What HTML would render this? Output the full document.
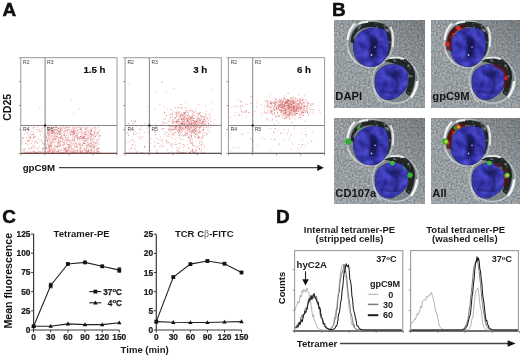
<!DOCTYPE html>
<html><head><meta charset="utf-8"><style>
html,body{margin:0;padding:0;background:#fff;width:520px;height:356px;overflow:hidden}
svg{display:block;will-change:transform;filter:blur(0.3px)}
text{font-family:"Liberation Sans", sans-serif}
</style></head><body>
<svg width="520" height="356" viewBox="0 0 520 356" font-family='"Liberation Sans", sans-serif'>
<defs>
<filter id="nzA" x="0" y="0" width="100%" height="100%" color-interpolation-filters="sRGB"><feTurbulence type="fractalNoise" baseFrequency="0.55" numOctaves="2" seed="4"/><feColorMatrix type="matrix" values="0.42 0 0 0 0.385  0.42 0 0 0 0.41  0.42 0 0 0 0.425  0 0 0 0 1"/></filter>
<filter id="patchy" x="-10%" y="-10%" width="120%" height="120%" color-interpolation-filters="sRGB"><feTurbulence type="fractalNoise" baseFrequency="0.22" numOctaves="2" seed="2" result="n"/><feColorMatrix in="n" type="matrix" values="0 0 0 0 0  0 0 0 0 0  0 0 0 0 0  4.0 0 0 0 -0.75" result="m"/><feComposite in="SourceGraphic" in2="m" operator="in"/></filter>
<filter id="nuc" x="0" y="0" width="100%" height="100%" color-interpolation-filters="sRGB"><feTurbulence type="fractalNoise" baseFrequency="0.13" numOctaves="2" seed="5"/><feColorMatrix type="matrix" values="0.24 0 0 0 0.11  0.24 0 0 0 0.11  0.42 0 0 0 0.49  0 0 0 0 1"/><feComposite in2="SourceAlpha" operator="in"/></filter>
<linearGradient id="shade" x1="0" y1="1" x2="1" y2="0"><stop offset="0" stop-color="#fff" stop-opacity="0.06"/><stop offset="0.45" stop-color="#000" stop-opacity="0"/><stop offset="1" stop-color="#000" stop-opacity="0.22"/></linearGradient>
<filter id="soft" x="-20%" y="-20%" width="140%" height="140%"><feGaussianBlur stdDeviation="0.9"/></filter>
<filter id="soft2" x="-5%" y="-5%" width="110%" height="110%"><feGaussianBlur stdDeviation="0.45"/></filter>
</defs>
<clipPath id="cp1"><rect x="0" y="0" width="91" height="88"/></clipPath>
<g transform="translate(334,20)" clip-path="url(#cp1)">
<rect width="91" height="88" fill="#8c9497"/>
<rect width="91" height="88" filter="url(#nzA)" />
<rect width="91" height="88" fill="url(#shade)" />
<g transform="translate(0,0)">
<g filter="url(#soft2)">
<ellipse cx="36" cy="24" rx="22" ry="22.8" fill="#6c7476" opacity="0.55"/>
<circle cx="61.3" cy="60.3" r="22.3" fill="#6c7476" opacity="0.55"/>
<ellipse cx="36" cy="24" rx="22.6" ry="23.3" fill="none" stroke="#e2e6e6" stroke-width="1.8" opacity="0.45"/>
<circle cx="61.3" cy="60.3" r="22.9" fill="none" stroke="#e2e6e6" stroke-width="1.8" opacity="0.45"/>
<path d="M16.5 22 Q17 9 28 3.5 Q40 0 50 4 Q57.5 9 57.5 20 Q57 29 54 36 L51 33 Q53.5 24 52 15 Q48 8.5 39 7 Q29 6.5 23 12 Q19.5 17 20 24Z" fill="#1c2121" opacity="0.95" filter="url(#patchy)"/>
<path d="M50 41 Q61 36 72 39.5 Q81.5 46 81 58 Q80 68 75.5 76 L71.5 73 Q75.5 63 74 53 Q69 45.5 58 43Z" fill="#1a201e" opacity="0.95" filter="url(#patchy)"/>
<path d="M13.6 20 Q14.5 9 21 3.5" fill="none" stroke="#f2f4f4" stroke-width="2.2" opacity="0.95"/>
<path d="M25 3.6 Q29 1.6 34 2" fill="none" stroke="#f2f4f4" stroke-width="2" opacity="0.9"/>
<path d="M56.5 7 Q60.5 15 58.6 27" fill="none" stroke="#eef0f0" stroke-width="1.9" opacity="0.9"/>
<path d="M83 61 Q82.5 70 77 77.5" fill="none" stroke="#f4f6f6" stroke-width="2.3"/>
<path d="M56 38 Q63 36.8 70 39" fill="none" stroke="#eef0f0" stroke-width="1.9" opacity="0.9"/>
<path d="M14.5 30 Q17 38 23 43" fill="none" stroke="#d8dcdc" stroke-width="1.6" opacity="0.6"/>
<path d="M40 68 Q41 78 48 82" fill="none" stroke="#d8dcdc" stroke-width="1.6" opacity="0.6"/>
</g>
<path d="M40.00 8.00C41.92 8.07 45.08 8.22 47.00 8.80C48.92 9.38 50.33 9.97 51.50 11.50C52.67 13.03 53.48 15.75 54.00 18.00C54.52 20.25 54.67 22.50 54.60 25.00C54.53 27.50 54.28 30.58 53.60 33.00C52.92 35.42 51.93 37.58 50.50 39.50C49.07 41.42 46.92 43.32 45.00 44.50C43.08 45.68 41.08 46.35 39.00 46.60C36.92 46.85 34.50 46.52 32.50 46.00C30.50 45.48 28.67 44.75 27.00 43.50C25.33 42.25 23.70 40.58 22.50 38.50C21.30 36.42 20.22 33.58 19.80 31.00C19.38 28.42 19.50 25.42 20.00 23.00C20.50 20.58 21.63 18.33 22.80 16.50C23.97 14.67 25.55 13.15 27.00 12.00C28.45 10.85 30.08 10.20 31.50 9.60C32.92 9.00 34.08 8.67 35.50 8.40C36.92 8.13 38.08 7.93 40.00 8.00Z" fill="#22226a" stroke="#22226a" stroke-width="0.8"/>
<path d="M58.40 44.70C60.07 44.70 62.23 44.62 64.00 45.00C65.77 45.38 67.58 46.00 69.00 47.00C70.42 48.00 71.67 49.33 72.50 51.00C73.33 52.67 73.83 54.83 74.00 57.00C74.17 59.17 74.00 61.83 73.50 64.00C73.00 66.17 72.25 68.17 71.00 70.00C69.75 71.83 67.83 73.58 66.00 75.00C64.17 76.42 61.77 77.72 60.00 78.50C58.23 79.28 57.23 79.70 55.40 79.70C53.57 79.70 50.73 79.28 49.00 78.50C47.27 77.72 46.17 76.58 45.00 75.00C43.83 73.42 42.63 71.17 42.00 69.00C41.37 66.83 41.20 64.33 41.20 62.00C41.20 59.67 41.37 57.00 42.00 55.00C42.63 53.00 43.67 51.42 45.00 50.00C46.33 48.58 48.50 47.33 50.00 46.50C51.50 45.67 52.60 45.30 54.00 45.00C55.40 44.70 56.73 44.70 58.40 44.70Z" fill="#22226a" stroke="#22226a" stroke-width="0.8"/>
<path d="M40.00 8.00C41.92 8.07 45.08 8.22 47.00 8.80C48.92 9.38 50.33 9.97 51.50 11.50C52.67 13.03 53.48 15.75 54.00 18.00C54.52 20.25 54.67 22.50 54.60 25.00C54.53 27.50 54.28 30.58 53.60 33.00C52.92 35.42 51.93 37.58 50.50 39.50C49.07 41.42 46.92 43.32 45.00 44.50C43.08 45.68 41.08 46.35 39.00 46.60C36.92 46.85 34.50 46.52 32.50 46.00C30.50 45.48 28.67 44.75 27.00 43.50C25.33 42.25 23.70 40.58 22.50 38.50C21.30 36.42 20.22 33.58 19.80 31.00C19.38 28.42 19.50 25.42 20.00 23.00C20.50 20.58 21.63 18.33 22.80 16.50C23.97 14.67 25.55 13.15 27.00 12.00C28.45 10.85 30.08 10.20 31.50 9.60C32.92 9.00 34.08 8.67 35.50 8.40C36.92 8.13 38.08 7.93 40.00 8.00Z" fill="#3a3ab4" filter="url(#nuc)"/>
<path d="M58.40 44.70C60.07 44.70 62.23 44.62 64.00 45.00C65.77 45.38 67.58 46.00 69.00 47.00C70.42 48.00 71.67 49.33 72.50 51.00C73.33 52.67 73.83 54.83 74.00 57.00C74.17 59.17 74.00 61.83 73.50 64.00C73.00 66.17 72.25 68.17 71.00 70.00C69.75 71.83 67.83 73.58 66.00 75.00C64.17 76.42 61.77 77.72 60.00 78.50C58.23 79.28 57.23 79.70 55.40 79.70C53.57 79.70 50.73 79.28 49.00 78.50C47.27 77.72 46.17 76.58 45.00 75.00C43.83 73.42 42.63 71.17 42.00 69.00C41.37 66.83 41.20 64.33 41.20 62.00C41.20 59.67 41.37 57.00 42.00 55.00C42.63 53.00 43.67 51.42 45.00 50.00C46.33 48.58 48.50 47.33 50.00 46.50C51.50 45.67 52.60 45.30 54.00 45.00C55.40 44.70 56.73 44.70 58.40 44.70Z" fill="#3a3ab4" filter="url(#nuc)"/>
<path d="M35 16 Q42 14 44.5 22 Q44.5 31 42 37 Q38.5 41 34.5 38 Q36.5 30 35.5 24Z" fill="#1c1c66" opacity="1" filter="url(#soft)"/>
<ellipse cx="40" cy="24" rx="2" ry="2.4" fill="#14143e" opacity="0.9" filter="url(#soft)"/>
<ellipse cx="39" cy="31" rx="2.4" ry="3.4" fill="#16164a" opacity="0.9" filter="url(#soft)"/>
<circle cx="41" cy="27" r="0.8" fill="#b8b8c8"/>
<circle cx="37.5" cy="35" r="0.9" fill="#c8c8d8"/>
<path d="M52 52.5 Q57 54 61 57 Q64.5 62 63.5 66 Q62.5 70 60.5 72.5" fill="none" stroke="#1a1a5e" stroke-width="2.4" opacity="0.8" filter="url(#soft)"/>
<path d="M44.5 70 Q52 73.5 60.5 72.5 Q64 73 67 71" fill="none" stroke="#1a1a5e" stroke-width="2" opacity="0.75" filter="url(#soft)"/>
<ellipse cx="62" cy="53.5" rx="4.5" ry="3.5" fill="#181848" opacity="0.7" filter="url(#soft)"/>

</g>
<text x="1.3" y="80" font-size="11.2" font-weight="bold" fill="#141414">DAPI</text>
</g>
<clipPath id="cp2"><rect x="0" y="0" width="89" height="88"/></clipPath>
<g transform="translate(431,20)" clip-path="url(#cp2)">
<rect width="89" height="88" fill="#8c9497"/>
<rect width="89" height="88" filter="url(#nzA)" />
<rect width="89" height="88" fill="url(#shade)" />
<g transform="translate(0,0)">
<g filter="url(#soft2)">
<ellipse cx="36" cy="24" rx="22" ry="22.8" fill="#6c7476" opacity="0.55"/>
<circle cx="61.3" cy="60.3" r="22.3" fill="#6c7476" opacity="0.55"/>
<ellipse cx="36" cy="24" rx="22.6" ry="23.3" fill="none" stroke="#e2e6e6" stroke-width="1.8" opacity="0.45"/>
<circle cx="61.3" cy="60.3" r="22.9" fill="none" stroke="#e2e6e6" stroke-width="1.8" opacity="0.45"/>
<path d="M16.5 22 Q17 9 28 3.5 Q40 0 50 4 Q57.5 9 57.5 20 Q57 29 54 36 L51 33 Q53.5 24 52 15 Q48 8.5 39 7 Q29 6.5 23 12 Q19.5 17 20 24Z" fill="#1c2121" opacity="0.95" filter="url(#patchy)"/>
<path d="M50 41 Q61 36 72 39.5 Q81.5 46 81 58 Q80 68 75.5 76 L71.5 73 Q75.5 63 74 53 Q69 45.5 58 43Z" fill="#1a201e" opacity="0.95" filter="url(#patchy)"/>
<path d="M13.6 20 Q14.5 9 21 3.5" fill="none" stroke="#f2f4f4" stroke-width="2.2" opacity="0.95"/>
<path d="M25 3.6 Q29 1.6 34 2" fill="none" stroke="#f2f4f4" stroke-width="2" opacity="0.9"/>
<path d="M56.5 7 Q60.5 15 58.6 27" fill="none" stroke="#eef0f0" stroke-width="1.9" opacity="0.9"/>
<path d="M83 61 Q82.5 70 77 77.5" fill="none" stroke="#f4f6f6" stroke-width="2.3"/>
<path d="M56 38 Q63 36.8 70 39" fill="none" stroke="#eef0f0" stroke-width="1.9" opacity="0.9"/>
<path d="M14.5 30 Q17 38 23 43" fill="none" stroke="#d8dcdc" stroke-width="1.6" opacity="0.6"/>
<path d="M40 68 Q41 78 48 82" fill="none" stroke="#d8dcdc" stroke-width="1.6" opacity="0.6"/>
</g>
<path d="M40.00 8.00C41.92 8.07 45.08 8.22 47.00 8.80C48.92 9.38 50.33 9.97 51.50 11.50C52.67 13.03 53.48 15.75 54.00 18.00C54.52 20.25 54.67 22.50 54.60 25.00C54.53 27.50 54.28 30.58 53.60 33.00C52.92 35.42 51.93 37.58 50.50 39.50C49.07 41.42 46.92 43.32 45.00 44.50C43.08 45.68 41.08 46.35 39.00 46.60C36.92 46.85 34.50 46.52 32.50 46.00C30.50 45.48 28.67 44.75 27.00 43.50C25.33 42.25 23.70 40.58 22.50 38.50C21.30 36.42 20.22 33.58 19.80 31.00C19.38 28.42 19.50 25.42 20.00 23.00C20.50 20.58 21.63 18.33 22.80 16.50C23.97 14.67 25.55 13.15 27.00 12.00C28.45 10.85 30.08 10.20 31.50 9.60C32.92 9.00 34.08 8.67 35.50 8.40C36.92 8.13 38.08 7.93 40.00 8.00Z" fill="#22226a" stroke="#22226a" stroke-width="0.8"/>
<path d="M58.40 44.70C60.07 44.70 62.23 44.62 64.00 45.00C65.77 45.38 67.58 46.00 69.00 47.00C70.42 48.00 71.67 49.33 72.50 51.00C73.33 52.67 73.83 54.83 74.00 57.00C74.17 59.17 74.00 61.83 73.50 64.00C73.00 66.17 72.25 68.17 71.00 70.00C69.75 71.83 67.83 73.58 66.00 75.00C64.17 76.42 61.77 77.72 60.00 78.50C58.23 79.28 57.23 79.70 55.40 79.70C53.57 79.70 50.73 79.28 49.00 78.50C47.27 77.72 46.17 76.58 45.00 75.00C43.83 73.42 42.63 71.17 42.00 69.00C41.37 66.83 41.20 64.33 41.20 62.00C41.20 59.67 41.37 57.00 42.00 55.00C42.63 53.00 43.67 51.42 45.00 50.00C46.33 48.58 48.50 47.33 50.00 46.50C51.50 45.67 52.60 45.30 54.00 45.00C55.40 44.70 56.73 44.70 58.40 44.70Z" fill="#22226a" stroke="#22226a" stroke-width="0.8"/>
<path d="M40.00 8.00C41.92 8.07 45.08 8.22 47.00 8.80C48.92 9.38 50.33 9.97 51.50 11.50C52.67 13.03 53.48 15.75 54.00 18.00C54.52 20.25 54.67 22.50 54.60 25.00C54.53 27.50 54.28 30.58 53.60 33.00C52.92 35.42 51.93 37.58 50.50 39.50C49.07 41.42 46.92 43.32 45.00 44.50C43.08 45.68 41.08 46.35 39.00 46.60C36.92 46.85 34.50 46.52 32.50 46.00C30.50 45.48 28.67 44.75 27.00 43.50C25.33 42.25 23.70 40.58 22.50 38.50C21.30 36.42 20.22 33.58 19.80 31.00C19.38 28.42 19.50 25.42 20.00 23.00C20.50 20.58 21.63 18.33 22.80 16.50C23.97 14.67 25.55 13.15 27.00 12.00C28.45 10.85 30.08 10.20 31.50 9.60C32.92 9.00 34.08 8.67 35.50 8.40C36.92 8.13 38.08 7.93 40.00 8.00Z" fill="#3a3ab4" filter="url(#nuc)"/>
<path d="M58.40 44.70C60.07 44.70 62.23 44.62 64.00 45.00C65.77 45.38 67.58 46.00 69.00 47.00C70.42 48.00 71.67 49.33 72.50 51.00C73.33 52.67 73.83 54.83 74.00 57.00C74.17 59.17 74.00 61.83 73.50 64.00C73.00 66.17 72.25 68.17 71.00 70.00C69.75 71.83 67.83 73.58 66.00 75.00C64.17 76.42 61.77 77.72 60.00 78.50C58.23 79.28 57.23 79.70 55.40 79.70C53.57 79.70 50.73 79.28 49.00 78.50C47.27 77.72 46.17 76.58 45.00 75.00C43.83 73.42 42.63 71.17 42.00 69.00C41.37 66.83 41.20 64.33 41.20 62.00C41.20 59.67 41.37 57.00 42.00 55.00C42.63 53.00 43.67 51.42 45.00 50.00C46.33 48.58 48.50 47.33 50.00 46.50C51.50 45.67 52.60 45.30 54.00 45.00C55.40 44.70 56.73 44.70 58.40 44.70Z" fill="#3a3ab4" filter="url(#nuc)"/>
<path d="M35 16 Q42 14 44.5 22 Q44.5 31 42 37 Q38.5 41 34.5 38 Q36.5 30 35.5 24Z" fill="#1c1c66" opacity="1" filter="url(#soft)"/>
<ellipse cx="40" cy="24" rx="2" ry="2.4" fill="#14143e" opacity="0.9" filter="url(#soft)"/>
<ellipse cx="39" cy="31" rx="2.4" ry="3.4" fill="#16164a" opacity="0.9" filter="url(#soft)"/>
<circle cx="41" cy="27" r="0.8" fill="#b8b8c8"/>
<circle cx="37.5" cy="35" r="0.9" fill="#c8c8d8"/>
<path d="M52 52.5 Q57 54 61 57 Q64.5 62 63.5 66 Q62.5 70 60.5 72.5" fill="none" stroke="#1a1a5e" stroke-width="2.4" opacity="0.8" filter="url(#soft)"/>
<path d="M44.5 70 Q52 73.5 60.5 72.5 Q64 73 67 71" fill="none" stroke="#1a1a5e" stroke-width="2" opacity="0.75" filter="url(#soft)"/>
<ellipse cx="62" cy="53.5" rx="4.5" ry="3.5" fill="#181848" opacity="0.7" filter="url(#soft)"/>
<path d="M15.5 30 Q14 18 20 10 Q26 5 35 5 L34 8.5 Q25 9.5 22 16 Q19.5 23 21 31Z" fill="#5a1010" opacity="0.8"/>
<path d="M63 44 Q72 45.5 76.5 53 Q78.5 61 75 69 L72 66 Q74.5 59 72.5 53 Q69 48 62.5 46.5Z" fill="#5a1010" opacity="0.8"/>
<circle cx="27.5" cy="8.3" r="2.3" fill="#dc2c2c"/>
<circle cx="16.4" cy="24" r="2.2" fill="#d02626"/>
<circle cx="75" cy="58" r="2.1" fill="#c82424"/>
<circle cx="22" cy="14" r="1.3" fill="#b81e1e"/>
</g>
<text x="1.3" y="80" font-size="11.2" font-weight="bold" fill="#141414">gpC9M</text>
</g>
<clipPath id="cp3"><rect x="0" y="0" width="91" height="86"/></clipPath>
<g transform="translate(334,118)" clip-path="url(#cp3)">
<rect width="91" height="86" fill="#8c9497"/>
<rect width="91" height="86" filter="url(#nzA)" />
<rect width="91" height="86" fill="url(#shade)" />
<g transform="translate(0,0.4)">
<g filter="url(#soft2)">
<ellipse cx="36" cy="24" rx="22" ry="22.8" fill="#6c7476" opacity="0.55"/>
<circle cx="61.3" cy="60.3" r="22.3" fill="#6c7476" opacity="0.55"/>
<ellipse cx="36" cy="24" rx="22.6" ry="23.3" fill="none" stroke="#e2e6e6" stroke-width="1.8" opacity="0.45"/>
<circle cx="61.3" cy="60.3" r="22.9" fill="none" stroke="#e2e6e6" stroke-width="1.8" opacity="0.45"/>
<path d="M16.5 22 Q17 9 28 3.5 Q40 0 50 4 Q57.5 9 57.5 20 Q57 29 54 36 L51 33 Q53.5 24 52 15 Q48 8.5 39 7 Q29 6.5 23 12 Q19.5 17 20 24Z" fill="#1c2121" opacity="0.95" filter="url(#patchy)"/>
<path d="M50 41 Q61 36 72 39.5 Q81.5 46 81 58 Q80 68 75.5 76 L71.5 73 Q75.5 63 74 53 Q69 45.5 58 43Z" fill="#1a201e" opacity="0.95" filter="url(#patchy)"/>
<path d="M13.6 20 Q14.5 9 21 3.5" fill="none" stroke="#f2f4f4" stroke-width="2.2" opacity="0.95"/>
<path d="M25 3.6 Q29 1.6 34 2" fill="none" stroke="#f2f4f4" stroke-width="2" opacity="0.9"/>
<path d="M56.5 7 Q60.5 15 58.6 27" fill="none" stroke="#eef0f0" stroke-width="1.9" opacity="0.9"/>
<path d="M83 61 Q82.5 70 77 77.5" fill="none" stroke="#f4f6f6" stroke-width="2.3"/>
<path d="M56 38 Q63 36.8 70 39" fill="none" stroke="#eef0f0" stroke-width="1.9" opacity="0.9"/>
<path d="M14.5 30 Q17 38 23 43" fill="none" stroke="#d8dcdc" stroke-width="1.6" opacity="0.6"/>
<path d="M40 68 Q41 78 48 82" fill="none" stroke="#d8dcdc" stroke-width="1.6" opacity="0.6"/>
</g>
<path d="M40.00 8.00C41.92 8.07 45.08 8.22 47.00 8.80C48.92 9.38 50.33 9.97 51.50 11.50C52.67 13.03 53.48 15.75 54.00 18.00C54.52 20.25 54.67 22.50 54.60 25.00C54.53 27.50 54.28 30.58 53.60 33.00C52.92 35.42 51.93 37.58 50.50 39.50C49.07 41.42 46.92 43.32 45.00 44.50C43.08 45.68 41.08 46.35 39.00 46.60C36.92 46.85 34.50 46.52 32.50 46.00C30.50 45.48 28.67 44.75 27.00 43.50C25.33 42.25 23.70 40.58 22.50 38.50C21.30 36.42 20.22 33.58 19.80 31.00C19.38 28.42 19.50 25.42 20.00 23.00C20.50 20.58 21.63 18.33 22.80 16.50C23.97 14.67 25.55 13.15 27.00 12.00C28.45 10.85 30.08 10.20 31.50 9.60C32.92 9.00 34.08 8.67 35.50 8.40C36.92 8.13 38.08 7.93 40.00 8.00Z" fill="#22226a" stroke="#22226a" stroke-width="0.8"/>
<path d="M58.40 44.70C60.07 44.70 62.23 44.62 64.00 45.00C65.77 45.38 67.58 46.00 69.00 47.00C70.42 48.00 71.67 49.33 72.50 51.00C73.33 52.67 73.83 54.83 74.00 57.00C74.17 59.17 74.00 61.83 73.50 64.00C73.00 66.17 72.25 68.17 71.00 70.00C69.75 71.83 67.83 73.58 66.00 75.00C64.17 76.42 61.77 77.72 60.00 78.50C58.23 79.28 57.23 79.70 55.40 79.70C53.57 79.70 50.73 79.28 49.00 78.50C47.27 77.72 46.17 76.58 45.00 75.00C43.83 73.42 42.63 71.17 42.00 69.00C41.37 66.83 41.20 64.33 41.20 62.00C41.20 59.67 41.37 57.00 42.00 55.00C42.63 53.00 43.67 51.42 45.00 50.00C46.33 48.58 48.50 47.33 50.00 46.50C51.50 45.67 52.60 45.30 54.00 45.00C55.40 44.70 56.73 44.70 58.40 44.70Z" fill="#22226a" stroke="#22226a" stroke-width="0.8"/>
<path d="M40.00 8.00C41.92 8.07 45.08 8.22 47.00 8.80C48.92 9.38 50.33 9.97 51.50 11.50C52.67 13.03 53.48 15.75 54.00 18.00C54.52 20.25 54.67 22.50 54.60 25.00C54.53 27.50 54.28 30.58 53.60 33.00C52.92 35.42 51.93 37.58 50.50 39.50C49.07 41.42 46.92 43.32 45.00 44.50C43.08 45.68 41.08 46.35 39.00 46.60C36.92 46.85 34.50 46.52 32.50 46.00C30.50 45.48 28.67 44.75 27.00 43.50C25.33 42.25 23.70 40.58 22.50 38.50C21.30 36.42 20.22 33.58 19.80 31.00C19.38 28.42 19.50 25.42 20.00 23.00C20.50 20.58 21.63 18.33 22.80 16.50C23.97 14.67 25.55 13.15 27.00 12.00C28.45 10.85 30.08 10.20 31.50 9.60C32.92 9.00 34.08 8.67 35.50 8.40C36.92 8.13 38.08 7.93 40.00 8.00Z" fill="#3a3ab4" filter="url(#nuc)"/>
<path d="M58.40 44.70C60.07 44.70 62.23 44.62 64.00 45.00C65.77 45.38 67.58 46.00 69.00 47.00C70.42 48.00 71.67 49.33 72.50 51.00C73.33 52.67 73.83 54.83 74.00 57.00C74.17 59.17 74.00 61.83 73.50 64.00C73.00 66.17 72.25 68.17 71.00 70.00C69.75 71.83 67.83 73.58 66.00 75.00C64.17 76.42 61.77 77.72 60.00 78.50C58.23 79.28 57.23 79.70 55.40 79.70C53.57 79.70 50.73 79.28 49.00 78.50C47.27 77.72 46.17 76.58 45.00 75.00C43.83 73.42 42.63 71.17 42.00 69.00C41.37 66.83 41.20 64.33 41.20 62.00C41.20 59.67 41.37 57.00 42.00 55.00C42.63 53.00 43.67 51.42 45.00 50.00C46.33 48.58 48.50 47.33 50.00 46.50C51.50 45.67 52.60 45.30 54.00 45.00C55.40 44.70 56.73 44.70 58.40 44.70Z" fill="#3a3ab4" filter="url(#nuc)"/>
<path d="M35 16 Q42 14 44.5 22 Q44.5 31 42 37 Q38.5 41 34.5 38 Q36.5 30 35.5 24Z" fill="#1c1c66" opacity="1" filter="url(#soft)"/>
<ellipse cx="40" cy="24" rx="2" ry="2.4" fill="#14143e" opacity="0.9" filter="url(#soft)"/>
<ellipse cx="39" cy="31" rx="2.4" ry="3.4" fill="#16164a" opacity="0.9" filter="url(#soft)"/>
<circle cx="41" cy="27" r="0.8" fill="#b8b8c8"/>
<circle cx="37.5" cy="35" r="0.9" fill="#c8c8d8"/>
<path d="M52 52.5 Q57 54 61 57 Q64.5 62 63.5 66 Q62.5 70 60.5 72.5" fill="none" stroke="#1a1a5e" stroke-width="2.4" opacity="0.8" filter="url(#soft)"/>
<path d="M44.5 70 Q52 73.5 60.5 72.5 Q64 73 67 71" fill="none" stroke="#1a1a5e" stroke-width="2" opacity="0.75" filter="url(#soft)"/>
<ellipse cx="62" cy="53.5" rx="4.5" ry="3.5" fill="#181848" opacity="0.7" filter="url(#soft)"/>
<circle cx="14.3" cy="23.2" r="3.1" fill="#30b030"/>
<circle cx="24.5" cy="9.5" r="1.9" fill="#2a9c2a"/>
<circle cx="58.5" cy="44.7" r="2.4" fill="#3cc03c"/>
<circle cx="76" cy="56.8" r="2.6" fill="#36b236"/>
<circle cx="70" cy="49.5" r="1.2" fill="#2a9a2a"/>
</g>
<text x="1.3" y="79" font-size="11.2" font-weight="bold" fill="#141414">CD107a</text>
</g>
<clipPath id="cp4"><rect x="0" y="0" width="89" height="86"/></clipPath>
<g transform="translate(431,118)" clip-path="url(#cp4)">
<rect width="89" height="86" fill="#8c9497"/>
<rect width="89" height="86" filter="url(#nzA)" />
<rect width="89" height="86" fill="url(#shade)" />
<g transform="translate(0,0.4)">
<g filter="url(#soft2)">
<ellipse cx="36" cy="24" rx="22" ry="22.8" fill="#6c7476" opacity="0.55"/>
<circle cx="61.3" cy="60.3" r="22.3" fill="#6c7476" opacity="0.55"/>
<ellipse cx="36" cy="24" rx="22.6" ry="23.3" fill="none" stroke="#e2e6e6" stroke-width="1.8" opacity="0.45"/>
<circle cx="61.3" cy="60.3" r="22.9" fill="none" stroke="#e2e6e6" stroke-width="1.8" opacity="0.45"/>
<path d="M16.5 22 Q17 9 28 3.5 Q40 0 50 4 Q57.5 9 57.5 20 Q57 29 54 36 L51 33 Q53.5 24 52 15 Q48 8.5 39 7 Q29 6.5 23 12 Q19.5 17 20 24Z" fill="#1c2121" opacity="0.95" filter="url(#patchy)"/>
<path d="M50 41 Q61 36 72 39.5 Q81.5 46 81 58 Q80 68 75.5 76 L71.5 73 Q75.5 63 74 53 Q69 45.5 58 43Z" fill="#1a201e" opacity="0.95" filter="url(#patchy)"/>
<path d="M13.6 20 Q14.5 9 21 3.5" fill="none" stroke="#f2f4f4" stroke-width="2.2" opacity="0.95"/>
<path d="M25 3.6 Q29 1.6 34 2" fill="none" stroke="#f2f4f4" stroke-width="2" opacity="0.9"/>
<path d="M56.5 7 Q60.5 15 58.6 27" fill="none" stroke="#eef0f0" stroke-width="1.9" opacity="0.9"/>
<path d="M83 61 Q82.5 70 77 77.5" fill="none" stroke="#f4f6f6" stroke-width="2.3"/>
<path d="M56 38 Q63 36.8 70 39" fill="none" stroke="#eef0f0" stroke-width="1.9" opacity="0.9"/>
<path d="M14.5 30 Q17 38 23 43" fill="none" stroke="#d8dcdc" stroke-width="1.6" opacity="0.6"/>
<path d="M40 68 Q41 78 48 82" fill="none" stroke="#d8dcdc" stroke-width="1.6" opacity="0.6"/>
</g>
<path d="M40.00 8.00C41.92 8.07 45.08 8.22 47.00 8.80C48.92 9.38 50.33 9.97 51.50 11.50C52.67 13.03 53.48 15.75 54.00 18.00C54.52 20.25 54.67 22.50 54.60 25.00C54.53 27.50 54.28 30.58 53.60 33.00C52.92 35.42 51.93 37.58 50.50 39.50C49.07 41.42 46.92 43.32 45.00 44.50C43.08 45.68 41.08 46.35 39.00 46.60C36.92 46.85 34.50 46.52 32.50 46.00C30.50 45.48 28.67 44.75 27.00 43.50C25.33 42.25 23.70 40.58 22.50 38.50C21.30 36.42 20.22 33.58 19.80 31.00C19.38 28.42 19.50 25.42 20.00 23.00C20.50 20.58 21.63 18.33 22.80 16.50C23.97 14.67 25.55 13.15 27.00 12.00C28.45 10.85 30.08 10.20 31.50 9.60C32.92 9.00 34.08 8.67 35.50 8.40C36.92 8.13 38.08 7.93 40.00 8.00Z" fill="#22226a" stroke="#22226a" stroke-width="0.8"/>
<path d="M58.40 44.70C60.07 44.70 62.23 44.62 64.00 45.00C65.77 45.38 67.58 46.00 69.00 47.00C70.42 48.00 71.67 49.33 72.50 51.00C73.33 52.67 73.83 54.83 74.00 57.00C74.17 59.17 74.00 61.83 73.50 64.00C73.00 66.17 72.25 68.17 71.00 70.00C69.75 71.83 67.83 73.58 66.00 75.00C64.17 76.42 61.77 77.72 60.00 78.50C58.23 79.28 57.23 79.70 55.40 79.70C53.57 79.70 50.73 79.28 49.00 78.50C47.27 77.72 46.17 76.58 45.00 75.00C43.83 73.42 42.63 71.17 42.00 69.00C41.37 66.83 41.20 64.33 41.20 62.00C41.20 59.67 41.37 57.00 42.00 55.00C42.63 53.00 43.67 51.42 45.00 50.00C46.33 48.58 48.50 47.33 50.00 46.50C51.50 45.67 52.60 45.30 54.00 45.00C55.40 44.70 56.73 44.70 58.40 44.70Z" fill="#22226a" stroke="#22226a" stroke-width="0.8"/>
<path d="M40.00 8.00C41.92 8.07 45.08 8.22 47.00 8.80C48.92 9.38 50.33 9.97 51.50 11.50C52.67 13.03 53.48 15.75 54.00 18.00C54.52 20.25 54.67 22.50 54.60 25.00C54.53 27.50 54.28 30.58 53.60 33.00C52.92 35.42 51.93 37.58 50.50 39.50C49.07 41.42 46.92 43.32 45.00 44.50C43.08 45.68 41.08 46.35 39.00 46.60C36.92 46.85 34.50 46.52 32.50 46.00C30.50 45.48 28.67 44.75 27.00 43.50C25.33 42.25 23.70 40.58 22.50 38.50C21.30 36.42 20.22 33.58 19.80 31.00C19.38 28.42 19.50 25.42 20.00 23.00C20.50 20.58 21.63 18.33 22.80 16.50C23.97 14.67 25.55 13.15 27.00 12.00C28.45 10.85 30.08 10.20 31.50 9.60C32.92 9.00 34.08 8.67 35.50 8.40C36.92 8.13 38.08 7.93 40.00 8.00Z" fill="#3a3ab4" filter="url(#nuc)"/>
<path d="M58.40 44.70C60.07 44.70 62.23 44.62 64.00 45.00C65.77 45.38 67.58 46.00 69.00 47.00C70.42 48.00 71.67 49.33 72.50 51.00C73.33 52.67 73.83 54.83 74.00 57.00C74.17 59.17 74.00 61.83 73.50 64.00C73.00 66.17 72.25 68.17 71.00 70.00C69.75 71.83 67.83 73.58 66.00 75.00C64.17 76.42 61.77 77.72 60.00 78.50C58.23 79.28 57.23 79.70 55.40 79.70C53.57 79.70 50.73 79.28 49.00 78.50C47.27 77.72 46.17 76.58 45.00 75.00C43.83 73.42 42.63 71.17 42.00 69.00C41.37 66.83 41.20 64.33 41.20 62.00C41.20 59.67 41.37 57.00 42.00 55.00C42.63 53.00 43.67 51.42 45.00 50.00C46.33 48.58 48.50 47.33 50.00 46.50C51.50 45.67 52.60 45.30 54.00 45.00C55.40 44.70 56.73 44.70 58.40 44.70Z" fill="#3a3ab4" filter="url(#nuc)"/>
<path d="M35 16 Q42 14 44.5 22 Q44.5 31 42 37 Q38.5 41 34.5 38 Q36.5 30 35.5 24Z" fill="#1c1c66" opacity="1" filter="url(#soft)"/>
<ellipse cx="40" cy="24" rx="2" ry="2.4" fill="#14143e" opacity="0.9" filter="url(#soft)"/>
<ellipse cx="39" cy="31" rx="2.4" ry="3.4" fill="#16164a" opacity="0.9" filter="url(#soft)"/>
<circle cx="41" cy="27" r="0.8" fill="#b8b8c8"/>
<circle cx="37.5" cy="35" r="0.9" fill="#c8c8d8"/>
<path d="M52 52.5 Q57 54 61 57 Q64.5 62 63.5 66 Q62.5 70 60.5 72.5" fill="none" stroke="#1a1a5e" stroke-width="2.4" opacity="0.8" filter="url(#soft)"/>
<path d="M44.5 70 Q52 73.5 60.5 72.5 Q64 73 67 71" fill="none" stroke="#1a1a5e" stroke-width="2" opacity="0.75" filter="url(#soft)"/>
<ellipse cx="62" cy="53.5" rx="4.5" ry="3.5" fill="#181848" opacity="0.7" filter="url(#soft)"/>
<path d="M15.5 30 Q14 18 20 10 Q26 5 35 5 L34 8.5 Q25 9.5 22 16 Q19.5 23 21 31Z" fill="#5a1010" opacity="0.8"/>
<path d="M63 44 Q72 45.5 76.5 53 Q78.5 61 75 69 L72 66 Q74.5 59 72.5 53 Q69 48 62.5 46.5Z" fill="#5a1010" opacity="0.8"/>
<circle cx="27.5" cy="8.3" r="2.3" fill="#dc2c2c"/>
<circle cx="16.4" cy="24" r="2.2" fill="#d02626"/>
<circle cx="75" cy="58" r="2.1" fill="#c82424"/>
<circle cx="22" cy="14" r="1.3" fill="#b81e1e"/>
<circle cx="14.3" cy="23.2" r="3.1" fill="#30b030"/>
<circle cx="24.5" cy="9.5" r="1.9" fill="#2a9c2a"/>
<circle cx="58.5" cy="44.7" r="2.4" fill="#3cc03c"/>
<circle cx="76" cy="56.8" r="2.6" fill="#36b236"/>
<circle cx="70" cy="49.5" r="1.2" fill="#2a9a2a"/>
<circle cx="15" cy="23.4" r="1.7" fill="#d8d030"/>
<circle cx="27.5" cy="8.5" r="1.6" fill="#e0a030"/>
<circle cx="76.4" cy="56.8" r="1.5" fill="#d8d030"/>
</g>
<text x="1.3" y="79" font-size="11.2" font-weight="bold" fill="#141414">All</text>
</g>
<text x="2.6" y="15.7" font-size="18.9" font-weight="bold" text-anchor="start" fill="#111" stroke="#000" stroke-width="0.5">A</text>
<text x="332.1" y="15.7" font-size="18.9" font-weight="bold" text-anchor="start" fill="#111" stroke="#000" stroke-width="0.5">B</text>
<text x="2.3" y="223.2" font-size="18.9" font-weight="bold" text-anchor="start" fill="#111" stroke="#000" stroke-width="0.5">C</text>
<text x="276.1" y="223.4" font-size="18.9" font-weight="bold" text-anchor="start" fill="#111" stroke="#000" stroke-width="0.5">D</text>
<path d="M38.7 130.5h1v1h-1zM92.2 126.7h1v1h-1zM75.1 151.8h1v1h-1zM67.7 149.5h1v1h-1zM30.3 137.9h1v1h-1zM66.8 139.2h1v1h-1zM60.2 132.6h1v1h-1zM70.6 147.8h1v1h-1zM62.0 141.7h1v1h-1zM96.7 130.9h1v1h-1zM57.3 142.7h1v1h-1zM50.3 138.2h1v1h-1zM59.0 130.4h1v1h-1zM81.3 130.2h1v1h-1zM68.4 146.2h1v1h-1zM68.5 150.4h1v1h-1zM80.0 146.9h1v1h-1zM82.4 137.6h1v1h-1zM57.1 133.3h1v1h-1zM73.1 132.5h1v1h-1zM32.9 150.4h1v1h-1zM80.9 147.3h1v1h-1zM84.0 149.8h1v1h-1zM40.9 151.7h1v1h-1zM82.3 151.7h1v1h-1zM89.7 138.7h1v1h-1zM42.8 151.4h1v1h-1zM53.6 140.1h1v1h-1zM65.4 147.8h1v1h-1zM96.1 152.0h1v1h-1zM65.5 151.8h1v1h-1zM73.6 138.6h1v1h-1zM72.0 127.1h1v1h-1zM92.7 151.3h1v1h-1zM63.5 140.1h1v1h-1zM55.3 134.5h1v1h-1zM50.7 149.1h1v1h-1zM37.6 126.6h1v1h-1zM51.7 150.7h1v1h-1zM79.6 151.1h1v1h-1zM60.0 136.0h1v1h-1zM53.1 132.4h1v1h-1zM89.7 127.3h1v1h-1zM96.8 152.0h1v1h-1zM55.8 147.4h1v1h-1zM89.1 151.6h1v1h-1zM46.2 147.3h1v1h-1zM66.6 143.9h1v1h-1zM64.2 130.1h1v1h-1zM62.2 137.5h1v1h-1zM61.7 138.4h1v1h-1zM53.5 151.5h1v1h-1zM76.4 151.9h1v1h-1zM69.3 147.0h1v1h-1zM98.4 152.2h1v1h-1zM96.8 151.9h1v1h-1zM51.7 142.0h1v1h-1zM75.7 146.9h1v1h-1zM74.0 136.3h1v1h-1zM44.7 134.2h1v1h-1zM74.1 141.7h1v1h-1zM50.9 147.8h1v1h-1zM41.7 130.3h1v1h-1zM97.7 132.3h1v1h-1zM31.0 146.9h1v1h-1zM26.4 151.4h1v1h-1zM86.1 137.5h1v1h-1zM52.7 139.6h1v1h-1zM51.1 143.1h1v1h-1zM67.8 145.3h1v1h-1zM87.8 151.0h1v1h-1zM74.0 144.8h1v1h-1zM78.7 142.5h1v1h-1zM66.5 129.7h1v1h-1zM57.6 148.9h1v1h-1zM62.6 145.5h1v1h-1zM72.9 150.4h1v1h-1zM34.7 145.9h1v1h-1zM90.3 137.0h1v1h-1zM59.9 143.6h1v1h-1zM59.2 132.9h1v1h-1zM22.1 141.2h1v1h-1zM89.1 151.7h1v1h-1zM87.6 151.1h1v1h-1zM53.5 135.4h1v1h-1zM34.5 152.0h1v1h-1zM83.1 140.3h1v1h-1zM64.1 128.1h1v1h-1zM61.5 152.1h1v1h-1zM46.3 131.4h1v1h-1zM76.3 135.8h1v1h-1zM83.7 134.5h1v1h-1zM60.2 132.3h1v1h-1zM87.0 127.6h1v1h-1zM70.3 135.3h1v1h-1zM49.2 131.9h1v1h-1zM73.0 126.6h1v1h-1zM68.4 151.5h1v1h-1zM54.9 146.6h1v1h-1zM90.2 132.0h1v1h-1zM49.6 148.9h1v1h-1zM43.2 142.7h1v1h-1zM89.8 133.2h1v1h-1zM74.5 146.8h1v1h-1zM49.9 150.9h1v1h-1zM69.5 131.3h1v1h-1zM56.4 152.0h1v1h-1zM51.7 129.8h1v1h-1zM26.8 151.9h1v1h-1zM90.9 151.4h1v1h-1zM50.6 129.2h1v1h-1zM55.0 146.9h1v1h-1zM48.8 151.9h1v1h-1zM67.4 151.8h1v1h-1zM83.7 140.5h1v1h-1zM60.7 148.6h1v1h-1zM76.5 134.5h1v1h-1zM57.9 137.0h1v1h-1zM30.3 135.8h1v1h-1zM64.3 151.5h1v1h-1zM72.8 136.4h1v1h-1zM38.0 138.5h1v1h-1zM49.2 133.5h1v1h-1zM97.0 139.9h1v1h-1zM79.6 130.2h1v1h-1zM53.7 127.2h1v1h-1zM58.5 137.3h1v1h-1zM21.8 143.2h1v1h-1zM65.4 151.8h1v1h-1zM95.9 149.2h1v1h-1zM76.7 140.6h1v1h-1zM83.5 148.7h1v1h-1zM32.0 151.4h1v1h-1zM65.0 127.3h1v1h-1zM59.8 141.3h1v1h-1zM62.4 137.4h1v1h-1zM95.2 134.4h1v1h-1zM65.7 130.2h1v1h-1zM35.6 141.3h1v1h-1zM86.8 129.7h1v1h-1zM86.0 148.5h1v1h-1zM92.8 142.5h1v1h-1zM79.6 142.8h1v1h-1zM50.0 143.1h1v1h-1zM82.3 126.8h1v1h-1zM74.1 146.5h1v1h-1zM48.9 139.6h1v1h-1zM49.5 145.7h1v1h-1zM93.0 136.6h1v1h-1zM92.4 141.4h1v1h-1zM80.0 144.7h1v1h-1zM70.6 150.7h1v1h-1zM63.9 151.7h1v1h-1zM84.0 136.4h1v1h-1zM47.0 140.9h1v1h-1zM46.6 143.3h1v1h-1zM55.0 139.3h1v1h-1zM50.2 150.2h1v1h-1zM44.8 149.6h1v1h-1zM90.1 152.0h1v1h-1zM29.7 140.3h1v1h-1zM59.7 133.8h1v1h-1zM54.3 132.9h1v1h-1zM84.7 151.5h1v1h-1zM65.8 139.6h1v1h-1zM95.3 143.6h1v1h-1zM65.6 138.8h1v1h-1zM24.2 151.9h1v1h-1zM53.3 141.9h1v1h-1zM37.3 151.5h1v1h-1zM86.6 134.0h1v1h-1zM86.9 138.0h1v1h-1zM51.1 151.4h1v1h-1zM92.4 149.6h1v1h-1zM89.9 139.7h1v1h-1zM53.8 136.7h1v1h-1zM91.0 138.7h1v1h-1zM92.6 143.9h1v1h-1zM81.0 146.7h1v1h-1zM82.0 151.9h1v1h-1zM46.8 151.7h1v1h-1zM61.6 128.1h1v1h-1zM79.1 127.3h1v1h-1zM48.1 135.2h1v1h-1zM89.4 143.0h1v1h-1zM54.6 150.8h1v1h-1zM64.4 134.2h1v1h-1zM86.6 152.2h1v1h-1zM55.6 138.8h1v1h-1zM87.3 139.7h1v1h-1zM73.0 133.6h1v1h-1zM56.8 151.5h1v1h-1zM60.2 131.3h1v1h-1zM70.8 130.2h1v1h-1zM57.7 141.4h1v1h-1zM74.4 137.1h1v1h-1zM70.0 151.7h1v1h-1zM29.4 151.5h1v1h-1zM66.2 151.5h1v1h-1zM80.3 150.8h1v1h-1zM44.0 152.1h1v1h-1zM98.0 132.9h1v1h-1zM83.9 147.6h1v1h-1zM59.4 137.5h1v1h-1zM75.9 151.0h1v1h-1zM60.2 139.8h1v1h-1zM54.3 145.1h1v1h-1zM86.2 128.1h1v1h-1zM88.5 151.8h1v1h-1zM49.1 139.7h1v1h-1zM80.3 147.6h1v1h-1zM88.2 135.1h1v1h-1zM23.7 149.8h1v1h-1zM79.9 147.3h1v1h-1zM89.2 144.3h1v1h-1zM63.9 148.4h1v1h-1zM81.0 147.1h1v1h-1zM30.1 138.3h1v1h-1zM47.2 151.2h1v1h-1zM40.3 151.6h1v1h-1zM89.5 130.1h1v1h-1zM79.2 144.0h1v1h-1zM94.0 127.3h1v1h-1zM69.3 131.6h1v1h-1zM98.1 150.7h1v1h-1zM79.6 144.9h1v1h-1zM51.9 130.7h1v1h-1zM34.3 136.5h1v1h-1zM79.9 138.7h1v1h-1zM56.6 145.4h1v1h-1zM48.0 131.7h1v1h-1zM64.8 151.7h1v1h-1zM60.5 151.8h1v1h-1zM61.2 126.5h1v1h-1zM73.9 150.6h1v1h-1zM79.4 138.8h1v1h-1zM69.5 127.1h1v1h-1zM79.0 144.1h1v1h-1zM33.1 131.4h1v1h-1zM60.8 151.7h1v1h-1zM52.9 132.9h1v1h-1zM53.0 150.2h1v1h-1zM31.1 130.6h1v1h-1zM48.8 126.5h1v1h-1zM53.7 149.1h1v1h-1zM72.8 142.9h1v1h-1zM66.4 138.8h1v1h-1zM71.4 147.8h1v1h-1zM60.3 129.9h1v1h-1zM94.5 138.2h1v1h-1zM69.6 127.0h1v1h-1zM86.7 151.7h1v1h-1zM51.4 130.2h1v1h-1zM41.3 127.9h1v1h-1zM62.1 127.8h1v1h-1zM70.0 130.7h1v1h-1zM70.2 132.4h1v1h-1zM54.6 135.0h1v1h-1zM72.7 140.5h1v1h-1zM63.0 137.7h1v1h-1zM70.7 130.7h1v1h-1zM79.7 136.8h1v1h-1zM77.5 135.9h1v1h-1zM41.4 147.9h1v1h-1zM64.5 151.8h1v1h-1zM87.8 143.9h1v1h-1zM86.0 139.6h1v1h-1zM53.7 139.3h1v1h-1zM68.7 127.0h1v1h-1zM33.3 136.5h1v1h-1zM79.1 139.2h1v1h-1zM34.2 142.4h1v1h-1zM42.1 151.5h1v1h-1zM64.1 133.6h1v1h-1zM59.2 145.3h1v1h-1zM73.6 113.4h1v1h-1zM84.2 142.9h1v1h-1zM95.6 148.7h1v1h-1zM88.7 136.7h1v1h-1zM90.5 136.0h1v1h-1zM29.1 135.7h1v1h-1zM84.3 136.1h1v1h-1zM72.5 135.5h1v1h-1zM46.2 139.3h1v1h-1zM79.6 145.6h1v1h-1zM79.8 150.2h1v1h-1zM78.0 136.8h1v1h-1zM41.1 151.4h1v1h-1zM88.6 131.3h1v1h-1zM94.4 130.9h1v1h-1zM66.9 149.2h1v1h-1zM47.2 138.5h1v1h-1zM64.5 130.5h1v1h-1zM25.9 137.6h1v1h-1zM81.2 135.6h1v1h-1zM94.1 145.6h1v1h-1zM53.5 138.1h1v1h-1zM47.8 130.4h1v1h-1zM93.1 135.0h1v1h-1zM91.4 152.1h1v1h-1zM48.5 151.6h1v1h-1zM88.8 151.8h1v1h-1zM73.4 149.8h1v1h-1zM42.9 126.8h1v1h-1zM59.3 136.9h1v1h-1zM84.5 132.8h1v1h-1zM65.1 126.5h1v1h-1zM84.8 141.0h1v1h-1zM89.8 137.7h1v1h-1zM83.1 138.3h1v1h-1zM62.1 144.8h1v1h-1zM32.0 145.3h1v1h-1zM98.3 142.1h1v1h-1zM88.9 136.7h1v1h-1zM82.6 142.1h1v1h-1zM34.8 141.6h1v1h-1zM65.4 143.3h1v1h-1zM47.3 132.6h1v1h-1zM46.8 143.4h1v1h-1zM48.9 129.9h1v1h-1zM33.4 151.4h1v1h-1zM90.0 138.9h1v1h-1zM72.4 150.6h1v1h-1zM74.1 149.3h1v1h-1zM31.7 131.3h1v1h-1zM52.3 151.5h1v1h-1zM70.0 133.3h1v1h-1zM47.9 150.6h1v1h-1zM63.0 145.3h1v1h-1zM80.1 128.6h1v1h-1zM46.3 151.8h1v1h-1zM90.2 141.7h1v1h-1zM88.1 142.8h1v1h-1zM90.2 152.0h1v1h-1zM65.2 149.5h1v1h-1zM55.8 132.2h1v1h-1zM58.4 149.8h1v1h-1zM77.2 131.8h1v1h-1zM79.7 137.4h1v1h-1zM74.4 140.5h1v1h-1zM46.2 147.2h1v1h-1zM53.8 133.9h1v1h-1zM88.1 144.9h1v1h-1zM59.0 152.2h1v1h-1zM61.5 136.2h1v1h-1zM40.7 151.5h1v1h-1zM79.7 144.5h1v1h-1zM52.0 128.3h1v1h-1zM67.0 139.7h1v1h-1zM54.7 135.3h1v1h-1zM76.2 137.0h1v1h-1zM80.6 135.6h1v1h-1zM34.1 148.3h1v1h-1zM62.8 141.7h1v1h-1zM94.4 127.7h1v1h-1zM89.8 149.7h1v1h-1zM41.1 151.9h1v1h-1zM74.0 151.7h1v1h-1zM93.8 131.7h1v1h-1zM77.5 131.8h1v1h-1zM49.5 127.4h1v1h-1zM96.4 149.3h1v1h-1zM68.7 148.0h1v1h-1zM98.7 151.8h1v1h-1zM40.1 152.0h1v1h-1zM51.2 144.7h1v1h-1zM91.1 142.8h1v1h-1zM87.6 139.8h1v1h-1zM73.1 151.8h1v1h-1zM40.8 139.8h1v1h-1zM69.9 151.3h1v1h-1zM28.6 151.9h1v1h-1zM54.6 131.9h1v1h-1zM48.9 141.3h1v1h-1zM43.2 151.6h1v1h-1zM68.6 140.9h1v1h-1zM57.6 149.4h1v1h-1zM86.4 150.9h1v1h-1zM44.1 141.4h1v1h-1zM24.2 151.6h1v1h-1zM75.4 129.9h1v1h-1zM79.6 151.8h1v1h-1zM84.2 140.9h1v1h-1zM57.0 142.4h1v1h-1zM30.8 134.0h1v1h-1zM76.3 133.3h1v1h-1zM71.7 137.6h1v1h-1zM82.2 134.3h1v1h-1zM76.9 135.0h1v1h-1zM40.6 130.9h1v1h-1zM82.6 136.7h1v1h-1zM83.4 135.7h1v1h-1zM51.2 150.6h1v1h-1zM60.5 129.9h1v1h-1zM64.6 127.0h1v1h-1zM34.0 151.8h1v1h-1zM56.3 131.2h1v1h-1zM62.7 134.4h1v1h-1zM81.6 152.0h1v1h-1zM54.4 142.0h1v1h-1zM83.6 151.7h1v1h-1zM65.4 146.8h1v1h-1zM78.1 141.5h1v1h-1zM62.5 137.6h1v1h-1zM99.0 130.7h1v1h-1zM90.9 151.6h1v1h-1zM96.2 138.9h1v1h-1zM46.8 133.3h1v1h-1zM47.9 128.1h1v1h-1zM86.4 146.1h1v1h-1zM84.4 126.8h1v1h-1zM48.6 145.5h1v1h-1zM59.5 128.4h1v1h-1zM47.1 127.4h1v1h-1zM75.1 127.2h1v1h-1zM26.8 128.8h1v1h-1zM70.1 146.1h1v1h-1zM92.3 139.3h1v1h-1zM79.2 132.2h1v1h-1zM64.6 136.0h1v1h-1zM79.9 151.0h1v1h-1zM85.5 131.7h1v1h-1zM53.5 139.3h1v1h-1zM54.2 149.5h1v1h-1zM39.5 130.6h1v1h-1zM40.9 152.0h1v1h-1zM91.2 145.9h1v1h-1zM92.7 140.9h1v1h-1zM88.7 133.4h1v1h-1zM63.3 130.4h1v1h-1zM60.1 149.9h1v1h-1zM72.3 151.4h1v1h-1zM82.1 137.4h1v1h-1zM39.6 150.9h1v1h-1zM87.7 138.4h1v1h-1zM86.7 134.2h1v1h-1zM48.1 133.2h1v1h-1zM84.4 127.7h1v1h-1zM83.5 151.7h1v1h-1zM90.0 133.9h1v1h-1zM98.9 136.0h1v1h-1zM74.0 127.0h1v1h-1zM47.2 134.4h1v1h-1zM55.7 152.2h1v1h-1zM76.3 136.2h1v1h-1zM95.6 149.9h1v1h-1zM74.7 152.2h1v1h-1zM98.3 127.0h1v1h-1zM43.4 133.0h1v1h-1zM69.3 150.2h1v1h-1zM66.9 151.9h1v1h-1zM91.0 150.3h1v1h-1zM52.4 131.4h1v1h-1zM24.1 149.1h1v1h-1zM28.5 152.0h1v1h-1zM51.8 139.3h1v1h-1zM83.3 145.7h1v1h-1zM47.8 135.3h1v1h-1zM44.4 151.6h1v1h-1zM45.0 152.1h1v1h-1zM49.0 133.6h1v1h-1zM94.2 147.8h1v1h-1zM60.3 137.2h1v1h-1zM90.1 142.9h1v1h-1zM93.5 146.0h1v1h-1zM94.9 129.3h1v1h-1zM49.1 145.4h1v1h-1zM76.8 151.5h1v1h-1zM85.2 131.4h1v1h-1zM91.9 134.0h1v1h-1zM72.9 152.1h1v1h-1zM59.8 141.2h1v1h-1zM72.9 148.6h1v1h-1zM68.3 149.0h1v1h-1zM96.9 133.0h1v1h-1zM93.6 146.9h1v1h-1zM56.0 152.1h1v1h-1zM60.9 137.3h1v1h-1zM90.3 130.7h1v1h-1zM52.8 138.8h1v1h-1zM96.3 145.2h1v1h-1zM85.7 137.9h1v1h-1zM94.0 149.5h1v1h-1zM62.1 141.0h1v1h-1zM74.3 151.9h1v1h-1zM55.9 126.6h1v1h-1zM65.3 129.2h1v1h-1zM22.0 137.2h1v1h-1zM63.6 132.3h1v1h-1zM76.1 135.6h1v1h-1zM31.4 151.2h1v1h-1zM36.2 147.5h1v1h-1zM77.2 150.0h1v1h-1zM84.7 151.7h1v1h-1zM26.2 151.5h1v1h-1zM68.4 137.4h1v1h-1zM48.8 151.8h1v1h-1zM49.5 141.9h1v1h-1zM54.9 148.9h1v1h-1zM28.0 136.7h1v1h-1zM74.7 136.0h1v1h-1zM38.0 150.3h1v1h-1zM58.8 150.1h1v1h-1zM35.4 151.5h1v1h-1zM58.0 141.7h1v1h-1zM99.8 152.1h1v1h-1zM59.9 137.4h1v1h-1zM52.6 148.6h1v1h-1zM73.7 152.1h1v1h-1zM27.4 144.1h1v1h-1zM32.3 134.6h1v1h-1zM80.8 140.2h1v1h-1zM67.4 140.0h1v1h-1zM54.3 133.5h1v1h-1zM76.4 126.8h1v1h-1zM56.1 151.9h1v1h-1zM78.5 139.7h1v1h-1zM35.5 135.7h1v1h-1zM49.2 146.5h1v1h-1zM48.7 141.0h1v1h-1zM72.0 128.1h1v1h-1zM81.2 145.1h1v1h-1zM82.2 134.1h1v1h-1zM85.7 130.9h1v1h-1zM49.2 144.7h1v1h-1zM85.9 127.3h1v1h-1zM78.6 144.2h1v1h-1zM93.7 142.3h1v1h-1zM44.5 147.4h1v1h-1zM45.6 151.9h1v1h-1zM58.0 131.2h1v1h-1zM55.7 128.7h1v1h-1zM56.9 126.8h1v1h-1zM70.2 135.3h1v1h-1zM48.0 131.2h1v1h-1zM34.5 141.4h1v1h-1zM67.2 136.9h1v1h-1zM84.3 134.7h1v1h-1zM75.5 151.0h1v1h-1zM52.4 151.4h1v1h-1zM32.7 137.9h1v1h-1zM52.5 138.0h1v1h-1zM64.8 150.0h1v1h-1zM77.6 151.7h1v1h-1zM64.9 138.4h1v1h-1zM54.1 139.2h1v1h-1zM40.3 151.5h1v1h-1zM51.8 130.5h1v1h-1zM57.7 151.3h1v1h-1zM52.3 142.1h1v1h-1zM73.7 130.4h1v1h-1zM81.2 138.1h1v1h-1zM58.5 139.1h1v1h-1zM85.5 147.9h1v1h-1zM74.0 139.6h1v1h-1zM48.9 149.9h1v1h-1zM49.3 151.9h1v1h-1zM93.5 127.6h1v1h-1zM53.3 148.8h1v1h-1zM66.6 152.1h1v1h-1zM51.5 149.1h1v1h-1zM49.0 151.6h1v1h-1zM56.6 147.2h1v1h-1zM35.1 139.4h1v1h-1zM70.1 134.4h1v1h-1zM52.6 139.3h1v1h-1zM48.0 137.8h1v1h-1zM49.2 136.7h1v1h-1zM56.5 131.8h1v1h-1zM39.3 107.4h1v1h-1zM36.9 151.8h1v1h-1zM31.1 142.9h1v1h-1zM80.5 133.9h1v1h-1zM48.6 147.8h1v1h-1zM50.7 142.3h1v1h-1zM72.7 129.4h1v1h-1zM90.7 141.0h1v1h-1zM88.7 131.7h1v1h-1zM73.9 144.2h1v1h-1zM50.9 135.4h1v1h-1zM80.2 147.8h1v1h-1zM79.2 147.9h1v1h-1zM96.9 131.4h1v1h-1zM63.4 152.1h1v1h-1zM86.4 150.3h1v1h-1zM85.8 134.4h1v1h-1zM89.0 151.6h1v1h-1zM48.0 148.3h1v1h-1zM82.3 138.6h1v1h-1zM73.4 151.5h1v1h-1zM59.1 141.4h1v1h-1zM62.9 148.3h1v1h-1zM27.7 151.8h1v1h-1zM60.2 145.5h1v1h-1zM80.2 148.1h1v1h-1zM90.3 150.1h1v1h-1zM81.5 129.7h1v1h-1zM56.9 126.7h1v1h-1zM91.0 134.1h1v1h-1zM46.8 150.2h1v1h-1zM47.1 151.7h1v1h-1zM99.0 139.1h1v1h-1zM29.2 140.3h1v1h-1zM78.9 108.6h1v1h-1zM51.4 136.8h1v1h-1zM61.7 140.8h1v1h-1zM33.6 129.1h1v1h-1zM31.6 128.1h1v1h-1zM48.7 146.6h1v1h-1zM46.8 126.8h1v1h-1zM59.5 134.1h1v1h-1zM28.0 139.8h1v1h-1zM58.3 132.3h1v1h-1zM43.5 136.6h1v1h-1zM89.6 130.2h1v1h-1zM65.9 149.0h1v1h-1zM59.8 131.7h1v1h-1zM85.7 150.9h1v1h-1zM83.1 132.5h1v1h-1zM96.1 133.0h1v1h-1zM58.6 146.4h1v1h-1zM57.3 141.6h1v1h-1zM33.9 151.9h1v1h-1zM97.2 133.3h1v1h-1zM83.2 142.0h1v1h-1zM71.1 148.3h1v1h-1zM50.5 148.8h1v1h-1zM77.5 131.4h1v1h-1zM72.5 148.2h1v1h-1zM36.6 151.8h1v1h-1zM59.6 151.6h1v1h-1zM86.3 132.9h1v1h-1zM78.3 137.0h1v1h-1zM90.7 133.9h1v1h-1zM67.7 135.5h1v1h-1zM73.9 138.9h1v1h-1zM52.1 151.9h1v1h-1zM27.3 151.9h1v1h-1zM33.4 145.7h1v1h-1zM49.5 149.1h1v1h-1zM54.1 129.1h1v1h-1zM51.7 141.1h1v1h-1zM49.9 132.8h1v1h-1zM73.8 129.1h1v1h-1zM31.1 148.3h1v1h-1zM46.9 147.5h1v1h-1zM93.5 136.3h1v1h-1zM75.3 128.1h1v1h-1zM87.0 142.5h1v1h-1zM39.0 151.9h1v1h-1zM39.9 134.5h1v1h-1zM63.5 134.8h1v1h-1zM70.6 128.8h1v1h-1zM91.7 128.0h1v1h-1zM94.4 130.3h1v1h-1zM51.5 151.5h1v1h-1zM68.1 137.8h1v1h-1zM76.9 136.8h1v1h-1zM45.0 140.0h1v1h-1zM90.9 130.1h1v1h-1zM62.9 152.1h1v1h-1zM74.2 131.3h1v1h-1zM58.6 145.8h1v1h-1zM61.5 149.8h1v1h-1zM38.5 151.8h1v1h-1zM87.4 135.5h1v1h-1zM37.6 147.8h1v1h-1zM71.9 152.2h1v1h-1zM61.4 129.1h1v1h-1zM86.2 147.1h1v1h-1zM59.1 134.3h1v1h-1zM78.2 126.8h1v1h-1zM65.0 148.6h1v1h-1zM92.3 134.8h1v1h-1zM71.4 143.8h1v1h-1zM90.6 147.6h1v1h-1zM59.6 143.1h1v1h-1zM59.6 151.9h1v1h-1zM51.6 134.9h1v1h-1zM48.6 129.1h1v1h-1zM70.4 142.7h1v1h-1zM89.7 128.6h1v1h-1zM53.9 133.1h1v1h-1zM53.6 127.8h1v1h-1zM67.1 149.7h1v1h-1zM47.8 136.9h1v1h-1zM87.9 130.2h1v1h-1zM68.6 150.2h1v1h-1zM63.2 151.6h1v1h-1zM70.7 149.5h1v1h-1zM91.0 136.2h1v1h-1zM83.1 143.0h1v1h-1zM56.3 136.0h1v1h-1zM48.9 150.6h1v1h-1zM87.3 142.3h1v1h-1zM59.8 129.7h1v1h-1zM59.4 137.7h1v1h-1zM43.4 151.7h1v1h-1zM99.4 129.0h1v1h-1zM50.6 140.9h1v1h-1zM83.3 148.8h1v1h-1zM69.1 139.9h1v1h-1zM90.7 147.4h1v1h-1zM54.0 150.4h1v1h-1zM70.2 134.3h1v1h-1zM94.7 146.0h1v1h-1zM76.5 144.7h1v1h-1zM57.4 151.8h1v1h-1zM63.0 150.0h1v1h-1zM68.1 129.2h1v1h-1zM51.4 131.2h1v1h-1zM70.3 134.6h1v1h-1zM50.8 142.7h1v1h-1zM79.9 128.1h1v1h-1zM59.2 151.5h1v1h-1zM80.1 143.6h1v1h-1zM56.8 146.3h1v1h-1zM48.8 152.2h1v1h-1zM48.1 143.9h1v1h-1zM55.7 141.6h1v1h-1zM73.1 134.8h1v1h-1zM22.6 149.2h1v1h-1zM42.1 151.6h1v1h-1zM88.5 145.6h1v1h-1zM67.5 133.4h1v1h-1zM40.5 152.1h1v1h-1zM55.9 150.8h1v1h-1zM82.4 143.2h1v1h-1zM29.5 148.9h1v1h-1zM88.2 151.8h1v1h-1zM55.4 132.5h1v1h-1zM96.7 128.2h1v1h-1zM80.3 150.2h1v1h-1zM24.6 129.7h1v1h-1zM27.0 140.0h1v1h-1zM85.2 140.8h1v1h-1zM66.0 135.1h1v1h-1zM80.3 151.4h1v1h-1zM76.1 143.8h1v1h-1zM58.2 145.3h1v1h-1zM61.2 134.5h1v1h-1zM46.1 135.7h1v1h-1zM59.6 137.6h1v1h-1zM86.9 141.4h1v1h-1zM66.6 146.9h1v1h-1zM77.8 126.6h1v1h-1zM57.9 137.3h1v1h-1zM57.0 151.7h1v1h-1zM93.8 144.3h1v1h-1zM86.5 151.7h1v1h-1zM62.7 147.8h1v1h-1zM87.5 147.5h1v1h-1zM75.3 128.1h1v1h-1zM24.3 151.7h1v1h-1zM76.1 132.4h1v1h-1zM64.5 130.2h1v1h-1zM54.3 151.8h1v1h-1zM61.1 132.8h1v1h-1zM49.7 128.9h1v1h-1zM87.9 149.8h1v1h-1zM48.1 129.6h1v1h-1zM90.0 137.7h1v1h-1zM50.6 149.6h1v1h-1zM72.5 139.8h1v1h-1zM58.8 130.2h1v1h-1zM56.3 151.5h1v1h-1zM78.1 151.9h1v1h-1zM28.7 147.0h1v1h-1zM46.2 137.4h1v1h-1zM57.0 136.6h1v1h-1zM74.5 138.9h1v1h-1zM49.6 131.9h1v1h-1zM60.5 151.6h1v1h-1zM57.2 151.1h1v1h-1zM60.1 128.8h1v1h-1zM52.8 130.4h1v1h-1zM60.3 136.3h1v1h-1zM87.7 126.8h1v1h-1zM71.5 149.2h1v1h-1zM48.6 151.9h1v1h-1zM88.3 144.5h1v1h-1zM43.9 151.8h1v1h-1zM74.3 146.0h1v1h-1zM48.2 143.0h1v1h-1zM56.9 147.2h1v1h-1zM77.5 133.3h1v1h-1zM82.4 139.2h1v1h-1zM88.5 144.7h1v1h-1zM88.2 150.2h1v1h-1zM70.9 129.6h1v1h-1zM48.6 150.6h1v1h-1zM84.4 139.8h1v1h-1zM75.6 150.6h1v1h-1zM93.9 147.5h1v1h-1zM24.3 152.1h1v1h-1zM30.1 152.0h1v1h-1zM68.9 133.7h1v1h-1zM29.1 132.7h1v1h-1zM94.5 132.2h1v1h-1zM54.6 151.7h1v1h-1zM29.0 137.8h1v1h-1zM68.5 144.2h1v1h-1zM29.9 151.8h1v1h-1zM71.5 133.9h1v1h-1zM96.0 151.7h1v1h-1zM32.2 140.4h1v1h-1zM73.8 138.1h1v1h-1zM95.1 126.9h1v1h-1zM91.3 148.1h1v1h-1zM57.3 137.8h1v1h-1zM89.2 146.6h1v1h-1zM71.4 151.4h1v1h-1zM52.2 140.3h1v1h-1zM60.7 126.6h1v1h-1zM70.7 140.3h1v1h-1zM52.8 133.0h1v1h-1zM82.8 152.0h1v1h-1zM91.1 143.7h1v1h-1zM91.6 147.5h1v1h-1zM24.2 134.1h1v1h-1zM63.5 130.5h1v1h-1zM54.4 138.1h1v1h-1zM33.3 133.5h1v1h-1zM92.2 144.6h1v1h-1zM65.1 147.9h1v1h-1zM28.3 130.3h1v1h-1zM30.7 152.0h1v1h-1zM26.2 151.8h1v1h-1zM57.0 134.8h1v1h-1zM88.2 144.6h1v1h-1zM46.3 144.3h1v1h-1zM46.1 146.0h1v1h-1zM66.8 132.3h1v1h-1zM89.4 141.5h1v1h-1zM75.5 127.5h1v1h-1zM92.4 152.1h1v1h-1zM99.1 139.1h1v1h-1zM69.5 146.6h1v1h-1zM48.7 131.7h1v1h-1zM36.6 131.7h1v1h-1zM69.0 151.5h1v1h-1zM57.1 133.1h1v1h-1zM57.5 144.7h1v1h-1zM78.1 143.4h1v1h-1zM69.0 128.9h1v1h-1zM83.2 137.2h1v1h-1zM31.1 151.9h1v1h-1zM96.7 151.6h1v1h-1zM84.2 147.7h1v1h-1zM52.5 137.0h1v1h-1zM52.6 132.3h1v1h-1zM80.4 127.6h1v1h-1zM49.9 143.9h1v1h-1zM51.6 133.4h1v1h-1zM86.0 149.9h1v1h-1zM44.8 143.0h1v1h-1zM80.0 135.9h1v1h-1zM51.7 135.8h1v1h-1zM85.0 128.7h1v1h-1zM41.4 139.5h1v1h-1zM52.7 148.2h1v1h-1zM49.1 138.6h1v1h-1zM63.4 140.0h1v1h-1zM90.9 131.6h1v1h-1zM77.6 146.2h1v1h-1zM93.4 140.7h1v1h-1zM53.2 150.9h1v1h-1zM80.5 132.0h1v1h-1zM95.6 152.0h1v1h-1zM69.0 141.4h1v1h-1zM64.1 131.6h1v1h-1zM68.1 137.3h1v1h-1zM55.5 145.8h1v1h-1zM55.1 126.5h1v1h-1zM54.1 126.9h1v1h-1zM67.4 127.6h1v1h-1zM73.3 152.0h1v1h-1zM55.9 134.6h1v1h-1zM60.1 151.5h1v1h-1zM58.0 151.8h1v1h-1zM53.5 131.5h1v1h-1zM90.0 147.0h1v1h-1zM96.5 135.0h1v1h-1zM28.3 148.4h1v1h-1zM73.0 139.8h1v1h-1zM47.8 148.5h1v1h-1zM86.1 150.7h1v1h-1zM57.0 129.4h1v1h-1zM79.7 148.9h1v1h-1zM91.4 149.2h1v1h-1zM91.0 139.0h1v1h-1zM27.9 134.4h1v1h-1zM80.5 138.0h1v1h-1zM85.4 152.1h1v1h-1zM99.3 147.7h1v1h-1zM93.8 147.0h1v1h-1zM23.1 150.4h1v1h-1zM93.2 140.9h1v1h-1zM62.5 147.7h1v1h-1zM73.9 137.2h1v1h-1zM77.9 144.2h1v1h-1zM58.5 141.6h1v1h-1zM26.7 141.0h1v1h-1zM58.5 146.7h1v1h-1zM35.1 126.8h1v1h-1zM38.9 151.6h1v1h-1zM61.0 135.6h1v1h-1zM96.5 139.1h1v1h-1zM94.9 152.2h1v1h-1zM97.2 147.6h1v1h-1zM75.1 130.7h1v1h-1zM76.1 146.2h1v1h-1zM90.5 143.0h1v1h-1zM66.7 141.9h1v1h-1zM48.1 146.8h1v1h-1zM23.8 152.2h1v1h-1zM86.5 130.6h1v1h-1zM64.5 140.0h1v1h-1zM43.6 146.7h1v1h-1zM59.8 143.9h1v1h-1zM32.4 146.9h1v1h-1zM79.9 147.0h1v1h-1zM50.2 131.6h1v1h-1zM73.4 128.2h1v1h-1zM74.3 130.3h1v1h-1zM53.9 133.1h1v1h-1zM28.8 148.4h1v1h-1zM70.7 99.3h1v1h-1zM39.6 140.5h1v1h-1zM87.9 132.5h1v1h-1zM98.5 139.1h1v1h-1zM65.8 141.2h1v1h-1zM92.8 134.7h1v1h-1zM72.8 133.8h1v1h-1zM47.5 127.6h1v1h-1zM76.2 151.9h1v1h-1zM58.7 128.0h1v1h-1zM57.6 133.5h1v1h-1zM77.4 147.7h1v1h-1zM93.3 132.6h1v1h-1zM86.9 138.4h1v1h-1zM51.2 139.5h1v1h-1zM60.2 140.9h1v1h-1zM63.7 142.7h1v1h-1zM74.6 143.6h1v1h-1zM33.4 144.3h1v1h-1zM75.4 149.5h1v1h-1zM71.6 144.3h1v1h-1zM51.5 133.0h1v1h-1zM89.8 149.0h1v1h-1zM24.9 148.0h1v1h-1zM48.2 134.1h1v1h-1zM57.4 143.8h1v1h-1zM84.3 126.7h1v1h-1zM80.9 127.1h1v1h-1zM64.3 133.4h1v1h-1zM98.2 136.4h1v1h-1zM65.4 150.6h1v1h-1zM80.3 151.5h1v1h-1zM48.0 146.6h1v1h-1zM58.5 141.7h1v1h-1zM79.5 144.6h1v1h-1zM57.8 132.4h1v1h-1zM35.3 135.6h1v1h-1zM76.1 133.2h1v1h-1zM27.8 151.6h1v1h-1zM34.7 151.8h1v1h-1zM69.5 144.1h1v1h-1zM98.6 143.8h1v1h-1zM93.4 144.8h1v1h-1zM70.9 145.8h1v1h-1zM85.0 134.0h1v1h-1zM80.0 127.2h1v1h-1zM84.2 148.7h1v1h-1zM81.5 136.3h1v1h-1zM70.5 146.3h1v1h-1zM89.2 152.1h1v1h-1zM75.4 143.1h1v1h-1zM56.1 138.8h1v1h-1zM56.5 128.6h1v1h-1zM85.5 151.9h1v1h-1zM97.8 133.5h1v1h-1zM80.1 129.3h1v1h-1zM36.5 129.6h1v1h-1zM54.6 146.9h1v1h-1zM90.9 151.1h1v1h-1zM47.5 133.8h1v1h-1zM65.7 141.4h1v1h-1zM71.6 131.1h1v1h-1zM99.0 135.9h1v1h-1zM49.0 130.3h1v1h-1zM72.8 140.3h1v1h-1zM53.8 147.2h1v1h-1zM67.1 130.9h1v1h-1zM50.5 148.4h1v1h-1zM38.8 146.3h1v1h-1zM69.1 151.8h1v1h-1zM89.3 143.5h1v1h-1zM48.6 138.8h1v1h-1zM81.1 151.6h1v1h-1zM66.0 129.3h1v1h-1zM35.3 151.4h1v1h-1zM54.0 145.3h1v1h-1zM86.2 151.8h1v1h-1zM80.4 128.5h1v1h-1z" fill="rgba(212,50,50,0.36)"/>
<path d="M73.2 151.8h1v1h-1zM50.5 143.7h1v1h-1zM93.1 146.6h1v1h-1zM68.4 146.8h1v1h-1zM98.1 148.0h1v1h-1zM55.2 138.8h1v1h-1zM49.5 135.6h1v1h-1zM73.6 129.6h1v1h-1zM64.3 148.1h1v1h-1zM48.7 134.3h1v1h-1zM38.6 129.3h1v1h-1zM84.6 133.8h1v1h-1zM37.2 142.5h1v1h-1zM71.4 152.1h1v1h-1zM62.1 138.5h1v1h-1zM79.0 137.7h1v1h-1zM90.9 135.2h1v1h-1zM67.4 126.8h1v1h-1zM86.0 152.1h1v1h-1zM67.9 144.1h1v1h-1zM49.0 147.6h1v1h-1zM52.5 151.6h1v1h-1zM44.7 152.1h1v1h-1zM47.2 139.5h1v1h-1zM48.1 145.3h1v1h-1zM42.9 147.7h1v1h-1zM68.0 147.6h1v1h-1zM53.6 131.7h1v1h-1zM26.8 132.3h1v1h-1zM94.9 136.1h1v1h-1zM76.1 146.3h1v1h-1zM85.5 139.6h1v1h-1zM50.9 132.7h1v1h-1zM56.6 129.8h1v1h-1zM79.4 149.9h1v1h-1zM92.6 138.4h1v1h-1zM64.1 148.9h1v1h-1zM81.6 151.2h1v1h-1zM77.3 151.4h1v1h-1zM85.6 150.1h1v1h-1zM67.3 129.2h1v1h-1zM25.4 142.9h1v1h-1zM96.4 143.3h1v1h-1zM89.8 145.7h1v1h-1zM58.7 131.5h1v1h-1zM82.0 144.5h1v1h-1zM69.4 145.3h1v1h-1zM59.9 144.5h1v1h-1zM84.4 131.6h1v1h-1zM83.5 135.9h1v1h-1zM65.0 136.9h1v1h-1zM22.7 137.8h1v1h-1zM79.6 129.0h1v1h-1zM57.9 128.0h1v1h-1zM42.2 149.5h1v1h-1zM60.2 128.7h1v1h-1zM89.4 152.1h1v1h-1zM72.8 131.1h1v1h-1zM58.5 142.3h1v1h-1zM74.2 132.2h1v1h-1zM36.0 152.1h1v1h-1zM41.9 142.3h1v1h-1zM32.8 133.9h1v1h-1zM50.9 130.8h1v1h-1zM63.8 142.3h1v1h-1zM53.4 131.2h1v1h-1zM71.4 132.6h1v1h-1zM34.3 151.5h1v1h-1zM67.3 139.2h1v1h-1zM48.0 151.6h1v1h-1zM69.6 139.8h1v1h-1zM65.5 151.5h1v1h-1zM50.4 145.6h1v1h-1zM33.6 151.8h1v1h-1zM59.3 133.7h1v1h-1zM51.2 146.2h1v1h-1zM59.4 126.9h1v1h-1zM94.2 151.6h1v1h-1zM72.3 139.3h1v1h-1zM27.6 140.6h1v1h-1zM77.2 137.6h1v1h-1zM51.5 151.9h1v1h-1zM97.2 150.9h1v1h-1zM72.5 133.6h1v1h-1zM99.4 135.1h1v1h-1zM46.0 136.7h1v1h-1zM33.1 127.0h1v1h-1zM83.8 143.0h1v1h-1zM88.2 150.7h1v1h-1zM62.7 126.5h1v1h-1zM47.7 130.0h1v1h-1zM97.6 151.5h1v1h-1zM65.9 150.4h1v1h-1zM90.2 134.1h1v1h-1zM57.8 150.8h1v1h-1zM46.8 140.8h1v1h-1zM55.0 129.5h1v1h-1zM80.2 136.2h1v1h-1zM77.0 149.4h1v1h-1zM90.9 129.6h1v1h-1zM92.6 146.8h1v1h-1zM87.7 149.2h1v1h-1zM75.6 135.0h1v1h-1zM56.2 136.2h1v1h-1zM82.8 137.6h1v1h-1zM47.3 131.9h1v1h-1zM44.6 151.8h1v1h-1zM53.7 129.6h1v1h-1zM84.0 138.1h1v1h-1zM50.8 128.0h1v1h-1zM77.0 129.8h1v1h-1zM56.4 127.0h1v1h-1zM90.5 133.3h1v1h-1zM80.6 152.1h1v1h-1zM57.0 145.7h1v1h-1zM47.2 127.3h1v1h-1zM93.2 151.7h1v1h-1zM74.0 133.4h1v1h-1zM75.4 142.8h1v1h-1zM57.3 129.9h1v1h-1zM90.7 149.7h1v1h-1zM66.2 151.2h1v1h-1zM63.7 134.7h1v1h-1zM45.6 152.2h1v1h-1zM49.5 145.6h1v1h-1zM58.9 141.7h1v1h-1zM91.2 145.0h1v1h-1zM74.2 132.7h1v1h-1zM96.6 147.8h1v1h-1zM56.9 133.1h1v1h-1zM71.3 141.8h1v1h-1zM61.7 151.9h1v1h-1zM91.1 130.5h1v1h-1zM49.8 145.8h1v1h-1zM81.8 136.7h1v1h-1zM94.8 142.4h1v1h-1zM84.4 142.8h1v1h-1zM49.0 149.8h1v1h-1zM65.5 127.2h1v1h-1zM33.6 136.8h1v1h-1zM58.1 140.0h1v1h-1zM77.0 138.4h1v1h-1zM46.1 148.1h1v1h-1zM87.7 137.6h1v1h-1zM30.0 136.9h1v1h-1zM55.1 126.6h1v1h-1zM63.5 144.1h1v1h-1zM85.0 129.1h1v1h-1zM96.6 141.2h1v1h-1zM60.1 137.5h1v1h-1zM82.4 149.8h1v1h-1zM94.0 133.6h1v1h-1zM72.9 131.7h1v1h-1zM52.9 127.0h1v1h-1zM54.7 136.2h1v1h-1zM80.8 128.4h1v1h-1zM59.7 130.7h1v1h-1zM71.8 130.9h1v1h-1zM86.7 151.5h1v1h-1zM97.3 149.5h1v1h-1zM80.3 151.6h1v1h-1zM86.1 144.6h1v1h-1zM87.2 145.0h1v1h-1zM51.6 132.5h1v1h-1zM43.7 144.1h1v1h-1zM81.8 132.0h1v1h-1zM66.8 150.0h1v1h-1z" fill="rgba(170,40,40,0.6)"/>
<rect x="20.8" y="57.7" width="96.2" height="95.7" fill="none" stroke="#9a9a9a" stroke-width="1.0"/>
<line x1="20.8" y1="153.4" x2="117.0" y2="153.4" stroke="#6e4646" stroke-width="1.3"/>
<line x1="45.1" y1="57.7" x2="45.1" y2="153.4" stroke="#8c8c8c" stroke-width="1.1"/>
<line x1="20.8" y1="125.5" x2="117.0" y2="125.5" stroke="#858585" stroke-width="1.1"/>
<rect x="44.1" y="124.5" width="2" height="2" fill="#111"/>
<line x1="18.8" y1="57.7" x2="20.8" y2="57.7" stroke="#888" stroke-width="0.8"/>
<line x1="20.8" y1="153.4" x2="20.8" y2="155.4" stroke="#777" stroke-width="0.8"/>
<line x1="18.8" y1="81.625" x2="20.8" y2="81.625" stroke="#888" stroke-width="0.8"/>
<line x1="44.85" y1="153.4" x2="44.85" y2="155.4" stroke="#777" stroke-width="0.8"/>
<line x1="18.8" y1="105.55000000000001" x2="20.8" y2="105.55000000000001" stroke="#888" stroke-width="0.8"/>
<line x1="68.9" y1="153.4" x2="68.9" y2="155.4" stroke="#777" stroke-width="0.8"/>
<line x1="18.8" y1="129.47500000000002" x2="20.8" y2="129.47500000000002" stroke="#888" stroke-width="0.8"/>
<line x1="92.95" y1="153.4" x2="92.95" y2="155.4" stroke="#777" stroke-width="0.8"/>
<line x1="18.8" y1="153.4" x2="20.8" y2="153.4" stroke="#888" stroke-width="0.8"/>
<line x1="117.0" y1="153.4" x2="117.0" y2="155.4" stroke="#777" stroke-width="0.8"/>
<text x="23.1" y="63.5" font-size="5" font-weight="normal" text-anchor="start" fill="#3a3a3a" >R2</text>
<text x="47.1" y="63.5" font-size="5" font-weight="normal" text-anchor="start" fill="#3a3a3a" >R3</text>
<text x="23.1" y="131" font-size="5" font-weight="normal" text-anchor="start" fill="#3a3a3a" >R4</text>
<text x="47.1" y="131" font-size="5" font-weight="normal" text-anchor="start" fill="#3a3a3a" >R5</text>
<text x="105.5" y="72.8" font-size="9.7" font-weight="bold" text-anchor="end" fill="#111" stroke="#111" stroke-width="0.2">1.5 h</text>
<path d="M183.3 126.5h1v1h-1zM186.0 133.4h1v1h-1zM197.2 135.8h1v1h-1zM185.1 130.4h1v1h-1zM170.3 132.6h1v1h-1zM183.6 112.9h1v1h-1zM203.6 118.6h1v1h-1zM171.2 124.7h1v1h-1zM189.6 128.1h1v1h-1zM183.1 121.0h1v1h-1zM188.1 123.8h1v1h-1zM198.2 136.1h1v1h-1zM165.5 135.5h1v1h-1zM191.4 126.3h1v1h-1zM179.9 106.7h1v1h-1zM193.7 112.0h1v1h-1zM196.6 123.4h1v1h-1zM182.8 128.4h1v1h-1zM168.7 135.5h1v1h-1zM195.9 124.9h1v1h-1zM190.7 116.9h1v1h-1zM193.6 121.7h1v1h-1zM184.0 124.3h1v1h-1zM186.4 122.2h1v1h-1zM180.0 126.5h1v1h-1zM174.1 126.4h1v1h-1zM185.4 127.5h1v1h-1zM178.7 128.3h1v1h-1zM194.9 150.1h1v1h-1zM189.5 127.1h1v1h-1zM197.1 112.9h1v1h-1zM190.9 109.4h1v1h-1zM192.0 119.9h1v1h-1zM190.2 121.1h1v1h-1zM181.8 127.8h1v1h-1zM180.6 126.7h1v1h-1zM191.4 130.2h1v1h-1zM189.6 125.1h1v1h-1zM190.9 125.3h1v1h-1zM202.6 115.7h1v1h-1zM198.0 116.7h1v1h-1zM177.9 125.0h1v1h-1zM193.4 124.6h1v1h-1zM184.5 115.8h1v1h-1zM184.9 151.8h1v1h-1zM203.6 128.2h1v1h-1zM192.3 124.9h1v1h-1zM193.9 126.8h1v1h-1zM175.9 125.5h1v1h-1zM186.5 123.1h1v1h-1zM180.2 133.5h1v1h-1zM208.7 118.6h1v1h-1zM193.4 123.6h1v1h-1zM192.1 113.4h1v1h-1zM169.8 125.7h1v1h-1zM189.7 151.9h1v1h-1zM190.7 119.2h1v1h-1zM189.5 124.6h1v1h-1zM189.9 124.9h1v1h-1zM190.7 120.1h1v1h-1zM193.7 114.8h1v1h-1zM191.7 143.7h1v1h-1zM191.8 131.4h1v1h-1zM172.2 118.7h1v1h-1zM182.5 128.8h1v1h-1zM192.9 130.1h1v1h-1zM181.0 122.1h1v1h-1zM183.8 125.2h1v1h-1zM192.8 113.6h1v1h-1zM183.8 116.7h1v1h-1zM195.7 124.1h1v1h-1zM188.0 125.3h1v1h-1zM191.0 118.8h1v1h-1zM173.3 88.1h1v1h-1zM177.5 129.6h1v1h-1zM167.0 132.1h1v1h-1zM209.5 116.0h1v1h-1zM200.9 150.4h1v1h-1zM192.0 123.2h1v1h-1zM205.5 113.5h1v1h-1zM184.1 124.9h1v1h-1zM203.0 129.7h1v1h-1zM190.6 121.6h1v1h-1zM204.0 124.5h1v1h-1zM182.5 129.0h1v1h-1zM190.4 124.1h1v1h-1zM200.9 115.6h1v1h-1zM171.9 121.1h1v1h-1zM205.2 126.7h1v1h-1zM172.8 143.5h1v1h-1zM190.9 127.1h1v1h-1zM189.1 122.9h1v1h-1zM198.2 104.3h1v1h-1zM190.6 118.1h1v1h-1zM180.3 116.3h1v1h-1zM175.8 144.2h1v1h-1zM170.5 128.2h1v1h-1zM178.4 126.2h1v1h-1zM187.7 119.6h1v1h-1zM176.4 147.0h1v1h-1zM178.9 124.8h1v1h-1zM161.6 125.2h1v1h-1zM188.3 119.6h1v1h-1zM206.2 126.7h1v1h-1zM195.7 116.7h1v1h-1zM192.6 120.4h1v1h-1zM199.2 123.6h1v1h-1zM186.1 125.6h1v1h-1zM192.1 111.1h1v1h-1zM190.5 132.8h1v1h-1zM187.5 126.3h1v1h-1zM198.7 127.6h1v1h-1zM180.5 125.4h1v1h-1zM177.7 131.8h1v1h-1zM181.5 122.2h1v1h-1zM172.9 119.1h1v1h-1zM134.7 121.2h1v1h-1zM146.8 151.8h1v1h-1zM179.1 121.0h1v1h-1zM190.4 124.7h1v1h-1zM149.8 150.1h1v1h-1zM179.4 124.7h1v1h-1zM177.2 115.1h1v1h-1zM171.9 115.4h1v1h-1zM189.9 116.8h1v1h-1zM182.2 119.5h1v1h-1zM187.7 137.0h1v1h-1zM205.2 113.9h1v1h-1zM206.9 133.5h1v1h-1zM199.8 114.9h1v1h-1zM198.2 127.2h1v1h-1zM191.4 116.0h1v1h-1zM175.6 114.2h1v1h-1zM192.6 122.8h1v1h-1zM186.2 117.5h1v1h-1zM193.8 117.8h1v1h-1zM188.8 109.8h1v1h-1zM199.4 131.0h1v1h-1zM185.5 111.3h1v1h-1zM193.4 131.7h1v1h-1zM134.4 148.9h1v1h-1zM181.5 126.5h1v1h-1zM183.3 123.7h1v1h-1zM184.1 116.0h1v1h-1zM203.2 120.7h1v1h-1zM191.9 125.6h1v1h-1zM188.7 129.1h1v1h-1zM159.9 145.1h1v1h-1zM187.1 112.0h1v1h-1zM199.5 125.3h1v1h-1zM168.2 124.2h1v1h-1zM187.2 122.5h1v1h-1zM190.2 127.2h1v1h-1zM179.4 125.9h1v1h-1zM194.6 125.0h1v1h-1zM164.9 131.2h1v1h-1zM180.4 127.0h1v1h-1zM203.2 120.0h1v1h-1zM140.1 151.9h1v1h-1zM175.4 127.3h1v1h-1zM137.7 129.3h1v1h-1zM144.4 123.3h1v1h-1zM197.8 121.8h1v1h-1zM194.9 133.0h1v1h-1zM190.4 151.0h1v1h-1zM184.6 112.6h1v1h-1zM182.5 114.5h1v1h-1zM188.2 118.0h1v1h-1zM180.5 138.3h1v1h-1zM128.6 141.0h1v1h-1zM209.9 131.5h1v1h-1zM188.1 124.2h1v1h-1zM172.9 122.4h1v1h-1zM189.3 126.7h1v1h-1zM187.1 118.3h1v1h-1zM185.8 131.9h1v1h-1zM198.8 113.0h1v1h-1zM191.6 123.4h1v1h-1zM177.0 120.7h1v1h-1zM189.0 115.8h1v1h-1zM162.7 122.1h1v1h-1zM181.3 113.6h1v1h-1zM203.7 118.1h1v1h-1zM199.7 116.7h1v1h-1zM199.4 122.9h1v1h-1zM192.3 151.8h1v1h-1zM171.9 122.5h1v1h-1zM206.0 132.2h1v1h-1zM179.8 113.7h1v1h-1zM164.0 105.7h1v1h-1zM185.9 150.6h1v1h-1zM195.9 107.7h1v1h-1zM134.6 144.4h1v1h-1zM128.7 151.6h1v1h-1zM156.0 151.9h1v1h-1zM174.5 107.8h1v1h-1zM193.3 125.6h1v1h-1zM194.2 151.6h1v1h-1zM149.3 142.7h1v1h-1zM169.2 125.7h1v1h-1zM195.6 127.6h1v1h-1zM184.4 131.6h1v1h-1zM174.6 114.2h1v1h-1zM198.6 113.2h1v1h-1zM183.4 114.2h1v1h-1zM130.8 148.1h1v1h-1zM193.0 123.3h1v1h-1zM195.2 124.2h1v1h-1zM189.6 110.6h1v1h-1zM192.0 123.0h1v1h-1zM180.0 129.7h1v1h-1zM201.9 122.5h1v1h-1zM194.0 131.9h1v1h-1zM176.6 128.1h1v1h-1zM187.2 144.3h1v1h-1zM188.6 123.5h1v1h-1zM187.4 127.8h1v1h-1zM187.7 124.0h1v1h-1zM196.0 146.9h1v1h-1zM210.3 124.3h1v1h-1zM180.3 138.6h1v1h-1zM186.9 129.4h1v1h-1zM182.3 119.0h1v1h-1zM177.0 124.1h1v1h-1zM193.8 125.6h1v1h-1zM170.3 145.1h1v1h-1zM194.7 120.1h1v1h-1zM191.0 123.5h1v1h-1zM196.6 127.6h1v1h-1zM192.7 121.9h1v1h-1zM207.8 126.3h1v1h-1zM203.1 128.2h1v1h-1zM172.3 126.6h1v1h-1zM200.6 121.3h1v1h-1zM162.4 140.7h1v1h-1zM171.9 121.2h1v1h-1zM181.2 131.6h1v1h-1zM178.6 112.5h1v1h-1zM180.8 131.7h1v1h-1zM132.0 144.1h1v1h-1zM196.5 125.7h1v1h-1zM169.2 129.4h1v1h-1zM147.6 131.7h1v1h-1zM177.3 119.3h1v1h-1zM165.7 91.2h1v1h-1zM191.8 142.2h1v1h-1zM187.0 127.6h1v1h-1zM189.6 122.4h1v1h-1zM160.7 124.5h1v1h-1zM182.1 127.0h1v1h-1zM162.3 123.8h1v1h-1zM179.3 130.5h1v1h-1zM196.6 130.1h1v1h-1zM126.5 141.6h1v1h-1zM185.5 122.6h1v1h-1zM180.3 116.3h1v1h-1zM175.5 116.9h1v1h-1zM175.4 129.8h1v1h-1zM193.3 125.4h1v1h-1zM186.4 126.2h1v1h-1zM171.2 128.5h1v1h-1zM190.0 126.7h1v1h-1zM203.7 119.0h1v1h-1zM167.8 133.5h1v1h-1zM193.8 123.6h1v1h-1zM200.4 123.2h1v1h-1zM209.6 127.0h1v1h-1zM192.1 123.9h1v1h-1zM185.8 112.5h1v1h-1zM173.6 129.4h1v1h-1zM172.9 151.8h1v1h-1zM133.5 140.6h1v1h-1zM195.7 132.0h1v1h-1zM178.3 131.7h1v1h-1zM196.8 119.4h1v1h-1zM200.9 137.3h1v1h-1zM205.4 124.6h1v1h-1zM199.8 119.4h1v1h-1zM167.4 141.8h1v1h-1zM159.4 104.3h1v1h-1zM191.2 133.5h1v1h-1zM191.0 124.7h1v1h-1zM189.9 142.4h1v1h-1zM188.2 117.3h1v1h-1zM195.0 123.1h1v1h-1zM146.9 127.5h1v1h-1zM186.0 127.1h1v1h-1zM194.3 122.2h1v1h-1zM188.2 148.3h1v1h-1zM188.7 129.9h1v1h-1zM184.9 133.2h1v1h-1zM193.4 132.2h1v1h-1zM192.1 152.1h1v1h-1zM200.6 144.8h1v1h-1zM187.1 132.3h1v1h-1zM188.2 127.3h1v1h-1zM176.0 119.6h1v1h-1zM171.0 120.4h1v1h-1zM197.9 119.3h1v1h-1zM194.2 121.5h1v1h-1zM195.0 151.8h1v1h-1zM181.9 106.9h1v1h-1zM213.0 123.7h1v1h-1zM195.5 140.6h1v1h-1zM128.8 126.8h1v1h-1zM181.9 118.9h1v1h-1zM193.0 111.7h1v1h-1zM195.1 111.3h1v1h-1zM176.0 115.1h1v1h-1zM179.5 123.0h1v1h-1zM192.5 128.6h1v1h-1zM187.6 117.4h1v1h-1zM156.7 150.3h1v1h-1zM131.6 138.8h1v1h-1zM195.2 126.5h1v1h-1zM140.1 138.0h1v1h-1zM202.6 125.7h1v1h-1zM156.1 91.7h1v1h-1zM192.9 127.0h1v1h-1zM179.3 121.3h1v1h-1zM194.3 122.8h1v1h-1zM162.0 121.4h1v1h-1zM177.2 112.2h1v1h-1zM183.8 126.3h1v1h-1zM192.9 125.3h1v1h-1zM200.1 112.1h1v1h-1zM159.9 136.5h1v1h-1zM187.0 118.7h1v1h-1zM193.4 132.6h1v1h-1zM180.7 122.7h1v1h-1zM175.3 123.4h1v1h-1zM174.6 126.0h1v1h-1zM192.4 125.5h1v1h-1zM187.5 128.4h1v1h-1zM171.6 147.0h1v1h-1zM183.0 123.0h1v1h-1zM172.1 133.4h1v1h-1zM206.6 125.4h1v1h-1zM184.9 125.5h1v1h-1zM197.7 124.7h1v1h-1zM178.7 124.1h1v1h-1zM191.1 118.5h1v1h-1zM189.6 129.2h1v1h-1zM188.8 129.6h1v1h-1zM188.0 118.9h1v1h-1zM168.2 142.4h1v1h-1zM161.7 128.7h1v1h-1zM179.0 125.1h1v1h-1zM192.9 126.4h1v1h-1zM201.0 149.9h1v1h-1zM206.2 120.8h1v1h-1zM196.2 126.7h1v1h-1zM191.6 150.1h1v1h-1zM183.4 144.2h1v1h-1zM179.2 106.8h1v1h-1zM174.4 143.9h1v1h-1zM171.8 137.7h1v1h-1zM198.8 112.3h1v1h-1zM137.7 135.8h1v1h-1zM200.2 130.7h1v1h-1zM186.5 123.0h1v1h-1zM199.7 122.7h1v1h-1zM187.6 121.8h1v1h-1zM155.7 138.0h1v1h-1zM161.5 139.1h1v1h-1zM162.6 146.2h1v1h-1zM181.1 118.9h1v1h-1zM194.6 151.7h1v1h-1zM140.1 129.4h1v1h-1zM182.2 135.8h1v1h-1zM193.8 115.3h1v1h-1zM130.9 120.1h1v1h-1zM196.3 120.1h1v1h-1zM187.9 126.3h1v1h-1zM136.1 151.8h1v1h-1zM170.5 142.8h1v1h-1zM184.9 113.8h1v1h-1zM196.1 130.6h1v1h-1zM187.9 136.3h1v1h-1zM196.9 125.2h1v1h-1zM202.0 129.3h1v1h-1zM139.7 128.2h1v1h-1zM172.9 132.6h1v1h-1zM131.5 147.4h1v1h-1zM196.4 112.8h1v1h-1zM143.9 146.9h1v1h-1zM192.4 129.1h1v1h-1zM148.8 141.0h1v1h-1zM187.0 120.0h1v1h-1zM195.2 123.9h1v1h-1zM189.1 127.6h1v1h-1zM195.6 122.9h1v1h-1zM199.1 122.5h1v1h-1zM191.2 142.5h1v1h-1zM188.0 115.4h1v1h-1zM190.2 127.6h1v1h-1zM155.7 150.2h1v1h-1zM159.4 146.8h1v1h-1zM187.7 126.7h1v1h-1zM188.2 123.3h1v1h-1zM189.3 127.1h1v1h-1zM172.3 125.2h1v1h-1zM190.1 125.8h1v1h-1zM176.7 115.0h1v1h-1zM179.1 117.5h1v1h-1zM195.6 131.7h1v1h-1zM183.5 119.3h1v1h-1zM194.4 121.4h1v1h-1zM184.0 128.6h1v1h-1zM177.6 119.0h1v1h-1zM184.4 121.2h1v1h-1zM183.7 113.9h1v1h-1zM181.5 120.8h1v1h-1zM175.4 138.8h1v1h-1zM177.1 123.7h1v1h-1zM162.0 143.5h1v1h-1zM178.2 115.5h1v1h-1zM188.3 136.6h1v1h-1zM189.9 149.5h1v1h-1zM180.9 152.1h1v1h-1zM201.2 144.1h1v1h-1zM199.0 148.2h1v1h-1zM175.0 121.0h1v1h-1zM188.6 123.3h1v1h-1zM190.0 127.7h1v1h-1zM180.3 113.6h1v1h-1zM183.3 115.8h1v1h-1zM154.9 133.7h1v1h-1zM191.5 138.4h1v1h-1zM190.6 130.6h1v1h-1zM166.7 108.3h1v1h-1zM175.9 151.6h1v1h-1zM177.4 112.8h1v1h-1zM175.5 121.7h1v1h-1zM188.0 147.1h1v1h-1zM189.7 118.2h1v1h-1zM173.5 121.9h1v1h-1zM189.0 137.0h1v1h-1zM191.1 115.0h1v1h-1zM190.1 110.8h1v1h-1zM160.6 140.4h1v1h-1zM178.8 125.2h1v1h-1zM203.4 124.2h1v1h-1zM193.4 122.3h1v1h-1zM200.4 119.6h1v1h-1zM196.9 126.3h1v1h-1zM188.1 126.3h1v1h-1zM185.2 128.5h1v1h-1zM199.1 113.5h1v1h-1zM189.6 125.3h1v1h-1zM182.1 152.0h1v1h-1zM171.5 125.0h1v1h-1zM201.5 132.1h1v1h-1zM175.2 141.8h1v1h-1zM190.3 120.1h1v1h-1zM186.7 114.7h1v1h-1zM188.1 119.1h1v1h-1zM183.8 125.9h1v1h-1zM185.0 101.6h1v1h-1zM199.5 125.9h1v1h-1zM143.8 132.0h1v1h-1zM183.4 122.3h1v1h-1zM177.6 143.3h1v1h-1zM140.4 126.0h1v1h-1zM205.9 110.7h1v1h-1zM208.7 113.3h1v1h-1zM186.9 129.1h1v1h-1zM148.0 131.8h1v1h-1zM170.4 114.0h1v1h-1zM195.4 148.9h1v1h-1zM198.4 147.4h1v1h-1zM174.1 124.8h1v1h-1zM201.2 136.6h1v1h-1zM135.0 151.7h1v1h-1zM135.8 126.2h1v1h-1zM182.1 121.2h1v1h-1zM184.1 128.3h1v1h-1zM178.1 125.0h1v1h-1zM184.5 128.4h1v1h-1zM188.4 122.8h1v1h-1zM186.9 133.3h1v1h-1zM186.9 124.8h1v1h-1zM170.0 117.1h1v1h-1zM132.0 151.9h1v1h-1zM187.4 128.5h1v1h-1zM189.3 127.3h1v1h-1zM191.8 110.0h1v1h-1zM176.5 110.6h1v1h-1zM127.3 132.2h1v1h-1zM196.1 129.1h1v1h-1zM183.1 139.1h1v1h-1zM187.0 121.0h1v1h-1zM180.7 152.1h1v1h-1zM187.6 117.5h1v1h-1zM177.3 130.8h1v1h-1zM181.2 124.2h1v1h-1zM188.8 121.1h1v1h-1zM206.5 122.2h1v1h-1zM195.6 121.4h1v1h-1zM196.5 116.3h1v1h-1zM190.9 123.7h1v1h-1zM202.0 133.2h1v1h-1zM196.8 118.1h1v1h-1zM176.8 115.3h1v1h-1zM207.7 130.2h1v1h-1zM196.7 112.4h1v1h-1zM192.1 131.3h1v1h-1zM209.9 118.0h1v1h-1zM168.2 152.1h1v1h-1zM199.1 129.1h1v1h-1zM194.4 126.0h1v1h-1zM180.7 123.5h1v1h-1zM180.9 129.6h1v1h-1zM197.6 123.4h1v1h-1zM169.0 129.6h1v1h-1zM197.1 120.9h1v1h-1zM171.3 151.7h1v1h-1zM208.0 123.6h1v1h-1zM193.7 119.8h1v1h-1zM174.7 112.1h1v1h-1zM195.0 137.3h1v1h-1zM186.2 124.4h1v1h-1zM175.0 128.3h1v1h-1zM207.0 118.2h1v1h-1zM176.5 130.1h1v1h-1zM193.3 123.7h1v1h-1zM182.5 129.3h1v1h-1zM200.5 126.5h1v1h-1zM187.9 120.7h1v1h-1zM184.7 119.2h1v1h-1zM194.5 134.3h1v1h-1zM181.0 127.1h1v1h-1zM199.3 145.2h1v1h-1zM173.6 111.2h1v1h-1zM187.6 127.4h1v1h-1zM195.3 136.9h1v1h-1zM157.3 152.0h1v1h-1zM198.7 121.7h1v1h-1zM203.9 146.5h1v1h-1zM198.2 120.2h1v1h-1zM194.1 124.1h1v1h-1zM182.8 128.3h1v1h-1zM211.2 89.4h1v1h-1zM193.2 128.0h1v1h-1zM207.4 128.7h1v1h-1zM139.8 136.3h1v1h-1zM202.6 143.8h1v1h-1zM190.7 123.0h1v1h-1zM172.6 120.7h1v1h-1zM199.1 127.2h1v1h-1zM195.8 126.3h1v1h-1zM170.9 125.9h1v1h-1zM180.2 143.2h1v1h-1zM198.6 129.7h1v1h-1zM186.2 124.7h1v1h-1zM183.0 121.2h1v1h-1zM205.3 123.2h1v1h-1zM166.9 135.5h1v1h-1zM197.5 120.2h1v1h-1zM134.5 133.8h1v1h-1zM189.0 122.1h1v1h-1zM179.9 127.9h1v1h-1zM196.0 150.2h1v1h-1zM189.1 123.2h1v1h-1zM192.2 148.7h1v1h-1zM191.5 137.6h1v1h-1zM205.5 114.5h1v1h-1zM176.2 126.2h1v1h-1zM182.4 152.1h1v1h-1zM187.0 124.2h1v1h-1zM198.7 126.2h1v1h-1zM191.6 126.3h1v1h-1zM186.5 128.5h1v1h-1zM186.2 120.2h1v1h-1zM169.6 118.6h1v1h-1zM181.5 124.0h1v1h-1zM193.1 125.8h1v1h-1zM177.4 120.5h1v1h-1zM203.0 127.1h1v1h-1zM161.3 128.8h1v1h-1zM197.4 117.5h1v1h-1zM183.2 149.7h1v1h-1zM180.5 139.2h1v1h-1zM190.5 119.2h1v1h-1zM179.6 115.8h1v1h-1zM163.6 123.0h1v1h-1zM179.9 128.8h1v1h-1zM189.1 116.3h1v1h-1zM174.7 107.2h1v1h-1zM197.8 131.5h1v1h-1zM203.8 146.3h1v1h-1zM187.5 125.4h1v1h-1zM154.5 141.6h1v1h-1zM180.0 115.4h1v1h-1zM200.6 116.1h1v1h-1zM183.3 116.2h1v1h-1zM172.2 133.2h1v1h-1zM168.8 135.9h1v1h-1zM184.6 121.6h1v1h-1zM192.6 134.2h1v1h-1zM182.6 128.6h1v1h-1zM199.5 121.8h1v1h-1zM164.7 111.7h1v1h-1zM169.4 114.3h1v1h-1zM169.9 114.1h1v1h-1zM187.0 114.4h1v1h-1zM187.6 125.6h1v1h-1zM186.2 116.8h1v1h-1zM208.3 119.9h1v1h-1zM177.8 127.1h1v1h-1zM184.0 119.1h1v1h-1zM194.7 151.8h1v1h-1zM183.8 124.0h1v1h-1zM209.0 114.3h1v1h-1zM188.3 128.5h1v1h-1zM192.4 143.2h1v1h-1zM183.8 125.9h1v1h-1zM190.5 131.7h1v1h-1zM201.3 148.0h1v1h-1zM155.2 108.8h1v1h-1zM201.0 137.1h1v1h-1zM188.9 134.8h1v1h-1zM192.9 125.1h1v1h-1zM199.7 123.8h1v1h-1zM190.3 123.6h1v1h-1zM196.5 145.9h1v1h-1zM193.7 151.7h1v1h-1zM193.6 127.3h1v1h-1zM210.4 120.9h1v1h-1zM178.5 129.5h1v1h-1zM181.8 130.6h1v1h-1zM194.6 125.1h1v1h-1zM178.3 118.2h1v1h-1zM185.9 132.4h1v1h-1zM192.6 126.1h1v1h-1zM191.1 143.1h1v1h-1zM179.0 121.5h1v1h-1zM192.4 117.8h1v1h-1zM186.9 119.2h1v1h-1zM170.7 116.3h1v1h-1zM172.1 126.0h1v1h-1zM179.4 131.5h1v1h-1zM202.2 137.5h1v1h-1zM169.2 118.5h1v1h-1zM183.9 118.8h1v1h-1zM173.9 129.0h1v1h-1zM187.2 110.0h1v1h-1zM194.1 128.9h1v1h-1zM192.7 125.7h1v1h-1zM178.2 113.3h1v1h-1zM184.5 122.9h1v1h-1zM189.6 127.2h1v1h-1zM184.8 114.9h1v1h-1zM199.0 137.3h1v1h-1zM185.1 112.0h1v1h-1zM196.2 151.7h1v1h-1zM165.0 122.3h1v1h-1zM197.4 151.9h1v1h-1zM186.3 121.0h1v1h-1zM186.0 133.6h1v1h-1zM199.0 142.9h1v1h-1zM187.1 129.6h1v1h-1zM182.6 120.6h1v1h-1zM168.5 126.2h1v1h-1zM169.1 134.3h1v1h-1zM180.0 117.0h1v1h-1zM183.3 119.0h1v1h-1zM184.6 118.0h1v1h-1zM190.5 119.6h1v1h-1zM194.3 123.1h1v1h-1zM136.1 132.7h1v1h-1zM167.3 148.5h1v1h-1zM199.6 139.8h1v1h-1zM189.8 121.0h1v1h-1zM180.6 118.0h1v1h-1zM193.8 132.3h1v1h-1zM176.0 151.8h1v1h-1zM182.9 123.8h1v1h-1zM199.5 120.4h1v1h-1zM157.7 139.3h1v1h-1zM203.4 126.9h1v1h-1zM149.8 143.0h1v1h-1zM180.5 115.5h1v1h-1zM186.6 110.8h1v1h-1zM184.1 134.4h1v1h-1zM192.3 119.2h1v1h-1zM188.3 125.3h1v1h-1zM191.7 116.4h1v1h-1zM199.1 141.1h1v1h-1zM182.4 126.9h1v1h-1zM186.5 126.8h1v1h-1zM177.4 130.2h1v1h-1zM150.5 138.5h1v1h-1zM168.7 151.9h1v1h-1zM168.0 127.9h1v1h-1zM166.1 141.4h1v1h-1zM182.3 123.3h1v1h-1zM170.5 113.5h1v1h-1zM188.1 124.8h1v1h-1zM191.8 113.3h1v1h-1zM205.0 105.2h1v1h-1zM172.6 123.4h1v1h-1zM181.0 118.9h1v1h-1zM163.5 119.0h1v1h-1zM187.9 113.0h1v1h-1zM183.0 151.8h1v1h-1zM179.0 132.0h1v1h-1zM186.7 127.2h1v1h-1zM201.1 118.7h1v1h-1zM128.6 83.8h1v1h-1zM165.4 151.8h1v1h-1zM182.1 118.5h1v1h-1zM203.9 123.3h1v1h-1zM186.9 127.9h1v1h-1zM195.6 128.3h1v1h-1zM126.5 132.5h1v1h-1zM190.0 138.6h1v1h-1zM198.2 126.2h1v1h-1zM146.7 106.6h1v1h-1zM177.2 124.0h1v1h-1zM187.5 129.0h1v1h-1zM179.0 151.7h1v1h-1zM187.7 133.7h1v1h-1zM190.1 151.3h1v1h-1zM196.5 122.2h1v1h-1zM201.0 118.6h1v1h-1zM213.8 119.2h1v1h-1zM142.1 136.5h1v1h-1zM183.9 118.6h1v1h-1zM192.3 110.8h1v1h-1zM173.8 121.3h1v1h-1zM176.8 151.7h1v1h-1zM172.4 133.1h1v1h-1zM128.7 148.9h1v1h-1zM181.5 108.4h1v1h-1zM185.0 110.3h1v1h-1zM183.9 112.3h1v1h-1zM203.0 136.6h1v1h-1zM172.9 119.4h1v1h-1zM182.4 122.1h1v1h-1zM182.4 147.1h1v1h-1zM182.7 144.1h1v1h-1zM182.0 151.9h1v1h-1zM133.4 121.2h1v1h-1zM179.3 142.6h1v1h-1zM176.2 127.2h1v1h-1zM189.9 118.3h1v1h-1zM192.0 145.0h1v1h-1zM192.0 140.4h1v1h-1zM197.8 118.4h1v1h-1zM199.6 119.0h1v1h-1zM176.0 114.8h1v1h-1zM186.3 134.8h1v1h-1zM206.4 125.5h1v1h-1zM197.4 125.1h1v1h-1zM201.8 138.6h1v1h-1zM173.1 125.0h1v1h-1zM186.5 132.8h1v1h-1zM189.3 117.7h1v1h-1zM176.0 115.7h1v1h-1zM188.5 131.6h1v1h-1zM191.7 120.1h1v1h-1zM163.2 121.5h1v1h-1zM177.6 121.7h1v1h-1zM191.5 124.3h1v1h-1zM186.9 120.4h1v1h-1zM178.5 137.1h1v1h-1zM203.9 134.9h1v1h-1zM211.5 102.3h1v1h-1zM189.7 127.0h1v1h-1zM167.0 122.3h1v1h-1zM167.1 149.2h1v1h-1zM174.3 116.9h1v1h-1zM194.6 109.7h1v1h-1zM193.4 121.8h1v1h-1zM197.8 137.8h1v1h-1zM178.2 123.3h1v1h-1zM187.4 121.1h1v1h-1zM191.9 124.3h1v1h-1zM172.3 118.9h1v1h-1zM132.2 144.8h1v1h-1zM196.7 137.4h1v1h-1zM186.4 116.3h1v1h-1zM199.8 126.4h1v1h-1zM186.6 128.4h1v1h-1zM180.7 115.3h1v1h-1zM170.8 125.4h1v1h-1zM183.9 123.4h1v1h-1zM130.6 147.4h1v1h-1zM175.6 128.5h1v1h-1zM185.7 118.7h1v1h-1zM190.4 143.0h1v1h-1zM148.6 125.4h1v1h-1zM190.0 117.3h1v1h-1zM189.6 131.4h1v1h-1zM181.0 129.1h1v1h-1zM170.2 126.6h1v1h-1zM178.3 151.7h1v1h-1zM195.9 134.2h1v1h-1zM162.1 146.0h1v1h-1zM187.3 127.1h1v1h-1zM183.5 118.0h1v1h-1zM181.2 107.8h1v1h-1zM202.5 135.0h1v1h-1zM186.9 130.4h1v1h-1zM180.9 118.3h1v1h-1zM176.2 149.3h1v1h-1zM197.4 114.3h1v1h-1zM204.0 132.4h1v1h-1zM184.7 134.4h1v1h-1zM138.6 132.4h1v1h-1zM182.0 130.8h1v1h-1zM196.6 121.1h1v1h-1zM196.9 134.2h1v1h-1zM179.3 126.9h1v1h-1zM205.4 113.2h1v1h-1zM206.0 134.3h1v1h-1zM182.5 146.4h1v1h-1zM178.8 127.7h1v1h-1zM205.8 118.3h1v1h-1zM191.0 132.2h1v1h-1zM179.5 123.1h1v1h-1zM182.7 123.7h1v1h-1zM171.9 116.2h1v1h-1zM170.2 130.9h1v1h-1zM201.0 122.5h1v1h-1zM197.1 122.7h1v1h-1zM176.5 111.9h1v1h-1zM196.8 127.3h1v1h-1zM183.3 112.0h1v1h-1zM198.1 125.0h1v1h-1zM173.9 135.3h1v1h-1zM191.0 121.0h1v1h-1zM202.2 120.5h1v1h-1zM168.1 130.2h1v1h-1zM190.8 117.0h1v1h-1zM198.2 126.8h1v1h-1zM198.3 124.1h1v1h-1zM211.9 109.3h1v1h-1zM174.6 128.0h1v1h-1zM202.7 121.4h1v1h-1zM178.0 123.6h1v1h-1zM192.1 126.1h1v1h-1zM188.9 128.7h1v1h-1zM134.6 147.6h1v1h-1zM155.0 134.4h1v1h-1zM204.2 152.0h1v1h-1zM180.6 119.3h1v1h-1zM168.2 151.9h1v1h-1zM207.1 117.1h1v1h-1zM196.1 119.0h1v1h-1zM139.5 138.4h1v1h-1zM181.6 120.3h1v1h-1zM208.4 123.5h1v1h-1zM191.9 151.0h1v1h-1zM183.8 124.6h1v1h-1zM195.2 130.1h1v1h-1zM186.6 116.6h1v1h-1zM131.2 140.0h1v1h-1zM165.0 118.0h1v1h-1zM133.7 141.7h1v1h-1zM192.6 150.4h1v1h-1zM190.7 124.0h1v1h-1zM189.6 130.9h1v1h-1zM173.7 133.1h1v1h-1zM203.8 120.8h1v1h-1zM205.3 119.6h1v1h-1zM155.0 123.5h1v1h-1zM172.3 125.1h1v1h-1zM172.1 137.8h1v1h-1zM199.1 126.6h1v1h-1zM174.3 129.1h1v1h-1zM166.2 142.4h1v1h-1zM184.1 145.2h1v1h-1zM199.6 132.8h1v1h-1zM198.9 136.0h1v1h-1z" fill="rgba(212,50,50,0.36)"/>
<path d="M173.1 128.8h1v1h-1zM195.3 133.2h1v1h-1zM195.0 125.5h1v1h-1zM201.0 125.5h1v1h-1zM163.9 112.6h1v1h-1zM201.6 152.0h1v1h-1zM178.4 128.8h1v1h-1zM181.8 117.4h1v1h-1zM184.1 123.5h1v1h-1zM164.3 133.2h1v1h-1zM172.4 134.4h1v1h-1zM194.0 121.1h1v1h-1zM194.1 135.7h1v1h-1zM178.5 147.5h1v1h-1zM171.1 144.5h1v1h-1zM182.1 115.1h1v1h-1zM182.6 135.0h1v1h-1zM187.5 120.8h1v1h-1zM128.2 122.9h1v1h-1zM203.4 116.6h1v1h-1zM176.1 122.1h1v1h-1zM198.7 118.2h1v1h-1zM157.7 142.9h1v1h-1zM186.9 119.7h1v1h-1zM199.1 131.5h1v1h-1zM174.6 117.5h1v1h-1zM191.0 127.5h1v1h-1zM184.7 124.7h1v1h-1zM185.0 127.1h1v1h-1zM198.1 137.3h1v1h-1zM181.9 123.0h1v1h-1zM199.5 119.8h1v1h-1zM159.5 124.7h1v1h-1zM187.8 115.1h1v1h-1zM144.3 145.9h1v1h-1zM201.3 116.5h1v1h-1zM192.0 149.5h1v1h-1zM133.2 133.3h1v1h-1zM196.4 120.8h1v1h-1zM189.4 139.4h1v1h-1zM176.0 121.6h1v1h-1zM176.4 120.4h1v1h-1zM188.9 129.2h1v1h-1zM190.1 116.9h1v1h-1zM174.9 127.3h1v1h-1zM180.6 123.2h1v1h-1zM197.8 132.6h1v1h-1zM189.4 118.7h1v1h-1zM202.6 129.7h1v1h-1zM187.1 125.9h1v1h-1zM190.8 136.2h1v1h-1zM172.0 113.3h1v1h-1zM178.4 119.3h1v1h-1zM170.5 129.0h1v1h-1zM190.6 123.5h1v1h-1zM203.6 118.7h1v1h-1zM191.6 130.5h1v1h-1zM137.0 151.6h1v1h-1zM204.7 120.7h1v1h-1zM194.2 129.2h1v1h-1zM202.0 122.3h1v1h-1zM154.6 131.5h1v1h-1zM198.6 113.5h1v1h-1zM162.7 128.0h1v1h-1zM176.0 112.7h1v1h-1zM142.0 151.9h1v1h-1zM154.2 145.5h1v1h-1zM195.0 131.1h1v1h-1zM184.5 134.5h1v1h-1zM171.8 129.6h1v1h-1zM192.2 115.2h1v1h-1zM170.6 109.5h1v1h-1zM185.1 125.8h1v1h-1zM134.7 120.4h1v1h-1zM181.6 152.1h1v1h-1zM208.0 122.7h1v1h-1zM202.3 122.7h1v1h-1zM195.5 121.2h1v1h-1zM161.8 81.5h1v1h-1zM189.0 152.1h1v1h-1zM194.8 127.9h1v1h-1zM192.9 120.2h1v1h-1zM189.1 123.4h1v1h-1zM128.1 134.8h1v1h-1zM178.9 130.3h1v1h-1zM179.4 126.3h1v1h-1zM199.1 148.6h1v1h-1zM183.7 116.6h1v1h-1zM174.8 126.4h1v1h-1zM182.0 127.9h1v1h-1zM193.6 130.3h1v1h-1zM193.5 145.1h1v1h-1zM194.2 124.4h1v1h-1zM177.4 107.2h1v1h-1zM180.7 103.9h1v1h-1zM191.6 117.3h1v1h-1zM191.1 135.6h1v1h-1zM185.1 107.2h1v1h-1zM193.4 151.8h1v1h-1zM178.5 135.2h1v1h-1zM178.3 121.1h1v1h-1zM182.1 123.8h1v1h-1zM192.6 129.8h1v1h-1zM168.8 129.0h1v1h-1zM176.3 121.8h1v1h-1zM193.6 124.8h1v1h-1zM202.5 121.3h1v1h-1zM179.6 127.4h1v1h-1zM195.1 122.6h1v1h-1zM201.3 141.8h1v1h-1zM183.5 113.2h1v1h-1zM184.6 151.9h1v1h-1zM175.2 132.2h1v1h-1zM185.9 118.0h1v1h-1zM186.4 123.8h1v1h-1zM180.9 118.9h1v1h-1zM190.6 135.0h1v1h-1zM191.5 122.3h1v1h-1zM201.2 124.3h1v1h-1zM166.0 115.0h1v1h-1zM188.4 137.3h1v1h-1zM183.9 120.5h1v1h-1zM184.3 112.2h1v1h-1zM180.7 114.3h1v1h-1zM166.0 139.9h1v1h-1zM193.1 118.1h1v1h-1zM189.7 141.0h1v1h-1zM178.9 111.4h1v1h-1zM168.3 120.8h1v1h-1zM156.0 126.0h1v1h-1zM179.9 115.5h1v1h-1zM199.6 127.3h1v1h-1zM177.7 150.3h1v1h-1zM179.4 134.4h1v1h-1zM192.8 131.8h1v1h-1zM174.2 117.4h1v1h-1zM134.2 130.7h1v1h-1zM132.5 122.7h1v1h-1zM177.9 132.7h1v1h-1zM178.5 151.5h1v1h-1zM183.2 118.3h1v1h-1zM176.4 126.1h1v1h-1zM204.6 116.3h1v1h-1zM191.0 123.0h1v1h-1zM203.5 123.8h1v1h-1zM181.1 123.0h1v1h-1z" fill="rgba(170,40,40,0.6)"/>
<rect x="125.1" y="57.7" width="96.2" height="95.7" fill="none" stroke="#9a9a9a" stroke-width="1.0"/>
<line x1="125.1" y1="153.4" x2="221.3" y2="153.4" stroke="#5e5050" stroke-width="1.3"/>
<line x1="149.4" y1="57.7" x2="149.4" y2="153.4" stroke="#8c8c8c" stroke-width="1.1"/>
<line x1="125.1" y1="125.5" x2="221.3" y2="125.5" stroke="#858585" stroke-width="1.1"/>
<rect x="148.4" y="124.5" width="2" height="2" fill="#111"/>
<line x1="123.1" y1="57.7" x2="125.1" y2="57.7" stroke="#888" stroke-width="0.8"/>
<line x1="125.1" y1="153.4" x2="125.1" y2="155.4" stroke="#777" stroke-width="0.8"/>
<line x1="123.1" y1="81.625" x2="125.1" y2="81.625" stroke="#888" stroke-width="0.8"/>
<line x1="149.15" y1="153.4" x2="149.15" y2="155.4" stroke="#777" stroke-width="0.8"/>
<line x1="123.1" y1="105.55000000000001" x2="125.1" y2="105.55000000000001" stroke="#888" stroke-width="0.8"/>
<line x1="173.2" y1="153.4" x2="173.2" y2="155.4" stroke="#777" stroke-width="0.8"/>
<line x1="123.1" y1="129.47500000000002" x2="125.1" y2="129.47500000000002" stroke="#888" stroke-width="0.8"/>
<line x1="197.25" y1="153.4" x2="197.25" y2="155.4" stroke="#777" stroke-width="0.8"/>
<line x1="123.1" y1="153.4" x2="125.1" y2="153.4" stroke="#888" stroke-width="0.8"/>
<line x1="221.3" y1="153.4" x2="221.3" y2="155.4" stroke="#777" stroke-width="0.8"/>
<text x="127.39999999999999" y="63.5" font-size="5" font-weight="normal" text-anchor="start" fill="#3a3a3a" >R2</text>
<text x="151.4" y="63.5" font-size="5" font-weight="normal" text-anchor="start" fill="#3a3a3a" >R3</text>
<text x="127.39999999999999" y="131" font-size="5" font-weight="normal" text-anchor="start" fill="#3a3a3a" >R4</text>
<text x="151.4" y="131" font-size="5" font-weight="normal" text-anchor="start" fill="#3a3a3a" >R5</text>
<text x="207.2" y="72.8" font-size="9.7" font-weight="bold" text-anchor="end" fill="#111" stroke="#111" stroke-width="0.2">3 h</text>
<path d="M284.5 107.9h1v1h-1zM295.9 105.2h1v1h-1zM285.4 117.8h1v1h-1zM273.7 97.5h1v1h-1zM269.7 106.9h1v1h-1zM292.7 112.0h1v1h-1zM297.7 106.9h1v1h-1zM288.9 106.4h1v1h-1zM285.2 105.5h1v1h-1zM234.4 114.7h1v1h-1zM288.0 107.7h1v1h-1zM305.7 105.5h1v1h-1zM273.1 102.5h1v1h-1zM285.9 111.9h1v1h-1zM267.0 109.6h1v1h-1zM294.1 112.4h1v1h-1zM283.2 112.4h1v1h-1zM293.2 106.1h1v1h-1zM280.4 112.7h1v1h-1zM284.1 101.4h1v1h-1zM290.5 99.6h1v1h-1zM307.3 103.5h1v1h-1zM277.8 107.5h1v1h-1zM288.9 113.9h1v1h-1zM285.1 104.6h1v1h-1zM293.7 127.9h1v1h-1zM258.9 129.3h1v1h-1zM293.3 110.8h1v1h-1zM276.5 110.5h1v1h-1zM307.2 109.3h1v1h-1zM301.6 99.4h1v1h-1zM286.4 107.9h1v1h-1zM303.8 104.5h1v1h-1zM285.6 110.4h1v1h-1zM269.4 112.3h1v1h-1zM277.0 113.5h1v1h-1zM287.0 106.5h1v1h-1zM312.3 113.2h1v1h-1zM284.3 103.8h1v1h-1zM269.7 128.0h1v1h-1zM286.9 102.7h1v1h-1zM298.8 104.0h1v1h-1zM257.6 145.2h1v1h-1zM291.0 101.1h1v1h-1zM288.1 111.7h1v1h-1zM293.5 114.3h1v1h-1zM283.1 99.1h1v1h-1zM279.3 109.1h1v1h-1zM306.1 135.5h1v1h-1zM273.1 106.8h1v1h-1zM304.0 105.8h1v1h-1zM284.1 103.6h1v1h-1zM299.8 101.7h1v1h-1zM311.5 140.9h1v1h-1zM284.3 105.2h1v1h-1zM301.9 106.3h1v1h-1zM288.0 102.8h1v1h-1zM287.4 105.0h1v1h-1zM288.8 109.8h1v1h-1zM297.3 111.3h1v1h-1zM293.2 111.6h1v1h-1zM289.1 111.9h1v1h-1zM285.8 111.8h1v1h-1zM285.2 110.7h1v1h-1zM285.3 108.5h1v1h-1zM266.5 104.4h1v1h-1zM240.5 109.3h1v1h-1zM295.5 109.4h1v1h-1zM281.1 99.9h1v1h-1zM290.5 102.6h1v1h-1zM292.7 108.0h1v1h-1zM288.0 104.5h1v1h-1zM298.2 104.2h1v1h-1zM266.2 112.3h1v1h-1zM286.7 106.8h1v1h-1zM231.3 106.6h1v1h-1zM271.3 105.7h1v1h-1zM287.9 128.9h1v1h-1zM293.6 101.8h1v1h-1zM291.9 105.9h1v1h-1zM291.7 103.1h1v1h-1zM289.9 107.5h1v1h-1zM301.4 99.8h1v1h-1zM292.5 143.4h1v1h-1zM282.8 106.2h1v1h-1zM300.9 111.5h1v1h-1zM296.5 105.1h1v1h-1zM235.1 106.7h1v1h-1zM277.6 105.2h1v1h-1zM279.6 102.6h1v1h-1zM310.8 140.2h1v1h-1zM307.4 107.9h1v1h-1zM276.6 100.2h1v1h-1zM276.1 115.9h1v1h-1zM298.5 103.3h1v1h-1zM283.9 106.0h1v1h-1zM288.5 100.6h1v1h-1zM311.4 103.0h1v1h-1zM301.2 109.3h1v1h-1zM241.2 106.1h1v1h-1zM266.0 118.3h1v1h-1zM290.6 108.7h1v1h-1zM277.3 115.8h1v1h-1zM285.4 106.0h1v1h-1zM292.5 96.9h1v1h-1zM286.0 105.2h1v1h-1zM266.8 102.2h1v1h-1zM269.5 107.6h1v1h-1zM276.6 100.0h1v1h-1zM287.3 105.3h1v1h-1zM302.0 139.2h1v1h-1zM297.9 105.4h1v1h-1zM287.1 107.9h1v1h-1zM312.0 109.0h1v1h-1zM289.8 109.0h1v1h-1zM292.8 106.9h1v1h-1zM299.0 106.0h1v1h-1zM298.2 94.8h1v1h-1zM294.8 101.1h1v1h-1zM294.6 104.5h1v1h-1zM269.4 94.0h1v1h-1zM290.5 104.0h1v1h-1zM319.0 110.1h1v1h-1zM242.8 111.7h1v1h-1zM294.7 108.8h1v1h-1zM275.2 116.6h1v1h-1zM280.0 103.5h1v1h-1zM286.1 114.5h1v1h-1zM290.8 106.4h1v1h-1zM281.3 110.9h1v1h-1zM276.4 110.3h1v1h-1zM298.3 111.0h1v1h-1zM272.0 119.0h1v1h-1zM290.0 101.4h1v1h-1zM261.6 137.7h1v1h-1zM293.6 106.0h1v1h-1zM290.4 102.4h1v1h-1zM281.8 107.8h1v1h-1zM274.0 105.0h1v1h-1zM282.1 102.7h1v1h-1zM289.0 108.0h1v1h-1zM278.1 114.9h1v1h-1zM287.1 115.8h1v1h-1zM287.5 105.0h1v1h-1zM303.5 103.1h1v1h-1zM263.5 111.7h1v1h-1zM306.9 105.8h1v1h-1zM267.6 110.7h1v1h-1zM283.7 132.2h1v1h-1zM298.7 106.5h1v1h-1zM299.8 99.9h1v1h-1zM295.4 104.1h1v1h-1zM282.7 101.5h1v1h-1zM291.8 99.1h1v1h-1zM296.2 110.8h1v1h-1zM291.1 104.5h1v1h-1zM240.0 107.4h1v1h-1zM303.5 108.0h1v1h-1zM284.3 103.9h1v1h-1zM280.8 101.2h1v1h-1zM276.0 107.2h1v1h-1zM305.0 127.8h1v1h-1zM297.2 103.3h1v1h-1zM296.5 108.9h1v1h-1zM286.4 108.2h1v1h-1zM285.1 113.3h1v1h-1zM240.9 114.7h1v1h-1zM273.4 132.7h1v1h-1zM307.5 101.6h1v1h-1zM283.4 97.6h1v1h-1zM294.4 106.6h1v1h-1zM282.8 110.0h1v1h-1zM293.6 106.5h1v1h-1zM291.4 114.3h1v1h-1zM312.7 111.6h1v1h-1zM278.1 104.0h1v1h-1zM269.6 149.4h1v1h-1zM276.1 100.6h1v1h-1zM295.9 101.3h1v1h-1zM288.2 108.3h1v1h-1zM286.3 106.4h1v1h-1zM236.2 147.3h1v1h-1zM277.4 105.2h1v1h-1zM277.7 106.5h1v1h-1zM282.5 104.5h1v1h-1zM287.2 111.4h1v1h-1zM298.3 151.9h1v1h-1zM284.2 98.9h1v1h-1zM292.1 115.8h1v1h-1zM278.5 106.1h1v1h-1zM291.7 99.4h1v1h-1zM290.5 101.4h1v1h-1zM286.3 105.2h1v1h-1zM295.4 99.1h1v1h-1zM287.7 108.6h1v1h-1zM290.7 113.5h1v1h-1zM281.7 105.3h1v1h-1zM281.3 114.9h1v1h-1zM288.7 106.2h1v1h-1zM293.4 108.2h1v1h-1zM301.3 104.8h1v1h-1zM273.8 123.8h1v1h-1zM301.9 103.6h1v1h-1zM294.7 102.6h1v1h-1zM293.7 114.1h1v1h-1zM275.5 104.1h1v1h-1zM281.5 106.8h1v1h-1zM290.1 101.9h1v1h-1zM283.2 110.8h1v1h-1zM265.5 100.3h1v1h-1zM283.3 107.9h1v1h-1zM295.1 115.0h1v1h-1zM292.7 106.4h1v1h-1zM282.5 111.2h1v1h-1zM297.5 109.5h1v1h-1zM294.2 104.2h1v1h-1zM291.9 110.7h1v1h-1zM286.9 109.2h1v1h-1zM268.7 103.7h1v1h-1zM292.9 109.6h1v1h-1zM292.6 109.5h1v1h-1zM281.6 109.5h1v1h-1zM290.7 107.1h1v1h-1zM270.5 138.4h1v1h-1zM293.2 107.1h1v1h-1zM291.2 114.5h1v1h-1zM286.1 105.3h1v1h-1zM301.2 106.3h1v1h-1zM289.4 114.1h1v1h-1zM293.5 113.4h1v1h-1zM280.4 107.2h1v1h-1zM302.1 104.5h1v1h-1zM275.0 102.0h1v1h-1zM289.2 136.6h1v1h-1zM285.1 107.4h1v1h-1zM252.9 140.4h1v1h-1zM303.5 110.0h1v1h-1zM251.9 150.2h1v1h-1zM293.5 108.0h1v1h-1zM290.2 112.5h1v1h-1zM287.4 108.8h1v1h-1zM297.8 148.6h1v1h-1zM289.6 107.3h1v1h-1zM304.3 101.8h1v1h-1zM290.8 109.0h1v1h-1zM293.2 106.0h1v1h-1zM235.2 112.0h1v1h-1zM289.1 107.6h1v1h-1zM300.8 146.5h1v1h-1zM282.5 115.4h1v1h-1zM290.8 106.5h1v1h-1zM300.8 111.2h1v1h-1zM302.0 96.9h1v1h-1zM285.7 111.7h1v1h-1zM281.4 104.9h1v1h-1zM283.2 114.4h1v1h-1zM266.7 101.0h1v1h-1zM288.7 103.5h1v1h-1zM283.7 140.2h1v1h-1zM283.1 104.3h1v1h-1zM271.0 107.3h1v1h-1zM308.3 113.5h1v1h-1zM292.5 109.6h1v1h-1zM299.1 107.5h1v1h-1zM299.1 106.6h1v1h-1zM284.3 102.8h1v1h-1zM285.7 109.9h1v1h-1zM281.1 102.7h1v1h-1zM242.5 111.9h1v1h-1zM289.4 118.9h1v1h-1zM300.8 107.4h1v1h-1zM296.8 98.8h1v1h-1zM288.0 111.1h1v1h-1zM280.3 101.7h1v1h-1zM293.5 106.7h1v1h-1zM285.3 111.2h1v1h-1zM271.9 113.0h1v1h-1zM286.4 105.1h1v1h-1zM280.0 105.8h1v1h-1zM289.1 109.9h1v1h-1zM302.2 113.5h1v1h-1zM280.8 110.3h1v1h-1zM295.0 108.6h1v1h-1zM306.1 99.9h1v1h-1zM279.2 115.7h1v1h-1zM286.6 106.5h1v1h-1zM285.0 98.8h1v1h-1zM291.8 107.9h1v1h-1zM280.4 111.9h1v1h-1zM288.2 107.3h1v1h-1zM280.6 107.3h1v1h-1zM290.3 97.9h1v1h-1zM266.4 106.4h1v1h-1zM280.8 103.0h1v1h-1zM292.6 108.1h1v1h-1zM287.3 116.6h1v1h-1zM277.7 105.1h1v1h-1zM278.7 108.9h1v1h-1zM284.9 110.0h1v1h-1zM291.4 101.7h1v1h-1zM299.1 106.6h1v1h-1zM269.1 106.0h1v1h-1zM269.6 110.3h1v1h-1zM291.2 102.1h1v1h-1zM290.8 134.6h1v1h-1zM273.5 109.7h1v1h-1zM289.5 107.5h1v1h-1zM280.2 112.1h1v1h-1zM306.0 110.6h1v1h-1zM291.1 107.4h1v1h-1zM254.5 110.9h1v1h-1zM293.4 102.9h1v1h-1zM301.7 108.2h1v1h-1zM245.8 110.9h1v1h-1zM295.3 111.9h1v1h-1zM295.3 101.6h1v1h-1zM292.0 102.9h1v1h-1zM298.1 106.6h1v1h-1zM292.5 99.5h1v1h-1zM288.9 107.2h1v1h-1zM292.1 105.6h1v1h-1zM294.4 108.3h1v1h-1zM289.1 109.7h1v1h-1zM287.9 110.6h1v1h-1zM299.0 99.4h1v1h-1zM279.1 106.2h1v1h-1zM302.4 107.8h1v1h-1zM303.2 101.2h1v1h-1zM286.4 109.3h1v1h-1zM268.5 103.5h1v1h-1zM266.9 103.0h1v1h-1zM311.5 104.7h1v1h-1zM301.7 104.7h1v1h-1zM286.2 118.4h1v1h-1zM275.4 116.2h1v1h-1zM300.7 102.9h1v1h-1zM298.1 106.7h1v1h-1zM290.7 104.7h1v1h-1zM291.6 104.0h1v1h-1zM273.2 131.6h1v1h-1zM280.6 105.0h1v1h-1zM274.4 113.4h1v1h-1zM290.7 100.1h1v1h-1zM271.2 112.5h1v1h-1zM251.1 102.7h1v1h-1zM276.3 98.7h1v1h-1zM288.3 107.2h1v1h-1zM285.8 104.3h1v1h-1zM294.2 110.8h1v1h-1zM240.7 111.2h1v1h-1zM267.5 99.9h1v1h-1zM294.5 106.0h1v1h-1zM293.8 100.8h1v1h-1zM291.8 109.1h1v1h-1zM279.3 106.2h1v1h-1zM264.0 139.0h1v1h-1zM290.3 101.4h1v1h-1zM271.6 120.4h1v1h-1zM279.5 109.7h1v1h-1zM280.7 105.2h1v1h-1zM276.4 105.9h1v1h-1zM275.6 102.5h1v1h-1zM274.1 103.4h1v1h-1zM287.7 131.0h1v1h-1zM293.9 101.9h1v1h-1zM301.1 132.5h1v1h-1zM299.3 104.5h1v1h-1zM256.3 102.0h1v1h-1zM276.6 105.2h1v1h-1zM300.4 102.5h1v1h-1zM293.5 105.7h1v1h-1zM309.1 106.9h1v1h-1zM303.4 109.2h1v1h-1zM284.3 105.5h1v1h-1zM241.6 110.9h1v1h-1zM292.1 104.7h1v1h-1zM283.7 106.3h1v1h-1zM292.5 109.0h1v1h-1zM297.7 106.8h1v1h-1zM281.7 101.8h1v1h-1zM304.2 108.1h1v1h-1zM236.0 105.1h1v1h-1zM295.9 103.7h1v1h-1zM283.6 128.9h1v1h-1zM299.9 110.3h1v1h-1zM291.3 141.2h1v1h-1zM279.0 105.4h1v1h-1zM293.0 106.5h1v1h-1zM271.0 113.3h1v1h-1zM295.3 110.8h1v1h-1zM290.2 102.2h1v1h-1zM284.9 105.4h1v1h-1zM280.5 105.7h1v1h-1zM288.2 99.5h1v1h-1zM285.0 107.9h1v1h-1zM283.0 114.6h1v1h-1zM300.4 100.7h1v1h-1zM290.5 104.2h1v1h-1zM270.6 101.6h1v1h-1zM284.8 117.1h1v1h-1zM245.3 103.4h1v1h-1zM298.3 104.3h1v1h-1zM291.2 111.3h1v1h-1zM291.1 113.5h1v1h-1zM306.6 102.3h1v1h-1zM282.2 109.1h1v1h-1zM282.7 114.5h1v1h-1zM288.0 100.6h1v1h-1zM263.7 105.0h1v1h-1zM300.5 113.7h1v1h-1zM297.6 108.6h1v1h-1zM288.7 113.2h1v1h-1zM290.9 106.4h1v1h-1zM285.1 112.4h1v1h-1zM294.1 107.0h1v1h-1zM288.2 106.0h1v1h-1zM281.2 101.6h1v1h-1zM295.3 105.1h1v1h-1zM286.0 108.8h1v1h-1zM297.1 108.4h1v1h-1zM291.2 104.9h1v1h-1zM299.7 102.2h1v1h-1zM301.9 102.1h1v1h-1zM239.7 101.1h1v1h-1zM278.8 116.0h1v1h-1zM247.5 132.0h1v1h-1zM294.3 107.1h1v1h-1zM291.6 115.1h1v1h-1zM283.3 111.8h1v1h-1zM261.7 115.1h1v1h-1zM275.9 106.6h1v1h-1zM280.4 113.0h1v1h-1zM288.2 114.3h1v1h-1zM294.1 107.1h1v1h-1zM289.6 116.8h1v1h-1zM287.8 110.6h1v1h-1zM286.7 93.6h1v1h-1zM276.4 102.1h1v1h-1zM265.4 106.0h1v1h-1zM289.6 110.2h1v1h-1zM296.8 105.8h1v1h-1zM230.6 137.5h1v1h-1zM284.1 108.9h1v1h-1zM295.0 108.2h1v1h-1zM293.9 106.3h1v1h-1zM323.4 105.4h1v1h-1zM304.6 106.3h1v1h-1zM275.0 109.2h1v1h-1zM290.3 112.1h1v1h-1zM296.6 107.4h1v1h-1zM289.1 100.2h1v1h-1zM240.3 105.0h1v1h-1zM289.8 101.7h1v1h-1zM298.2 105.0h1v1h-1zM287.2 107.9h1v1h-1zM283.2 107.6h1v1h-1zM289.5 99.6h1v1h-1zM295.8 111.1h1v1h-1zM297.1 104.8h1v1h-1zM311.2 104.9h1v1h-1zM289.0 105.3h1v1h-1zM289.3 106.6h1v1h-1zM287.9 104.5h1v1h-1zM285.3 104.8h1v1h-1zM293.5 112.4h1v1h-1zM278.6 109.9h1v1h-1zM272.0 102.5h1v1h-1zM293.7 105.1h1v1h-1zM285.2 116.3h1v1h-1zM296.2 103.8h1v1h-1zM274.0 100.8h1v1h-1zM277.9 129.5h1v1h-1zM281.1 111.4h1v1h-1zM297.6 103.3h1v1h-1zM303.4 109.5h1v1h-1zM286.0 106.7h1v1h-1zM287.9 104.3h1v1h-1zM273.1 107.2h1v1h-1zM282.9 114.7h1v1h-1zM290.6 110.6h1v1h-1zM280.2 111.1h1v1h-1zM298.4 106.1h1v1h-1zM245.6 116.3h1v1h-1zM278.9 114.9h1v1h-1zM294.3 104.6h1v1h-1zM306.9 107.5h1v1h-1zM292.4 109.9h1v1h-1zM289.9 109.9h1v1h-1zM270.9 101.3h1v1h-1zM251.7 147.4h1v1h-1zM283.3 102.2h1v1h-1zM296.0 108.0h1v1h-1zM292.8 101.1h1v1h-1zM290.6 104.6h1v1h-1zM276.5 109.0h1v1h-1zM273.6 113.7h1v1h-1zM294.8 107.2h1v1h-1zM265.8 100.0h1v1h-1zM298.1 110.6h1v1h-1zM281.9 112.6h1v1h-1zM264.8 101.1h1v1h-1zM274.3 102.8h1v1h-1zM297.6 106.2h1v1h-1zM282.1 107.3h1v1h-1zM275.9 120.1h1v1h-1zM298.6 104.7h1v1h-1zM284.3 109.6h1v1h-1zM284.3 101.9h1v1h-1zM288.0 92.7h1v1h-1zM291.1 105.7h1v1h-1zM291.8 113.0h1v1h-1zM298.2 143.9h1v1h-1zM273.5 102.1h1v1h-1zM285.9 111.3h1v1h-1zM296.3 103.2h1v1h-1zM294.4 109.2h1v1h-1zM299.0 107.0h1v1h-1zM268.5 101.2h1v1h-1zM304.8 98.9h1v1h-1zM285.8 103.9h1v1h-1zM292.4 104.7h1v1h-1zM307.0 110.9h1v1h-1zM294.4 108.6h1v1h-1zM292.1 117.2h1v1h-1zM293.6 112.5h1v1h-1zM307.3 142.2h1v1h-1zM293.5 109.4h1v1h-1zM291.9 100.1h1v1h-1zM313.1 103.5h1v1h-1zM293.4 106.2h1v1h-1zM285.1 103.2h1v1h-1zM276.5 110.3h1v1h-1zM286.9 101.7h1v1h-1zM290.4 103.4h1v1h-1zM238.6 113.5h1v1h-1zM272.0 114.7h1v1h-1zM296.0 104.8h1v1h-1zM278.6 107.8h1v1h-1zM274.3 105.9h1v1h-1zM295.2 115.0h1v1h-1zM270.9 110.2h1v1h-1zM287.0 107.7h1v1h-1zM289.2 116.8h1v1h-1zM278.4 107.5h1v1h-1zM283.8 112.7h1v1h-1zM300.3 108.7h1v1h-1zM250.1 102.8h1v1h-1zM256.2 106.3h1v1h-1zM260.8 113.2h1v1h-1zM285.5 99.5h1v1h-1zM242.0 105.5h1v1h-1zM292.6 99.4h1v1h-1zM292.3 99.8h1v1h-1zM282.1 117.2h1v1h-1zM281.3 103.9h1v1h-1zM276.4 100.3h1v1h-1zM290.4 134.3h1v1h-1zM270.1 106.4h1v1h-1zM290.7 110.2h1v1h-1zM277.9 115.7h1v1h-1zM274.0 106.8h1v1h-1zM294.7 108.0h1v1h-1zM294.0 108.8h1v1h-1zM287.0 106.6h1v1h-1zM284.5 107.1h1v1h-1zM297.3 105.3h1v1h-1zM294.5 108.6h1v1h-1zM280.7 111.8h1v1h-1zM269.8 103.2h1v1h-1zM289.2 106.5h1v1h-1zM286.2 105.2h1v1h-1zM289.6 109.2h1v1h-1zM287.0 133.5h1v1h-1zM281.3 104.0h1v1h-1zM281.6 108.4h1v1h-1zM304.8 105.6h1v1h-1zM293.8 102.9h1v1h-1zM274.8 115.6h1v1h-1zM275.4 100.8h1v1h-1zM278.1 105.9h1v1h-1zM297.0 99.2h1v1h-1zM296.6 105.9h1v1h-1zM285.3 104.3h1v1h-1zM286.7 115.8h1v1h-1zM277.9 122.2h1v1h-1zM292.0 108.1h1v1h-1zM296.5 106.1h1v1h-1zM298.8 104.7h1v1h-1zM303.1 105.4h1v1h-1zM292.0 105.3h1v1h-1zM294.7 104.4h1v1h-1zM287.7 108.5h1v1h-1zM275.7 107.7h1v1h-1zM286.9 108.7h1v1h-1zM246.9 104.3h1v1h-1zM303.1 98.9h1v1h-1zM294.4 100.0h1v1h-1zM290.0 105.1h1v1h-1zM264.0 111.9h1v1h-1zM299.4 106.9h1v1h-1zM273.2 108.5h1v1h-1zM295.8 105.7h1v1h-1zM286.0 116.8h1v1h-1zM296.9 112.6h1v1h-1zM286.0 107.1h1v1h-1zM279.1 106.1h1v1h-1zM288.9 112.0h1v1h-1zM267.1 112.5h1v1h-1zM290.5 101.2h1v1h-1zM276.7 102.1h1v1h-1zM287.8 114.2h1v1h-1zM233.3 105.6h1v1h-1zM298.9 117.1h1v1h-1zM295.4 100.9h1v1h-1zM294.2 110.1h1v1h-1zM284.2 102.1h1v1h-1zM283.8 106.7h1v1h-1zM308.1 115.4h1v1h-1zM293.8 108.8h1v1h-1zM283.0 105.2h1v1h-1zM277.2 102.8h1v1h-1zM287.5 99.0h1v1h-1zM273.7 108.5h1v1h-1zM304.7 109.9h1v1h-1zM236.9 99.3h1v1h-1zM288.6 106.9h1v1h-1zM283.9 95.2h1v1h-1zM278.9 99.1h1v1h-1zM299.4 113.9h1v1h-1zM284.2 101.4h1v1h-1zM296.1 105.3h1v1h-1zM300.1 108.7h1v1h-1zM296.2 100.6h1v1h-1zM291.9 110.5h1v1h-1zM308.8 102.7h1v1h-1zM288.0 100.3h1v1h-1zM293.7 110.1h1v1h-1zM292.6 105.0h1v1h-1zM245.5 111.9h1v1h-1zM269.2 96.8h1v1h-1zM289.6 103.4h1v1h-1zM272.8 103.3h1v1h-1zM312.4 131.3h1v1h-1zM294.2 108.6h1v1h-1zM293.9 126.4h1v1h-1zM304.1 107.3h1v1h-1zM286.4 109.6h1v1h-1zM297.7 103.6h1v1h-1zM302.5 102.2h1v1h-1zM238.5 106.3h1v1h-1zM282.3 105.8h1v1h-1zM292.6 104.4h1v1h-1zM289.2 111.1h1v1h-1zM292.6 104.9h1v1h-1zM300.3 106.4h1v1h-1zM292.2 105.9h1v1h-1zM290.8 107.2h1v1h-1zM287.1 101.9h1v1h-1zM267.0 104.0h1v1h-1zM292.0 106.2h1v1h-1zM302.8 106.3h1v1h-1zM279.2 101.1h1v1h-1zM278.7 143.3h1v1h-1zM285.2 106.3h1v1h-1zM290.5 148.4h1v1h-1zM296.5 106.6h1v1h-1zM285.7 100.7h1v1h-1zM286.5 103.8h1v1h-1zM297.5 118.3h1v1h-1zM300.2 108.8h1v1h-1zM267.3 118.3h1v1h-1zM292.8 103.0h1v1h-1zM270.1 107.6h1v1h-1zM279.3 100.0h1v1h-1zM302.7 99.2h1v1h-1zM285.7 110.2h1v1h-1zM282.4 112.0h1v1h-1zM290.7 104.3h1v1h-1zM288.0 103.3h1v1h-1zM289.2 109.1h1v1h-1zM287.9 103.8h1v1h-1zM244.0 111.3h1v1h-1zM293.5 106.8h1v1h-1zM302.1 113.5h1v1h-1zM277.7 105.9h1v1h-1zM283.7 106.1h1v1h-1zM285.9 102.8h1v1h-1zM271.7 105.1h1v1h-1zM290.4 108.2h1v1h-1zM282.5 100.5h1v1h-1zM292.7 96.3h1v1h-1zM282.3 112.3h1v1h-1zM288.0 105.4h1v1h-1zM286.4 103.6h1v1h-1zM288.1 109.7h1v1h-1zM285.2 109.8h1v1h-1zM290.6 101.0h1v1h-1zM281.3 105.7h1v1h-1zM287.9 108.5h1v1h-1zM288.9 107.0h1v1h-1zM307.8 102.8h1v1h-1zM300.5 115.2h1v1h-1zM280.6 104.0h1v1h-1zM287.7 101.2h1v1h-1zM275.8 105.4h1v1h-1zM288.7 112.4h1v1h-1zM272.9 108.5h1v1h-1zM299.4 109.9h1v1h-1zM299.5 107.8h1v1h-1zM306.8 107.8h1v1h-1zM298.8 110.5h1v1h-1zM296.3 100.5h1v1h-1zM281.7 111.3h1v1h-1zM300.9 113.6h1v1h-1zM284.6 112.1h1v1h-1zM298.2 111.0h1v1h-1zM289.9 106.9h1v1h-1zM291.0 109.2h1v1h-1zM291.2 112.2h1v1h-1zM269.8 109.4h1v1h-1zM284.6 103.0h1v1h-1zM277.9 103.5h1v1h-1zM278.6 107.6h1v1h-1zM296.3 106.7h1v1h-1zM292.7 99.9h1v1h-1zM291.6 105.2h1v1h-1zM294.1 106.2h1v1h-1zM251.2 150.9h1v1h-1zM272.9 103.0h1v1h-1zM295.4 102.8h1v1h-1zM302.7 112.4h1v1h-1zM299.1 114.4h1v1h-1zM299.1 100.5h1v1h-1zM285.7 106.6h1v1h-1zM302.7 99.4h1v1h-1zM272.2 102.2h1v1h-1zM278.8 106.7h1v1h-1zM293.6 98.8h1v1h-1zM287.1 104.9h1v1h-1zM270.5 112.1h1v1h-1zM286.4 110.3h1v1h-1zM287.7 108.6h1v1h-1zM295.0 113.1h1v1h-1zM301.5 111.1h1v1h-1zM312.1 103.5h1v1h-1zM285.3 99.5h1v1h-1zM281.1 109.6h1v1h-1zM289.5 101.8h1v1h-1zM275.2 107.7h1v1h-1zM288.0 110.0h1v1h-1zM276.1 107.9h1v1h-1zM289.0 110.9h1v1h-1zM273.8 102.9h1v1h-1zM284.5 107.0h1v1h-1zM275.5 109.1h1v1h-1zM296.7 110.6h1v1h-1zM280.5 98.2h1v1h-1zM264.0 110.2h1v1h-1zM284.6 101.2h1v1h-1zM272.9 108.0h1v1h-1zM282.2 101.1h1v1h-1zM319.6 112.0h1v1h-1zM287.4 107.1h1v1h-1zM276.2 116.2h1v1h-1zM281.8 105.8h1v1h-1zM307.0 107.4h1v1h-1zM307.6 113.3h1v1h-1zM304.4 120.9h1v1h-1zM280.9 108.6h1v1h-1zM260.3 104.0h1v1h-1zM299.3 107.6h1v1h-1zM299.2 105.5h1v1h-1zM303.4 108.7h1v1h-1zM291.2 112.8h1v1h-1zM284.6 114.9h1v1h-1zM293.0 106.3h1v1h-1zM293.6 102.0h1v1h-1zM293.1 105.1h1v1h-1zM293.6 114.6h1v1h-1zM306.2 108.7h1v1h-1zM292.7 102.3h1v1h-1zM280.7 104.2h1v1h-1zM296.2 106.6h1v1h-1zM284.5 113.4h1v1h-1zM293.7 101.4h1v1h-1zM280.2 104.7h1v1h-1zM232.8 146.8h1v1h-1zM290.4 106.3h1v1h-1zM230.7 150.3h1v1h-1zM294.5 118.4h1v1h-1zM287.7 102.4h1v1h-1zM288.8 114.8h1v1h-1zM300.9 105.9h1v1h-1zM303.2 108.3h1v1h-1zM269.9 110.6h1v1h-1zM239.6 99.5h1v1h-1zM285.1 113.4h1v1h-1zM281.0 109.6h1v1h-1zM289.9 103.4h1v1h-1zM275.5 101.9h1v1h-1zM298.9 103.0h1v1h-1zM282.2 104.7h1v1h-1zM272.1 101.5h1v1h-1zM283.7 109.5h1v1h-1zM281.3 105.0h1v1h-1zM299.5 100.7h1v1h-1zM303.3 101.8h1v1h-1zM288.8 117.9h1v1h-1zM299.0 103.3h1v1h-1zM285.2 106.9h1v1h-1zM290.4 111.4h1v1h-1zM286.8 100.2h1v1h-1zM276.6 108.1h1v1h-1zM291.7 98.5h1v1h-1zM296.3 109.9h1v1h-1zM287.0 102.7h1v1h-1zM273.5 105.6h1v1h-1zM284.5 109.2h1v1h-1zM285.4 110.6h1v1h-1zM265.2 112.7h1v1h-1zM283.8 108.7h1v1h-1zM305.5 110.8h1v1h-1zM295.4 104.4h1v1h-1zM268.3 119.4h1v1h-1zM287.5 111.4h1v1h-1zM296.3 105.3h1v1h-1zM270.4 102.9h1v1h-1zM298.0 107.1h1v1h-1zM286.1 112.0h1v1h-1zM306.0 106.4h1v1h-1zM287.2 101.0h1v1h-1zM278.7 104.6h1v1h-1zM285.2 102.3h1v1h-1zM239.0 147.4h1v1h-1zM279.3 104.1h1v1h-1zM280.6 102.0h1v1h-1zM287.7 116.6h1v1h-1zM286.8 101.4h1v1h-1zM230.1 117.2h1v1h-1zM305.9 102.4h1v1h-1zM288.9 104.2h1v1h-1zM285.3 105.3h1v1h-1zM298.3 109.1h1v1h-1zM282.7 110.3h1v1h-1zM263.8 107.6h1v1h-1zM285.2 101.0h1v1h-1zM300.4 107.2h1v1h-1zM230.4 132.9h1v1h-1zM269.8 100.6h1v1h-1zM299.0 107.6h1v1h-1zM283.1 105.9h1v1h-1zM287.1 101.4h1v1h-1zM304.8 145.1h1v1h-1zM283.3 100.8h1v1h-1zM285.6 107.8h1v1h-1zM281.8 109.7h1v1h-1zM288.5 139.3h1v1h-1zM293.5 110.2h1v1h-1zM289.8 100.4h1v1h-1zM304.1 95.2h1v1h-1zM298.0 105.8h1v1h-1zM289.4 111.9h1v1h-1zM294.0 106.2h1v1h-1zM292.1 113.5h1v1h-1zM282.1 109.5h1v1h-1zM300.1 109.2h1v1h-1zM277.9 107.9h1v1h-1zM289.9 105.6h1v1h-1zM285.5 102.9h1v1h-1zM279.4 144.0h1v1h-1zM282.3 111.4h1v1h-1zM291.1 104.2h1v1h-1zM306.3 109.3h1v1h-1zM299.0 99.1h1v1h-1zM292.3 100.8h1v1h-1zM295.9 106.3h1v1h-1zM285.8 105.4h1v1h-1zM313.2 109.2h1v1h-1z" fill="rgba(212,50,50,0.36)"/>
<path d="M282.4 106.5h1v1h-1zM292.6 105.7h1v1h-1zM283.3 107.9h1v1h-1zM291.7 122.0h1v1h-1zM274.8 128.0h1v1h-1zM310.1 104.6h1v1h-1zM241.9 133.8h1v1h-1zM284.0 105.9h1v1h-1zM289.5 103.3h1v1h-1zM245.8 110.0h1v1h-1zM297.5 107.0h1v1h-1zM282.0 103.5h1v1h-1zM282.1 104.2h1v1h-1zM303.0 112.1h1v1h-1zM288.4 104.2h1v1h-1zM273.9 112.4h1v1h-1zM289.2 106.0h1v1h-1zM294.2 114.5h1v1h-1zM293.2 108.5h1v1h-1zM286.9 114.3h1v1h-1zM294.4 110.4h1v1h-1zM285.8 100.5h1v1h-1zM287.2 101.5h1v1h-1zM295.6 110.7h1v1h-1zM300.2 116.9h1v1h-1zM287.0 99.2h1v1h-1zM297.6 100.4h1v1h-1zM252.2 148.0h1v1h-1zM288.5 106.5h1v1h-1zM289.2 106.7h1v1h-1zM291.2 103.8h1v1h-1zM294.9 97.6h1v1h-1zM283.9 97.5h1v1h-1zM291.0 109.9h1v1h-1zM285.2 109.2h1v1h-1zM284.0 105.4h1v1h-1zM283.6 104.9h1v1h-1zM289.1 103.0h1v1h-1zM288.2 99.7h1v1h-1zM274.5 102.5h1v1h-1zM288.9 114.7h1v1h-1zM295.6 113.0h1v1h-1zM296.3 107.6h1v1h-1zM292.9 106.3h1v1h-1zM238.6 114.8h1v1h-1zM304.9 111.8h1v1h-1zM300.6 107.4h1v1h-1zM299.4 113.5h1v1h-1zM286.2 102.2h1v1h-1zM285.7 112.4h1v1h-1zM302.0 111.6h1v1h-1zM287.2 98.9h1v1h-1zM282.3 106.8h1v1h-1zM293.5 102.6h1v1h-1zM284.1 103.4h1v1h-1zM300.0 107.3h1v1h-1zM271.0 111.1h1v1h-1zM273.8 109.6h1v1h-1zM287.7 106.3h1v1h-1zM299.8 98.2h1v1h-1zM286.2 101.3h1v1h-1zM274.1 138.9h1v1h-1zM279.9 100.2h1v1h-1zM296.4 113.0h1v1h-1zM289.1 112.5h1v1h-1zM283.1 113.2h1v1h-1zM295.5 109.2h1v1h-1zM276.2 107.8h1v1h-1zM290.9 100.9h1v1h-1zM287.6 105.1h1v1h-1zM268.5 106.2h1v1h-1zM301.2 103.4h1v1h-1zM287.5 101.6h1v1h-1zM286.7 102.6h1v1h-1zM285.1 112.9h1v1h-1zM293.0 109.4h1v1h-1zM287.9 115.5h1v1h-1zM250.2 96.2h1v1h-1zM280.1 132.7h1v1h-1zM231.2 127.2h1v1h-1zM310.1 109.3h1v1h-1zM294.0 107.1h1v1h-1zM303.4 110.2h1v1h-1zM283.9 117.9h1v1h-1zM285.0 112.2h1v1h-1zM287.8 99.9h1v1h-1zM299.4 101.7h1v1h-1zM283.6 109.9h1v1h-1zM271.7 110.6h1v1h-1zM277.9 101.0h1v1h-1zM287.5 113.8h1v1h-1zM299.7 107.9h1v1h-1zM248.4 112.0h1v1h-1zM298.3 103.5h1v1h-1zM298.0 108.6h1v1h-1zM295.5 106.0h1v1h-1zM267.3 105.6h1v1h-1zM281.5 99.2h1v1h-1zM301.9 144.1h1v1h-1zM307.0 111.9h1v1h-1zM292.5 100.9h1v1h-1zM292.6 101.6h1v1h-1zM286.9 104.7h1v1h-1zM279.4 101.9h1v1h-1zM293.5 111.1h1v1h-1zM296.2 108.9h1v1h-1zM285.2 102.7h1v1h-1zM279.5 104.3h1v1h-1zM250.5 138.4h1v1h-1zM290.7 104.3h1v1h-1zM289.7 113.4h1v1h-1zM290.6 108.6h1v1h-1zM285.5 102.0h1v1h-1zM280.8 110.3h1v1h-1zM301.8 99.4h1v1h-1zM290.6 97.5h1v1h-1zM270.7 102.0h1v1h-1zM288.7 101.3h1v1h-1zM274.8 104.2h1v1h-1zM301.1 112.1h1v1h-1zM277.1 111.9h1v1h-1zM288.1 107.9h1v1h-1zM303.8 105.6h1v1h-1zM280.5 104.5h1v1h-1zM289.7 106.8h1v1h-1zM284.8 113.4h1v1h-1zM293.2 107.4h1v1h-1zM291.2 103.7h1v1h-1zM284.9 110.4h1v1h-1zM278.0 106.9h1v1h-1zM307.5 104.7h1v1h-1zM270.1 103.1h1v1h-1zM240.9 101.5h1v1h-1zM275.1 98.8h1v1h-1zM270.9 103.5h1v1h-1zM282.2 101.5h1v1h-1zM297.6 103.4h1v1h-1zM281.4 107.1h1v1h-1zM305.2 133.9h1v1h-1zM279.6 109.6h1v1h-1zM274.7 102.0h1v1h-1zM292.6 102.7h1v1h-1zM291.5 107.1h1v1h-1zM279.8 106.8h1v1h-1zM278.5 105.2h1v1h-1zM302.9 115.1h1v1h-1z" fill="rgba(170,40,40,0.6)"/>
<rect x="228.4" y="57.7" width="96.2" height="95.7" fill="none" stroke="#9a9a9a" stroke-width="1.0"/>
<line x1="228.4" y1="153.4" x2="324.6" y2="153.4" stroke="#6a6a6a" stroke-width="1.3"/>
<line x1="252.70000000000002" y1="57.7" x2="252.70000000000002" y2="153.4" stroke="#8c8c8c" stroke-width="1.1"/>
<line x1="228.4" y1="125.5" x2="324.6" y2="125.5" stroke="#858585" stroke-width="1.1"/>
<rect x="251.70000000000002" y="124.5" width="2" height="2" fill="#111"/>
<line x1="226.4" y1="57.7" x2="228.4" y2="57.7" stroke="#888" stroke-width="0.8"/>
<line x1="228.4" y1="153.4" x2="228.4" y2="155.4" stroke="#777" stroke-width="0.8"/>
<line x1="226.4" y1="81.625" x2="228.4" y2="81.625" stroke="#888" stroke-width="0.8"/>
<line x1="252.45000000000002" y1="153.4" x2="252.45000000000002" y2="155.4" stroke="#777" stroke-width="0.8"/>
<line x1="226.4" y1="105.55000000000001" x2="228.4" y2="105.55000000000001" stroke="#888" stroke-width="0.8"/>
<line x1="276.5" y1="153.4" x2="276.5" y2="155.4" stroke="#777" stroke-width="0.8"/>
<line x1="226.4" y1="129.47500000000002" x2="228.4" y2="129.47500000000002" stroke="#888" stroke-width="0.8"/>
<line x1="300.55" y1="153.4" x2="300.55" y2="155.4" stroke="#777" stroke-width="0.8"/>
<line x1="226.4" y1="153.4" x2="228.4" y2="153.4" stroke="#888" stroke-width="0.8"/>
<line x1="324.6" y1="153.4" x2="324.6" y2="155.4" stroke="#777" stroke-width="0.8"/>
<text x="230.70000000000002" y="63.5" font-size="5" font-weight="normal" text-anchor="start" fill="#3a3a3a" >R2</text>
<text x="254.70000000000002" y="63.5" font-size="5" font-weight="normal" text-anchor="start" fill="#3a3a3a" >R3</text>
<text x="230.70000000000002" y="131" font-size="5" font-weight="normal" text-anchor="start" fill="#3a3a3a" >R4</text>
<text x="254.70000000000002" y="131" font-size="5" font-weight="normal" text-anchor="start" fill="#3a3a3a" >R5</text>
<text x="310.9" y="72.8" font-size="9.7" font-weight="bold" text-anchor="end" fill="#111" stroke="#111" stroke-width="0.2">6 h</text>
<text x="0" y="0" font-size="10.6" font-weight="bold" text-anchor="middle" fill="#111" transform="translate(10.6,107.3) rotate(-90)">CD25</text>
<text x="22.7" y="170.6" font-size="9.7" font-weight="bold" text-anchor="start" fill="#111" >gpC9M</text>
<line x1="59" y1="167.7" x2="318" y2="167.7" stroke="#444" stroke-width="1.3"/>
<path d="M317.3 164.4L323.8 167.7L317.3 171z" fill="#111"/>
<line x1="33.6" y1="234" x2="33.6" y2="330" stroke="#3a3a3a" stroke-width="1.2"/>
<line x1="33.6" y1="330" x2="119.3" y2="330" stroke="#3a3a3a" stroke-width="1.2"/>
<line x1="31.1" y1="330.0" x2="33.6" y2="330.0" stroke="#3a3a3a" stroke-width="1"/>
<text x="30.5" y="333.0" font-size="8.4" font-weight="bold" text-anchor="end" fill="#1a1a1a" stroke="#1a1a1a" stroke-width="0.22">0</text>
<line x1="31.1" y1="310.8" x2="33.6" y2="310.8" stroke="#3a3a3a" stroke-width="1"/>
<text x="30.5" y="313.8" font-size="8.4" font-weight="bold" text-anchor="end" fill="#1a1a1a" stroke="#1a1a1a" stroke-width="0.22">25</text>
<line x1="31.1" y1="291.6" x2="33.6" y2="291.6" stroke="#3a3a3a" stroke-width="1"/>
<text x="30.5" y="294.6" font-size="8.4" font-weight="bold" text-anchor="end" fill="#1a1a1a" stroke="#1a1a1a" stroke-width="0.22">50</text>
<line x1="31.1" y1="272.4" x2="33.6" y2="272.4" stroke="#3a3a3a" stroke-width="1"/>
<text x="30.5" y="275.4" font-size="8.4" font-weight="bold" text-anchor="end" fill="#1a1a1a" stroke="#1a1a1a" stroke-width="0.22">75</text>
<line x1="31.1" y1="253.2" x2="33.6" y2="253.2" stroke="#3a3a3a" stroke-width="1"/>
<text x="30.5" y="256.2" font-size="8.4" font-weight="bold" text-anchor="end" fill="#1a1a1a" stroke="#1a1a1a" stroke-width="0.22">100</text>
<line x1="31.1" y1="234.0" x2="33.6" y2="234.0" stroke="#3a3a3a" stroke-width="1"/>
<text x="30.5" y="237.0" font-size="8.4" font-weight="bold" text-anchor="end" fill="#1a1a1a" stroke="#1a1a1a" stroke-width="0.22">125</text>
<line x1="33.6" y1="330" x2="33.6" y2="332.5" stroke="#3a3a3a" stroke-width="1"/>
<text x="33.6" y="340.4" font-size="8.4" font-weight="bold" text-anchor="middle" fill="#1a1a1a" stroke="#1a1a1a" stroke-width="0.22">0</text>
<line x1="50.7" y1="330" x2="50.7" y2="332.5" stroke="#3a3a3a" stroke-width="1"/>
<text x="50.7" y="340.4" font-size="8.4" font-weight="bold" text-anchor="middle" fill="#1a1a1a" stroke="#1a1a1a" stroke-width="0.22">30</text>
<line x1="67.9" y1="330" x2="67.9" y2="332.5" stroke="#3a3a3a" stroke-width="1"/>
<text x="67.9" y="340.4" font-size="8.4" font-weight="bold" text-anchor="middle" fill="#1a1a1a" stroke="#1a1a1a" stroke-width="0.22">60</text>
<line x1="85.0" y1="330" x2="85.0" y2="332.5" stroke="#3a3a3a" stroke-width="1"/>
<text x="85.0" y="340.4" font-size="8.4" font-weight="bold" text-anchor="middle" fill="#1a1a1a" stroke="#1a1a1a" stroke-width="0.22">90</text>
<line x1="102.2" y1="330" x2="102.2" y2="332.5" stroke="#3a3a3a" stroke-width="1"/>
<text x="102.2" y="340.4" font-size="8.4" font-weight="bold" text-anchor="middle" fill="#1a1a1a" stroke="#1a1a1a" stroke-width="0.22">120</text>
<line x1="119.3" y1="330" x2="119.3" y2="332.5" stroke="#3a3a3a" stroke-width="1"/>
<text x="119.3" y="340.4" font-size="8.4" font-weight="bold" text-anchor="middle" fill="#1a1a1a" stroke="#1a1a1a" stroke-width="0.22">150</text>
<polyline points="33.6,326.2 50.7,285.5 67.9,264.0 85.0,262.4 102.2,266.3 119.3,270.1" fill="none" stroke="#222" stroke-width="1.1"/>
<polyline points="33.6,326.2 50.7,326.2 67.9,323.9 85.0,324.6 102.2,324.6 119.3,322.7" fill="none" stroke="#222" stroke-width="1.1"/>
<line x1="50.7" y1="283.2" x2="50.7" y2="287.8" stroke="#222" stroke-width="1"/>
<line x1="48.9" y1="283.2" x2="52.5" y2="283.2" stroke="#222" stroke-width="0.8"/>
<line x1="48.9" y1="287.8" x2="52.5" y2="287.8" stroke="#222" stroke-width="0.8"/>
<line x1="119.3" y1="267.8" x2="119.3" y2="272.4" stroke="#222" stroke-width="1"/>
<line x1="117.5" y1="267.8" x2="121.1" y2="267.8" stroke="#222" stroke-width="0.8"/>
<line x1="117.5" y1="272.4" x2="121.1" y2="272.4" stroke="#222" stroke-width="0.8"/>
<rect x="31.7" y="324.3" width="3.8" height="3.8" fill="#111"/>
<rect x="48.8" y="283.6" width="3.8" height="3.8" fill="#111"/>
<rect x="66.0" y="262.1" width="3.8" height="3.8" fill="#111"/>
<rect x="83.1" y="260.5" width="3.8" height="3.8" fill="#111"/>
<rect x="100.3" y="264.4" width="3.8" height="3.8" fill="#111"/>
<rect x="117.4" y="268.2" width="3.8" height="3.8" fill="#111"/>
<path d="M33.6 323.9L35.8 327.8L31.4 327.8z" fill="#111"/>
<path d="M50.7 323.9L52.9 327.8L48.5 327.8z" fill="#111"/>
<path d="M67.9 321.6L70.1 325.5L65.7 325.5z" fill="#111"/>
<path d="M85.0 322.3L87.2 326.2L82.8 326.2z" fill="#111"/>
<path d="M102.2 322.3L104.4 326.2L100.0 326.2z" fill="#111"/>
<path d="M119.3 320.4L121.5 324.3L117.1 324.3z" fill="#111"/>
<text x="53.6" y="237.4" font-size="9.55" font-weight="bold" text-anchor="start" fill="#1a1a1a" >Tetramer-PE</text>
<line x1="156.3" y1="234.2" x2="156.3" y2="330" stroke="#3a3a3a" stroke-width="1.2"/>
<line x1="156.3" y1="330" x2="241.5" y2="330" stroke="#3a3a3a" stroke-width="1.2"/>
<line x1="153.8" y1="330.0" x2="156.3" y2="330.0" stroke="#3a3a3a" stroke-width="1"/>
<text x="153.20000000000002" y="333.0" font-size="8.4" font-weight="bold" text-anchor="end" fill="#1a1a1a" stroke="#1a1a1a" stroke-width="0.22">0</text>
<line x1="153.8" y1="310.8" x2="156.3" y2="310.8" stroke="#3a3a3a" stroke-width="1"/>
<text x="153.20000000000002" y="313.84" font-size="8.4" font-weight="bold" text-anchor="end" fill="#1a1a1a" stroke="#1a1a1a" stroke-width="0.22">5</text>
<line x1="153.8" y1="291.7" x2="156.3" y2="291.7" stroke="#3a3a3a" stroke-width="1"/>
<text x="153.20000000000002" y="294.68" font-size="8.4" font-weight="bold" text-anchor="end" fill="#1a1a1a" stroke="#1a1a1a" stroke-width="0.22">10</text>
<line x1="153.8" y1="272.5" x2="156.3" y2="272.5" stroke="#3a3a3a" stroke-width="1"/>
<text x="153.20000000000002" y="275.52" font-size="8.4" font-weight="bold" text-anchor="end" fill="#1a1a1a" stroke="#1a1a1a" stroke-width="0.22">15</text>
<line x1="153.8" y1="253.4" x2="156.3" y2="253.4" stroke="#3a3a3a" stroke-width="1"/>
<text x="153.20000000000002" y="256.36" font-size="8.4" font-weight="bold" text-anchor="end" fill="#1a1a1a" stroke="#1a1a1a" stroke-width="0.22">20</text>
<line x1="153.8" y1="234.2" x2="156.3" y2="234.2" stroke="#3a3a3a" stroke-width="1"/>
<text x="153.20000000000002" y="237.2" font-size="8.4" font-weight="bold" text-anchor="end" fill="#1a1a1a" stroke="#1a1a1a" stroke-width="0.22">25</text>
<line x1="156.3" y1="330" x2="156.3" y2="332.5" stroke="#3a3a3a" stroke-width="1"/>
<text x="156.3" y="340.4" font-size="8.4" font-weight="bold" text-anchor="middle" fill="#1a1a1a" stroke="#1a1a1a" stroke-width="0.22">0</text>
<line x1="173.3" y1="330" x2="173.3" y2="332.5" stroke="#3a3a3a" stroke-width="1"/>
<text x="173.3" y="340.4" font-size="8.4" font-weight="bold" text-anchor="middle" fill="#1a1a1a" stroke="#1a1a1a" stroke-width="0.22">30</text>
<line x1="190.4" y1="330" x2="190.4" y2="332.5" stroke="#3a3a3a" stroke-width="1"/>
<text x="190.4" y="340.4" font-size="8.4" font-weight="bold" text-anchor="middle" fill="#1a1a1a" stroke="#1a1a1a" stroke-width="0.22">60</text>
<line x1="207.4" y1="330" x2="207.4" y2="332.5" stroke="#3a3a3a" stroke-width="1"/>
<text x="207.4" y="340.4" font-size="8.4" font-weight="bold" text-anchor="middle" fill="#1a1a1a" stroke="#1a1a1a" stroke-width="0.22">90</text>
<line x1="224.5" y1="330" x2="224.5" y2="332.5" stroke="#3a3a3a" stroke-width="1"/>
<text x="224.5" y="340.4" font-size="8.4" font-weight="bold" text-anchor="middle" fill="#1a1a1a" stroke="#1a1a1a" stroke-width="0.22">120</text>
<line x1="241.5" y1="330" x2="241.5" y2="332.5" stroke="#3a3a3a" stroke-width="1"/>
<text x="241.5" y="340.4" font-size="8.4" font-weight="bold" text-anchor="middle" fill="#1a1a1a" stroke="#1a1a1a" stroke-width="0.22">150</text>
<polyline points="156.3,321.6 173.3,277.1 190.4,264.1 207.4,261.0 224.5,263.7 241.5,272.5" fill="none" stroke="#222" stroke-width="1.1"/>
<polyline points="156.3,321.6 173.3,322.3 190.4,322.5 207.4,322.5 224.5,322.0 241.5,321.6" fill="none" stroke="#222" stroke-width="1.1"/>
<rect x="154.4" y="319.7" width="3.8" height="3.8" fill="#111"/>
<rect x="171.4" y="275.2" width="3.8" height="3.8" fill="#111"/>
<rect x="188.5" y="262.2" width="3.8" height="3.8" fill="#111"/>
<rect x="205.5" y="259.1" width="3.8" height="3.8" fill="#111"/>
<rect x="222.6" y="261.8" width="3.8" height="3.8" fill="#111"/>
<rect x="239.6" y="270.6" width="3.8" height="3.8" fill="#111"/>
<path d="M156.3 319.3L158.5 323.2L154.1 323.2z" fill="#111"/>
<path d="M173.3 320.0L175.5 323.9L171.1 323.9z" fill="#111"/>
<path d="M190.4 320.2L192.6 324.1L188.2 324.1z" fill="#111"/>
<path d="M207.4 320.2L209.6 324.1L205.2 324.1z" fill="#111"/>
<path d="M224.5 319.7L226.7 323.6L222.3 323.6z" fill="#111"/>
<path d="M241.5 319.3L243.7 323.2L239.3 323.2z" fill="#111"/>
<text x="174.9" y="237.4" font-size="9.55" font-weight="bold" text-anchor="start" fill="#1a1a1a" >TCR C<tspan font-family="Liberation Serif" font-weight="normal" font-size="10" fill="#666">β</tspan>-FITC</text>
<line x1="89.2" y1="291.6" x2="101.3" y2="291.6" stroke="#222" stroke-width="1.1"/>
<rect x="93.5" y="289.7" width="3.8" height="3.8" fill="#111"/>
<line x1="89.2" y1="302.8" x2="101.3" y2="302.8" stroke="#222" stroke-width="1.1"/>
<path d="M95.4 300.5L97.6 304.4L93.2 304.4z" fill="#111"/>
<text x="122" y="294.8" font-size="8.2" font-weight="bold" text-anchor="end" fill="#1a1a1a" stroke="#1a1a1a" stroke-width="0.25">37<tspan font-size="6" dy="-3">o</tspan><tspan dy="3">C</tspan></text>
<text x="122" y="305.9" font-size="8.2" font-weight="bold" text-anchor="end" fill="#1a1a1a" stroke="#1a1a1a" stroke-width="0.25">4<tspan font-size="6" dy="-3">o</tspan><tspan dy="3">C</tspan></text>
<text x="0" y="0" font-size="10.65" font-weight="bold" text-anchor="middle" fill="#111" transform="translate(11.6,280.7) rotate(-90)">Mean fluorescence</text>
<text x="120.6" y="353.1" font-size="9.55" font-weight="bold" text-anchor="start" fill="#1a1a1a" >Time (min)</text>
<text x="349.5" y="232.5" font-size="9.55" font-weight="bold" text-anchor="middle" fill="#1a1a1a" >Internal tetramer-PE</text>
<text x="349.5" y="242.2" font-size="9.55" font-weight="bold" text-anchor="middle" fill="#1a1a1a" >(stripped cells)</text>
<text x="465.7" y="232.5" font-size="9.55" font-weight="bold" text-anchor="middle" fill="#1a1a1a" >Total tetramer-PE</text>
<text x="464.8" y="242.2" font-size="9.6" font-weight="bold" text-anchor="middle" fill="#1a1a1a" >(washed cells)</text>
<rect x="294.6" y="250.6" width="108.19999999999999" height="80.29999999999998" fill="none" stroke="#9a9a9a" stroke-width="1.1"/>
<line x1="293.1" y1="331" x2="402.8" y2="331" stroke="#555" stroke-width="1.3"/>
<line x1="292.6" y1="331.0" x2="294.6" y2="331.0" stroke="#888" stroke-width="0.8"/>
<line x1="292.6" y1="310.5" x2="294.6" y2="310.5" stroke="#888" stroke-width="0.8"/>
<line x1="292.6" y1="290.0" x2="294.6" y2="290.0" stroke="#888" stroke-width="0.8"/>
<line x1="292.6" y1="269.5" x2="294.6" y2="269.5" stroke="#888" stroke-width="0.8"/>
<line x1="294.6" y1="331" x2="294.6" y2="333" stroke="#777" stroke-width="0.8"/>
<line x1="321.8" y1="331" x2="321.8" y2="333" stroke="#777" stroke-width="0.8"/>
<line x1="349.0" y1="331" x2="349.0" y2="333" stroke="#777" stroke-width="0.8"/>
<line x1="376.2" y1="331" x2="376.2" y2="333" stroke="#777" stroke-width="0.8"/>
<line x1="403.4" y1="331" x2="403.4" y2="333" stroke="#777" stroke-width="0.8"/>
<rect x="410.6" y="250.6" width="107.79999999999995" height="80.29999999999998" fill="none" stroke="#9a9a9a" stroke-width="1.1"/>
<line x1="409.1" y1="331" x2="518.4" y2="331" stroke="#555" stroke-width="1.3"/>
<line x1="408.6" y1="331.0" x2="410.6" y2="331.0" stroke="#888" stroke-width="0.8"/>
<line x1="408.6" y1="310.5" x2="410.6" y2="310.5" stroke="#888" stroke-width="0.8"/>
<line x1="408.6" y1="290.0" x2="410.6" y2="290.0" stroke="#888" stroke-width="0.8"/>
<line x1="408.6" y1="269.5" x2="410.6" y2="269.5" stroke="#888" stroke-width="0.8"/>
<line x1="410.6" y1="331" x2="410.6" y2="333" stroke="#777" stroke-width="0.8"/>
<line x1="437.8" y1="331" x2="437.8" y2="333" stroke="#777" stroke-width="0.8"/>
<line x1="465.0" y1="331" x2="465.0" y2="333" stroke="#777" stroke-width="0.8"/>
<line x1="492.2" y1="331" x2="492.2" y2="333" stroke="#777" stroke-width="0.8"/>
<line x1="519.4" y1="331" x2="519.4" y2="333" stroke="#777" stroke-width="0.8"/>
<polyline points="295.2,310.6 295.9,306.9 296.6,306.3 297.3,303.1 298.0,301.3 298.7,303.3 299.4,302.0 300.1,295.2 300.8,297.5 301.5,296.4 302.2,290.4 302.9,292.7 303.6,289.5 304.3,291.1 305.0,289.6 305.7,292.4 306.4,289.1 307.1,288.0 307.8,291.4 308.5,292.1 309.2,295.2 309.9,302.4 310.6,301.5 311.3,306.2 312.0,311.7 312.7,316.9 313.4,314.7 314.1,320.0 314.8,321.0 315.5,322.7 316.2,325.1 316.9,326.1 317.6,328.0 318.3,328.2 319.0,329.0 319.7,329.3 320.4,329.6 321.1,329.7 321.8,329.8 322.5,329.9 323.2,329.9 323.9,330.0 324.6,330.0 325.3,330.0 326.0,330.0 326.7,329.9 327.4,329.9 328.1,329.8 328.8,329.6 329.5,329.3 330.2,329.0 330.9,327.9 331.6,326.9 332.3,327.3 333.0,326.0 333.7,323.9 334.4,316.8 335.1,316.8 335.8,311.4 336.5,308.7 337.2,301.9 337.9,296.8 338.6,291.0 339.3,283.5 340.0,278.0 340.7,271.2 341.4,268.9 342.1,265.0 342.8,264.7 343.5,264.6 344.2,269.0 344.9,275.9 345.6,276.2 346.3,281.1 347.0,287.5 347.7,295.7 348.4,300.6 349.1,309.2 349.8,310.1 350.5,315.9 351.2,321.2 351.9,324.7 352.6,323.5 353.3,325.2 354.0,328.2 354.7,328.1 355.4,329.0 356.1,329.3 356.8,329.6 357.5,329.8 358.2,329.9 358.9,329.9 359.6,330.0 360.3,330.0 361.0,330.0 361.7,330.0 362.4,330.0 363.1,330.0 363.8,330.0 364.5,330.0 365.2,330.0 365.9,330.0 366.6,330.0 367.3,330.0 368.0,330.0 368.7,330.0 369.4,330.0 370.1,330.0 370.8,330.0 371.5,330.0 372.2,330.0 372.9,330.0 373.6,330.0 374.3,330.0 375.0,330.0 375.7,330.0 376.4,330.0 377.1,330.0 377.8,330.0 378.5,330.0 379.2,330.0 379.9,330.0 380.6,330.0 381.3,330.0 382.0,330.0 382.7,330.0 383.4,330.0 384.1,330.0 384.8,330.0 385.5,330.0 386.2,330.0 386.9,330.0 387.6,330.0 388.3,330.0 389.0,330.0 389.7,330.0 390.4,330.0 391.1,330.0 391.8,330.0 392.5,330.0 393.2,330.0 393.9,330.0 394.6,330.0 395.3,330.0 396.0,330.0 396.7,330.0 397.4,330.0 398.1,330.0 398.8,330.0 399.5,330.0 400.2,330.0 400.9,330.0 401.6,330.0" fill="none" stroke="#b0b0b0" stroke-width="0.95" stroke-linejoin="round"/>
<polyline points="295.2,327.3 295.9,326.4 296.6,325.6 297.3,324.3 298.0,323.9 298.7,322.1 299.4,324.7 300.1,321.6 300.8,317.4 301.5,317.7 302.2,314.7 302.9,317.8 303.6,313.9 304.3,313.5 305.0,309.8 305.7,307.8 306.4,309.3 307.1,306.3 307.8,304.2 308.5,298.7 309.2,298.1 309.9,300.4 310.6,295.4 311.3,298.5 312.0,294.9 312.7,297.4 313.4,298.0 314.1,293.0 314.8,297.7 315.5,298.9 316.2,296.1 316.9,298.9 317.6,304.8 318.3,303.3 319.0,308.5 319.7,310.4 320.4,315.8 321.1,313.9 321.8,317.6 322.5,318.3 323.2,320.9 323.9,324.8 324.6,325.8 325.3,327.2 326.0,327.9 326.7,328.5 327.4,328.6 328.1,328.7 328.8,329.3 329.5,329.0 330.2,328.8 330.9,328.7 331.6,328.3 332.3,326.6 333.0,326.0 333.7,324.9 334.4,322.2 335.1,318.1 335.8,318.5 336.5,308.9 337.2,309.8 337.9,300.0 338.6,293.7 339.3,292.7 340.0,282.2 340.7,279.2 341.4,273.2 342.1,272.9 342.8,270.2 343.5,268.4 344.2,264.3 344.9,270.9 345.6,270.9 346.3,274.4 347.0,279.6 347.7,289.0 348.4,294.9 349.1,299.8 349.8,303.8 350.5,312.8 351.2,313.3 351.9,316.6 352.6,319.6 353.3,325.5 354.0,324.4 354.7,327.7 355.4,328.2 356.1,328.6 356.8,329.1 357.5,329.5 358.2,329.7 358.9,329.8 359.6,329.9 360.3,329.9 361.0,330.0 361.7,330.0 362.4,330.0 363.1,330.0 363.8,330.0 364.5,330.0 365.2,330.0 365.9,330.0 366.6,330.0 367.3,330.0 368.0,330.0 368.7,330.0 369.4,330.0 370.1,330.0 370.8,330.0 371.5,330.0 372.2,330.0 372.9,330.0 373.6,330.0 374.3,330.0 375.0,330.0 375.7,330.0 376.4,330.0 377.1,330.0 377.8,330.0 378.5,330.0 379.2,330.0 379.9,330.0 380.6,330.0 381.3,330.0 382.0,330.0 382.7,330.0 383.4,330.0 384.1,330.0 384.8,330.0 385.5,330.0 386.2,330.0 386.9,330.0 387.6,330.0 388.3,330.0 389.0,330.0 389.7,330.0 390.4,330.0 391.1,330.0 391.8,330.0 392.5,330.0 393.2,330.0 393.9,330.0 394.6,330.0 395.3,330.0 396.0,330.0 396.7,330.0 397.4,330.0 398.1,330.0 398.8,330.0 399.5,330.0 400.2,330.0 400.9,330.0 401.6,330.0" fill="none" stroke="#787878" stroke-width="1.0" stroke-linejoin="round"/>
<polyline points="295.2,328.0 295.9,327.7 296.6,327.7 297.3,325.6 298.0,327.0 298.7,324.8 299.4,322.5 300.1,324.7 300.8,321.4 301.5,319.7 302.2,321.8 302.9,318.2 303.6,314.7 304.3,314.5 305.0,311.1 305.7,312.7 306.4,310.4 307.1,309.3 307.8,305.2 308.5,300.9 309.2,301.3 309.9,298.7 310.6,299.7 311.3,296.4 312.0,299.3 312.7,297.4 313.4,294.7 314.1,294.2 314.8,296.1 315.5,298.8 316.2,299.0 316.9,301.2 317.6,302.9 318.3,302.2 319.0,308.5 319.7,307.2 320.4,309.9 321.1,317.5 321.8,318.1 322.5,319.6 323.2,324.0 323.9,323.6 324.6,323.5 325.3,326.9 326.0,326.8 326.7,328.3 327.4,328.3 328.1,328.5 328.8,329.2 329.5,329.4 330.2,329.5 330.9,329.6 331.6,329.6 332.3,329.4 333.0,329.2 333.7,329.0 334.4,328.8 335.1,328.0 335.8,326.1 336.5,326.2 337.2,324.4 337.9,319.9 338.6,314.0 339.3,313.0 340.0,308.5 340.7,301.8 341.4,299.3 342.1,290.4 342.8,286.7 343.5,278.3 344.2,271.0 344.9,272.1 345.6,265.9 346.3,263.8 347.0,266.2 347.7,266.6 348.4,264.9 349.1,268.8 349.8,278.9 350.5,281.0 351.2,285.5 351.9,295.9 352.6,299.5 353.3,308.4 354.0,311.4 354.7,313.9 355.4,318.0 356.1,320.0 356.8,325.3 357.5,326.0 358.2,326.3 358.9,327.8 359.6,328.7 360.3,329.1 361.0,329.4 361.7,329.7 362.4,329.8 363.1,329.9 363.8,329.9 364.5,330.0 365.2,330.0 365.9,330.0 366.6,330.0 367.3,330.0 368.0,330.0 368.7,330.0 369.4,330.0 370.1,330.0 370.8,330.0 371.5,330.0 372.2,330.0 372.9,330.0 373.6,330.0 374.3,330.0 375.0,330.0 375.7,330.0 376.4,330.0 377.1,330.0 377.8,330.0 378.5,330.0 379.2,330.0 379.9,330.0 380.6,330.0 381.3,330.0 382.0,330.0 382.7,330.0 383.4,330.0 384.1,330.0 384.8,330.0 385.5,330.0 386.2,330.0 386.9,330.0 387.6,330.0 388.3,330.0 389.0,330.0 389.7,330.0 390.4,330.0 391.1,330.0 391.8,330.0 392.5,330.0 393.2,330.0 393.9,330.0 394.6,330.0 395.3,330.0 396.0,330.0 396.7,330.0 397.4,330.0 398.1,330.0 398.8,330.0 399.5,330.0 400.2,330.0 400.9,330.0 401.6,330.0" fill="none" stroke="#1e1e1e" stroke-width="1.05" stroke-linejoin="round"/>
<polyline points="411.2,324.4 411.9,323.2 412.6,321.0 413.3,321.8 414.0,320.6 414.7,319.1 415.4,319.9 416.1,317.0 416.8,315.1 417.5,312.9 418.2,315.0 418.9,312.5 419.6,312.1 420.3,307.0 421.0,306.0 421.7,307.8 422.4,301.6 423.1,300.2 423.8,300.4 424.5,299.3 425.2,300.3 425.9,299.9 426.6,296.3 427.3,297.8 428.0,296.4 428.7,295.6 429.4,296.2 430.1,293.8 430.8,293.8 431.5,292.3 432.2,295.3 432.9,296.9 433.6,300.5 434.3,303.0 435.0,307.6 435.7,312.0 436.4,311.9 437.1,315.0 437.8,318.6 438.5,321.9 439.2,325.1 439.9,326.6 440.6,327.6 441.3,328.5 442.0,328.6 442.7,329.2 443.4,329.5 444.1,329.7 444.8,329.8 445.5,329.9 446.2,329.9 446.9,330.0 447.6,330.0 448.3,330.0 449.0,330.0 449.7,330.0 450.4,330.0 451.1,330.0 451.8,330.0 452.5,330.0 453.2,330.0 453.9,330.0 454.6,330.0 455.3,330.0 456.0,330.0 456.7,330.0 457.4,330.0 458.1,330.0 458.8,330.0 459.5,330.0 460.2,330.0 460.9,330.0 461.6,330.0 462.3,330.0 463.0,330.0 463.7,330.0 464.4,330.0 465.1,330.0 465.8,330.0 466.5,329.9 467.2,329.8 467.9,329.7 468.6,329.3 469.3,328.8 470.0,327.2 470.7,326.2 471.4,322.0 472.1,318.4 472.8,318.2 473.5,311.8 474.2,302.5 474.9,298.8 475.6,291.2 476.3,290.4 477.0,290.2 477.7,287.9 478.4,289.8 479.1,296.8 479.8,303.2 480.5,307.9 481.2,310.4 481.9,316.4 482.6,323.3 483.3,325.4 484.0,327.4 484.7,328.6 485.4,328.8 486.1,329.5 486.8,329.7 487.5,329.9 488.2,329.9 488.9,330.0 489.6,330.0 490.3,330.0 491.0,330.0 491.7,330.0 492.4,330.0 493.1,330.0 493.8,330.0 494.5,330.0 495.2,330.0 495.9,330.0 496.6,330.0 497.3,330.0 498.0,330.0 498.7,330.0 499.4,330.0 500.1,330.0 500.8,330.0 501.5,330.0 502.2,330.0 502.9,330.0 503.6,330.0 504.3,330.0 505.0,330.0 505.7,330.0 506.4,330.0 507.1,330.0 507.8,330.0 508.5,330.0 509.2,330.0 509.9,330.0 510.6,330.0 511.3,330.0 512.0,330.0 512.7,330.0 513.4,330.0 514.1,330.0 514.8,330.0 515.5,330.0 516.2,330.0 516.9,330.0 517.6,330.0" fill="none" stroke="#b0b0b0" stroke-width="0.95" stroke-linejoin="round"/>
<polyline points="411.2,330.0 411.9,330.0 412.6,330.0 413.3,330.0 414.0,330.0 414.7,330.0 415.4,330.0 416.1,330.0 416.8,330.0 417.5,330.0 418.2,330.0 418.9,330.0 419.6,330.0 420.3,330.0 421.0,330.0 421.7,330.0 422.4,330.0 423.1,330.0 423.8,330.0 424.5,330.0 425.2,330.0 425.9,330.0 426.6,330.0 427.3,330.0 428.0,330.0 428.7,330.0 429.4,330.0 430.1,330.0 430.8,330.0 431.5,330.0 432.2,330.0 432.9,330.0 433.6,330.0 434.3,330.0 435.0,330.0 435.7,330.0 436.4,330.0 437.1,330.0 437.8,330.0 438.5,330.0 439.2,330.0 439.9,330.0 440.6,330.0 441.3,330.0 442.0,330.0 442.7,330.0 443.4,330.0 444.1,330.0 444.8,330.0 445.5,330.0 446.2,330.0 446.9,330.0 447.6,330.0 448.3,330.0 449.0,330.0 449.7,330.0 450.4,330.0 451.1,330.0 451.8,330.0 452.5,330.0 453.2,330.0 453.9,330.0 454.6,330.0 455.3,330.0 456.0,330.0 456.7,330.0 457.4,330.0 458.1,330.0 458.8,330.0 459.5,329.9 460.2,329.9 460.9,329.8 461.6,329.7 462.3,329.5 463.0,329.2 463.7,328.9 464.4,327.9 465.1,326.8 465.8,324.9 466.5,324.7 467.2,322.4 467.9,319.8 468.6,315.4 469.3,308.1 470.0,305.5 470.7,297.3 471.4,292.3 472.1,285.0 472.8,277.7 473.5,269.5 474.2,265.4 474.9,264.5 475.6,260.8 476.3,260.8 477.0,258.3 477.7,261.5 478.4,265.8 479.1,271.2 479.8,278.0 480.5,283.7 481.2,291.3 481.9,300.5 482.6,303.6 483.3,310.8 484.0,314.0 484.7,318.7 485.4,322.3 486.1,324.7 486.8,326.2 487.5,327.6 488.2,328.6 488.9,328.7 489.6,329.3 490.3,329.6 491.0,329.8 491.7,329.9 492.4,329.9 493.1,330.0 493.8,330.0 494.5,330.0 495.2,330.0 495.9,330.0 496.6,330.0 497.3,330.0 498.0,330.0 498.7,330.0 499.4,330.0 500.1,330.0 500.8,330.0 501.5,330.0 502.2,330.0 502.9,330.0 503.6,330.0 504.3,330.0 505.0,330.0 505.7,330.0 506.4,330.0 507.1,330.0 507.8,330.0 508.5,330.0 509.2,330.0 509.9,330.0 510.6,330.0 511.3,330.0 512.0,330.0 512.7,330.0 513.4,330.0 514.1,330.0 514.8,330.0 515.5,330.0 516.2,330.0 516.9,330.0 517.6,330.0" fill="none" stroke="#787878" stroke-width="1.0" stroke-linejoin="round"/>
<polyline points="411.2,330.0 411.9,330.0 412.6,330.0 413.3,330.0 414.0,330.0 414.7,330.0 415.4,330.0 416.1,330.0 416.8,330.0 417.5,330.0 418.2,330.0 418.9,330.0 419.6,330.0 420.3,330.0 421.0,330.0 421.7,330.0 422.4,330.0 423.1,330.0 423.8,330.0 424.5,330.0 425.2,330.0 425.9,330.0 426.6,330.0 427.3,330.0 428.0,330.0 428.7,330.0 429.4,330.0 430.1,330.0 430.8,330.0 431.5,330.0 432.2,330.0 432.9,330.0 433.6,330.0 434.3,330.0 435.0,330.0 435.7,330.0 436.4,330.0 437.1,330.0 437.8,330.0 438.5,330.0 439.2,330.0 439.9,330.0 440.6,330.0 441.3,330.0 442.0,330.0 442.7,330.0 443.4,330.0 444.1,330.0 444.8,330.0 445.5,330.0 446.2,330.0 446.9,330.0 447.6,330.0 448.3,330.0 449.0,330.0 449.7,330.0 450.4,330.0 451.1,330.0 451.8,330.0 452.5,330.0 453.2,330.0 453.9,330.0 454.6,330.0 455.3,330.0 456.0,330.0 456.7,330.0 457.4,330.0 458.1,330.0 458.8,330.0 459.5,330.0 460.2,330.0 460.9,329.9 461.6,329.9 462.3,329.8 463.0,329.7 463.7,329.5 464.4,329.2 465.1,328.7 465.8,327.7 466.5,326.3 467.2,326.1 467.9,322.9 468.6,320.3 469.3,317.1 470.0,315.9 470.7,311.5 471.4,304.1 472.1,296.0 472.8,291.8 473.5,283.7 474.2,277.9 474.9,269.0 475.6,263.3 476.3,262.0 477.0,256.7 477.7,260.7 478.4,258.1 479.1,260.7 479.8,268.6 480.5,271.4 481.2,278.5 481.9,283.4 482.6,294.0 483.3,298.9 484.0,303.3 484.7,309.9 485.4,316.1 486.1,321.0 486.8,320.2 487.5,324.4 488.2,325.1 488.9,327.8 489.6,328.0 490.3,328.7 491.0,329.3 491.7,329.6 492.4,329.8 493.1,329.9 493.8,329.9 494.5,330.0 495.2,330.0 495.9,330.0 496.6,330.0 497.3,330.0 498.0,330.0 498.7,330.0 499.4,330.0 500.1,330.0 500.8,330.0 501.5,330.0 502.2,330.0 502.9,330.0 503.6,330.0 504.3,330.0 505.0,330.0 505.7,330.0 506.4,330.0 507.1,330.0 507.8,330.0 508.5,330.0 509.2,330.0 509.9,330.0 510.6,330.0 511.3,330.0 512.0,330.0 512.7,330.0 513.4,330.0 514.1,330.0 514.8,330.0 515.5,330.0 516.2,330.0 516.9,330.0 517.6,330.0" fill="none" stroke="#1e1e1e" stroke-width="1.05" stroke-linejoin="round"/>
<text x="0" y="0" font-size="9.4" font-weight="bold" text-anchor="middle" fill="#111" transform="translate(284.8,288) rotate(-90)">Counts</text>
<text x="296.8" y="346.8" font-size="9.65" font-weight="bold" text-anchor="start" fill="#1a1a1a" >Tetramer</text>
<line x1="340" y1="343.5" x2="508.5" y2="343.5" stroke="#444" stroke-width="1.3"/>
<path d="M507.6 340.3L515.6 343.5L507.6 346.7z" fill="#111"/>
<text x="296.5" y="267.7" font-size="9.65" font-weight="bold" text-anchor="start" fill="#1a1a1a" >hyC2A</text>
<line x1="305.5" y1="271.3" x2="305.5" y2="280" stroke="#222" stroke-width="1.1"/>
<path d="M302.3 279.2L308.8 279.2L305.5 285.5z" fill="#111"/>
<text x="396.5" y="261.5" font-size="9.1" font-weight="bold" text-anchor="end" fill="#1a1a1a" >37<tspan font-size="6" dy="-1.3">o</tspan><tspan dy="1.3">C</tspan></text>
<text x="512" y="261.5" font-size="9.1" font-weight="bold" text-anchor="end" fill="#1a1a1a" >37<tspan font-size="6" dy="-1.3">o</tspan><tspan dy="1.3">C</tspan></text>
<text x="400.2" y="286.6" font-size="9.1" font-weight="bold" text-anchor="end" fill="#1a1a1a" >gpC9M</text>
<line x1="367.8" y1="294.3" x2="378.3" y2="294.3" stroke="#b4b4b4" stroke-width="1.1"/>
<line x1="367.8" y1="304.4" x2="378.3" y2="304.4" stroke="#7a7a7a" stroke-width="1.5"/>
<line x1="367.8" y1="315.2" x2="378.3" y2="315.2" stroke="#1e1e1e" stroke-width="2"/>
<text x="393.2" y="297.5" font-size="9.1" font-weight="bold" text-anchor="end" fill="#1a1a1a" >0</text>
<text x="393.2" y="307.6" font-size="9.1" font-weight="bold" text-anchor="end" fill="#1a1a1a" >30</text>
<text x="393.2" y="318.4" font-size="9.1" font-weight="bold" text-anchor="end" fill="#1a1a1a" >60</text>
</svg>
</body></html>
